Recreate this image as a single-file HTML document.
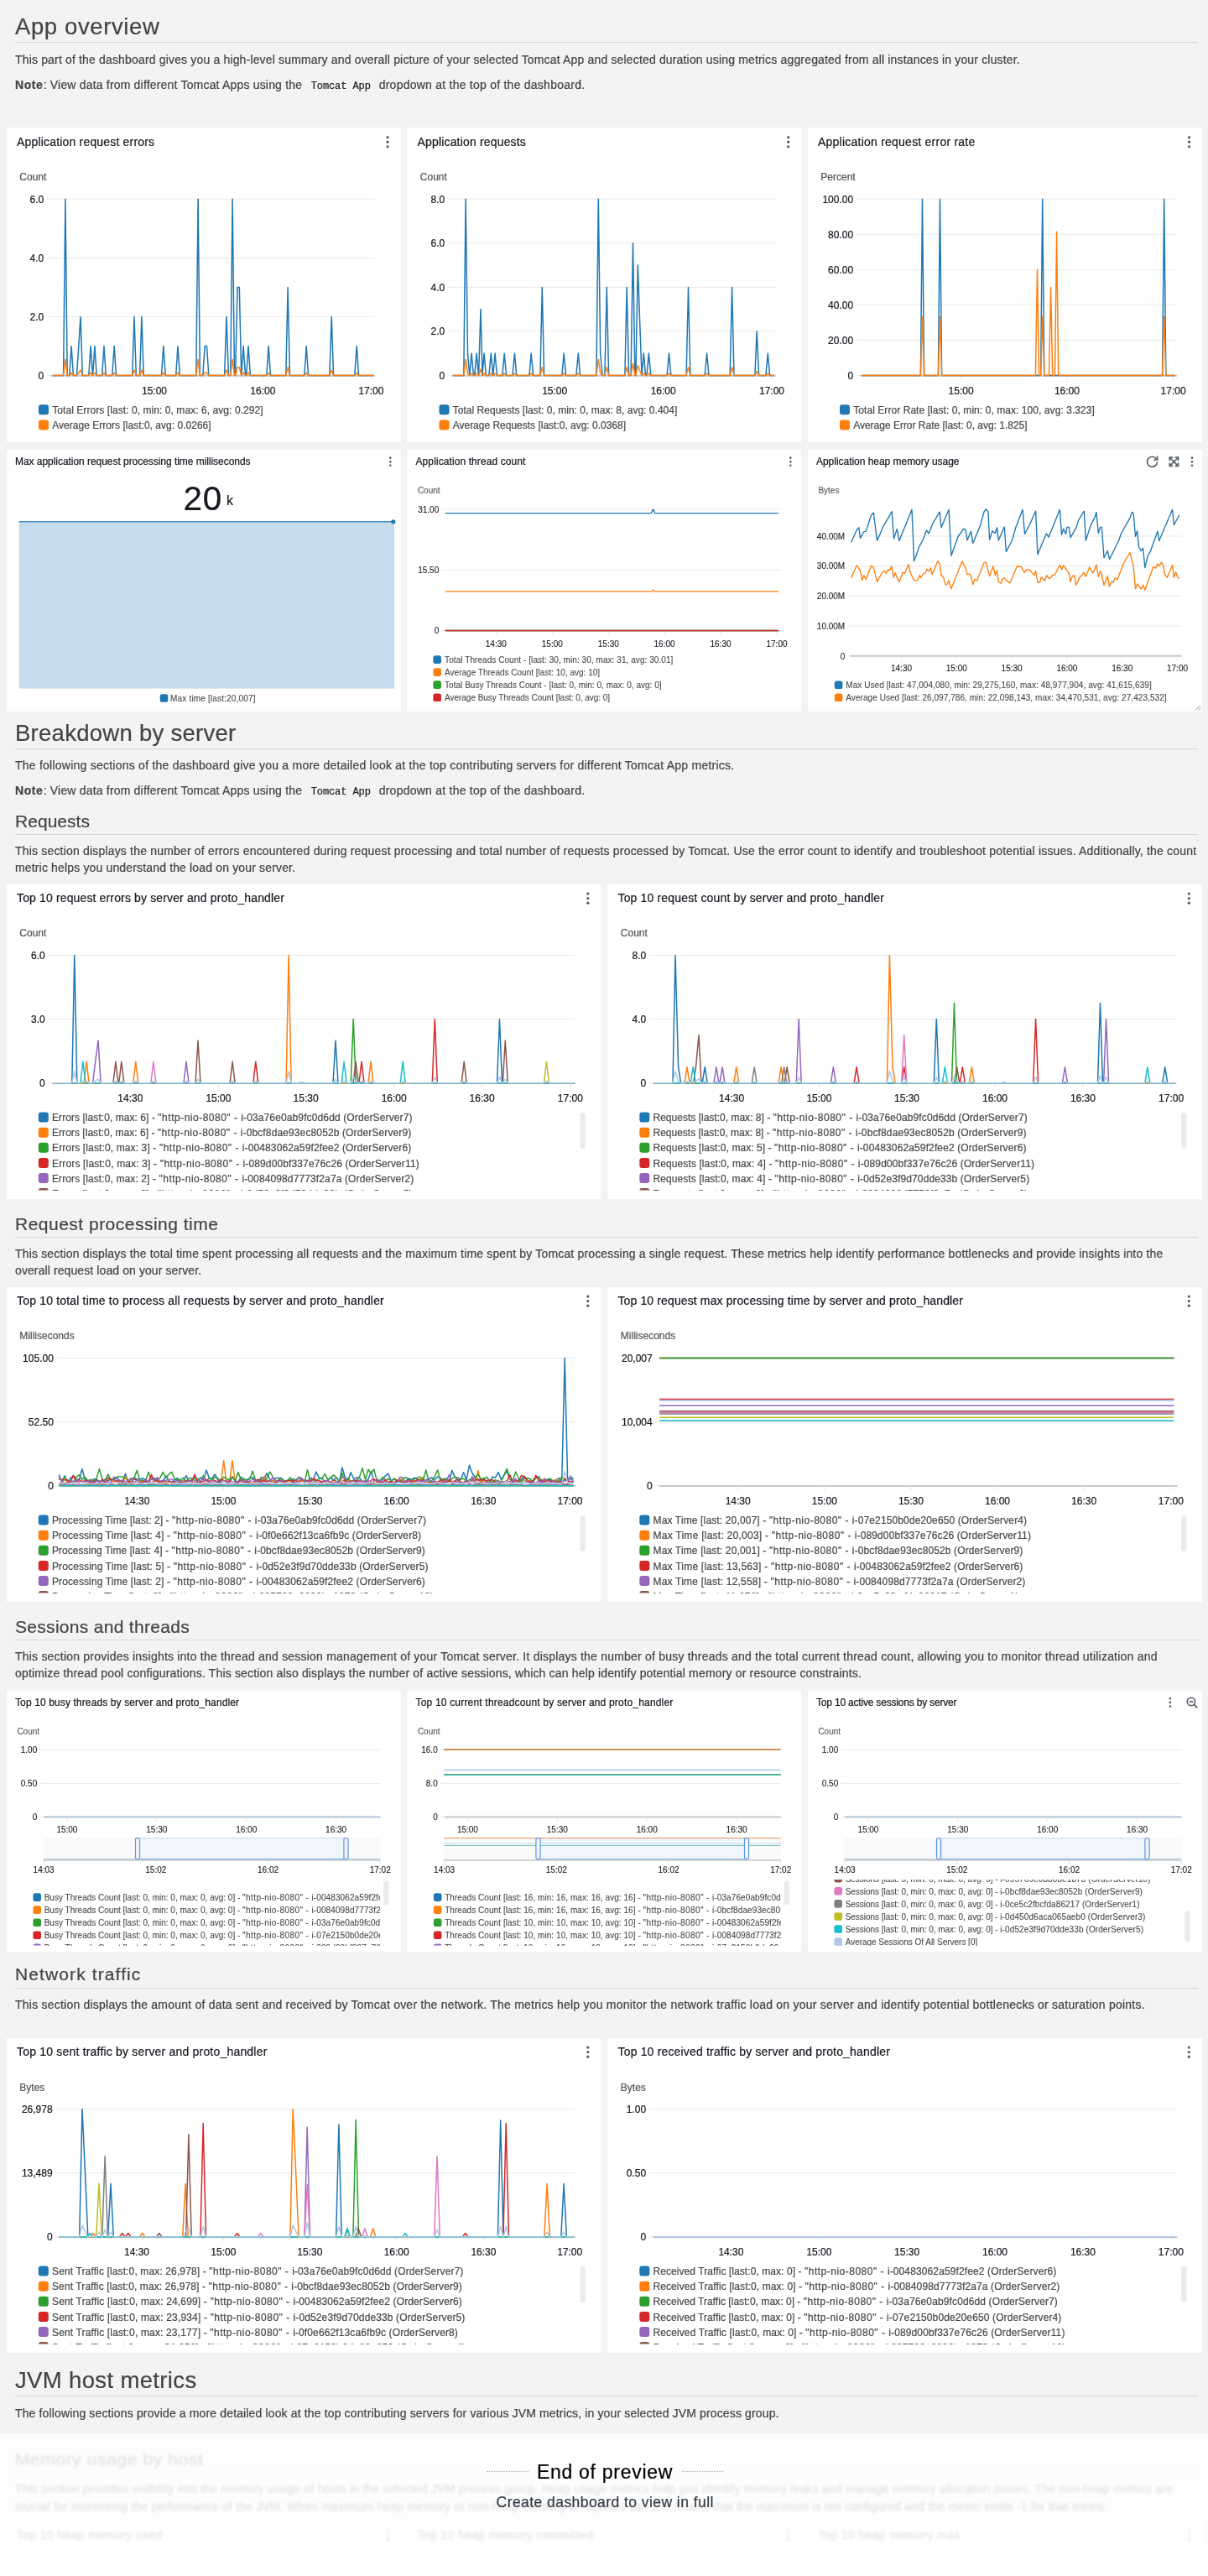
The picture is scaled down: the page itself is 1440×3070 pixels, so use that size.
<!DOCTYPE html>
<html lang="en"><head><meta charset="utf-8"><title>Tomcat dashboard preview</title>
<style>html,body{margin:0;padding:0}body{width:1440px;height:3070px;position:relative;overflow:hidden;background:#f2f3f3;font-family:"Liberation Sans",sans-serif}.t{position:absolute;white-space:pre;line-height:1;-webkit-text-stroke:0.22px currentColor}.c{position:absolute;overflow:hidden}svg.g{position:absolute;left:0;top:0}#w{position:absolute;left:0;top:0;width:1440px;height:3070px;will-change:transform}</style></head><body><div id="w">
<svg class="g" width="1440" height="3070" viewBox="0 0 1440 3070">
<rect x="8.00" y="152.00" width="469.70" height="375.00" fill="#fff" />
<rect x="485.50" y="152.00" width="469.70" height="375.00" fill="#fff" />
<rect x="963.00" y="152.00" width="470.00" height="375.00" fill="#fff" />
<rect x="8.00" y="536.00" width="469.70" height="312.00" fill="#fff" />
<rect x="485.50" y="536.00" width="469.70" height="312.00" fill="#fff" />
<rect x="963.00" y="536.00" width="470.00" height="312.00" fill="#fff" />
<rect x="8.00" y="2014.50" width="469.70" height="312.00" fill="#fff" />
<rect x="485.50" y="2014.50" width="469.70" height="312.00" fill="#fff" />
<rect x="963.00" y="2014.50" width="470.00" height="312.00" fill="#fff" />
<rect x="8.00" y="1054.00" width="708.50" height="375.00" fill="#fff" />
<rect x="724.50" y="1054.00" width="708.50" height="375.00" fill="#fff" />
<rect x="8.00" y="1534.00" width="708.50" height="375.00" fill="#fff" />
<rect x="724.50" y="1534.00" width="708.50" height="375.00" fill="#fff" />
<rect x="8.00" y="2429.00" width="708.50" height="375.00" fill="#fff" />
<rect x="724.50" y="2429.00" width="708.50" height="375.00" fill="#fff" />
<line x1="18.00" y1="50.50" x2="1428.00" y2="50.50" stroke="#d5d7d7" stroke-width="1" />
<line x1="18.00" y1="892.50" x2="1428.00" y2="892.50" stroke="#d5d7d7" stroke-width="1" />
<line x1="18.00" y1="994.50" x2="1428.00" y2="994.50" stroke="#d5d7d7" stroke-width="1" />
<line x1="18.00" y1="1474.50" x2="1428.00" y2="1474.50" stroke="#d5d7d7" stroke-width="1" />
<line x1="18.00" y1="1954.50" x2="1428.00" y2="1954.50" stroke="#d5d7d7" stroke-width="1" />
<line x1="18.00" y1="2369.50" x2="1428.00" y2="2369.50" stroke="#d5d7d7" stroke-width="1" />
<line x1="18.00" y1="2855.50" x2="1428.00" y2="2855.50" stroke="#d5d7d7" stroke-width="1" />
<circle cx="462.00" cy="163.65" r="1.6" fill="#545b64" />
<circle cx="462.00" cy="169.20" r="1.6" fill="#545b64" />
<circle cx="462.00" cy="174.75" r="1.6" fill="#545b64" />
<line x1="55.70" y1="237.30" x2="447.00" y2="237.30" stroke="#eaeaea" stroke-width="1" />
<line x1="55.70" y1="307.33" x2="447.00" y2="307.33" stroke="#eaeaea" stroke-width="1" />
<line x1="55.70" y1="377.37" x2="447.00" y2="377.37" stroke="#eaeaea" stroke-width="1" />
<line x1="55.70" y1="447.40" x2="447.00" y2="447.40" stroke="#eaeaea" stroke-width="1" />
<line x1="60.70" y1="447.70" x2="447.00" y2="447.70" stroke="#c8c8c8" stroke-width="2" />
<line x1="184.00" y1="448.40" x2="184.00" y2="452.40" stroke="#e4e4e4" stroke-width="1" />
<line x1="313.30" y1="448.40" x2="313.30" y2="452.40" stroke="#e4e4e4" stroke-width="1" />
<line x1="442.30" y1="448.40" x2="442.30" y2="452.40" stroke="#e4e4e4" stroke-width="1" />
<polyline points="63.2,447.4 75.6,447.4 77.9,237.3 80.2,447.4 82.8,447.4 85.1,412.4 87.4,447.4 91.5,447.4 93.8,412.4 96.0,377.4 98.3,447.4 105.8,447.4 108.1,412.4 110.4,447.4 110.6,447.4 112.9,412.4 115.2,447.4 121.7,447.4 124.0,412.4 126.3,447.4 133.8,447.4 136.2,412.4 138.5,447.4 157.7,447.4 160.0,377.4 162.3,447.4 166.6,447.4 168.9,377.4 171.2,447.4 192.5,447.4 194.8,412.4 197.2,447.4 209.7,447.4 212.0,412.4 214.3,447.4 233.8,447.4 236.1,237.3 238.4,447.4 241.8,447.4 244.2,412.4 246.5,412.4 248.8,447.4 267.6,447.4 270.0,377.4 272.4,447.4 274.8,447.4 277.1,237.3 279.5,447.4 280.6,447.4 283.0,342.4 285.3,342.4 287.7,447.4 287.8,447.4 290.1,412.4 292.5,447.4 293.6,447.4 296.0,412.4 298.4,447.4 317.8,447.4 320.1,412.4 322.5,447.4 340.8,447.4 343.1,342.4 345.5,447.4 362.8,447.4 365.2,412.4 367.6,447.4 392.8,447.4 395.2,377.4 397.6,447.4 422.8,447.4 425.2,412.4 427.6,447.4 445.2,447.4" fill="none" stroke="#1f77b4" stroke-width="1.5" stroke-linejoin="round" />
<polyline points="63.2,447.4 75.6,447.4 77.9,428.3 80.2,447.4 82.8,447.4 85.1,444.2 87.4,447.4 91.5,447.4 93.8,444.2 96.0,441.0 98.3,447.4 105.8,447.4 108.1,444.2 110.4,447.4 110.6,447.4 112.9,444.2 115.2,447.4 121.7,447.4 124.0,444.2 126.3,447.4 133.8,447.4 136.2,444.2 138.5,447.4 157.7,447.4 160.0,441.0 162.3,447.4 166.6,447.4 168.9,441.0 171.2,447.4 192.5,447.4 194.8,444.2 197.2,447.4 209.7,447.4 212.0,444.2 214.3,447.4 233.8,447.4 236.1,428.3 238.4,447.4 241.8,447.4 244.2,444.2 246.5,444.2 248.8,447.4 267.6,447.4 270.0,441.0 272.4,447.4 274.8,447.4 277.1,428.3 279.5,447.4 280.6,447.4 283.0,437.8 285.3,437.8 287.7,447.4 287.8,447.4 290.1,444.2 292.5,447.4 293.6,447.4 296.0,444.2 298.4,447.4 317.8,447.4 320.1,444.2 322.5,447.4 340.8,447.4 343.1,437.8 345.5,447.4 362.8,447.4 365.2,444.2 367.6,447.4 392.8,447.4 395.2,441.0 397.6,447.4 422.8,447.4 425.2,444.2 427.6,447.4 445.2,447.4" fill="none" stroke="#ff7f0e" stroke-width="1.5" stroke-linejoin="round" />
<rect x="46.00" y="482.30" width="12.00" height="12.00" fill="#1f77b4" rx="3" />
<rect x="46.00" y="500.40" width="12.00" height="12.00" fill="#ff7f0e" rx="3" />
<circle cx="939.70" cy="163.65" r="1.6" fill="#545b64" />
<circle cx="939.70" cy="169.20" r="1.6" fill="#545b64" />
<circle cx="939.70" cy="174.75" r="1.6" fill="#545b64" />
<line x1="533.70" y1="237.30" x2="924.60" y2="237.30" stroke="#eaeaea" stroke-width="1" />
<line x1="533.70" y1="289.82" x2="924.60" y2="289.82" stroke="#eaeaea" stroke-width="1" />
<line x1="533.70" y1="342.35" x2="924.60" y2="342.35" stroke="#eaeaea" stroke-width="1" />
<line x1="533.70" y1="394.88" x2="924.60" y2="394.88" stroke="#eaeaea" stroke-width="1" />
<line x1="533.70" y1="447.40" x2="924.60" y2="447.40" stroke="#eaeaea" stroke-width="1" />
<line x1="538.70" y1="447.70" x2="924.60" y2="447.70" stroke="#c8c8c8" stroke-width="2" />
<line x1="661.20" y1="448.40" x2="661.20" y2="452.40" stroke="#e4e4e4" stroke-width="1" />
<line x1="790.70" y1="448.40" x2="790.70" y2="452.40" stroke="#e4e4e4" stroke-width="1" />
<line x1="920.00" y1="448.40" x2="920.00" y2="452.40" stroke="#e4e4e4" stroke-width="1" />
<polyline points="540.0,447.4 552.8,447.4 555.1,237.3 557.5,421.1 559.8,447.4 562.1,421.1 564.5,447.4 565.8,447.4 568.1,421.1 570.5,447.4 570.6,447.4 573.0,368.6 575.0,447.4 577.0,421.1 579.4,447.4 582.9,447.4 585.3,421.1 587.6,447.4 587.8,447.4 590.1,421.1 592.5,447.4 598.9,447.4 601.2,421.1 603.6,447.4 611.0,447.4 613.4,421.1 615.8,447.4 630.9,447.4 633.2,421.1 635.6,447.4 643.9,447.4 646.3,342.4 648.6,447.4 669.9,447.4 672.2,421.1 674.6,447.4 686.9,447.4 689.3,421.1 691.6,447.4 710.9,447.4 713.3,237.3 715.7,421.1 718.1,447.4 720.9,447.4 723.3,342.4 725.6,447.4 744.9,447.4 747.2,342.4 749.6,447.4 752.1,447.4 754.5,289.8 756.9,447.4 757.9,447.4 760.3,316.1 762.7,384.4 765.0,447.4 767.3,421.1 769.6,447.4 771.0,447.4 773.4,421.1 775.8,447.4 795.1,447.4 797.5,421.1 799.9,447.4 818.1,447.4 820.5,342.4 822.9,447.4 840.2,447.4 842.6,421.1 845.0,447.4 870.2,447.4 872.6,342.4 875.0,447.4 899.9,447.4 902.2,394.9 904.6,447.4 912.9,447.4 915.3,421.1 917.6,447.4 922.6,447.4" fill="none" stroke="#1f77b4" stroke-width="1.5" stroke-linejoin="round" />
<polyline points="540.0,447.4 552.8,447.4 555.1,428.3 557.5,445.0 559.8,447.4 562.1,445.0 564.5,447.4 565.8,447.4 568.1,445.0 570.5,447.4 570.6,447.4 573.0,440.2 575.0,447.4 577.0,445.0 579.4,447.4 582.9,447.4 585.3,445.0 587.6,447.4 587.8,447.4 590.1,445.0 592.5,447.4 598.9,447.4 601.2,445.0 603.6,447.4 611.0,447.4 613.4,445.0 615.8,447.4 630.9,447.4 633.2,445.0 635.6,447.4 643.9,447.4 646.3,437.8 648.6,447.4 669.9,447.4 672.2,445.0 674.6,447.4 686.9,447.4 689.3,445.0 691.6,447.4 710.9,447.4 713.3,428.3 715.7,445.0 718.1,447.4 720.9,447.4 723.3,437.8 725.6,447.4 744.9,447.4 747.2,437.8 749.6,447.4 752.1,447.4 754.5,433.1 756.9,447.4 757.9,447.4 760.3,435.5 762.7,441.7 765.0,447.4 767.3,445.0 769.6,447.4 771.0,447.4 773.4,445.0 775.8,447.4 795.1,447.4 797.5,445.0 799.9,447.4 818.1,447.4 820.5,437.8 822.9,447.4 840.2,447.4 842.6,445.0 845.0,447.4 870.2,447.4 872.6,437.8 875.0,447.4 899.9,447.4 902.2,442.6 904.6,447.4 912.9,447.4 915.3,445.0 917.6,447.4 922.6,447.4" fill="none" stroke="#ff7f0e" stroke-width="1.5" stroke-linejoin="round" />
<rect x="523.50" y="482.30" width="12.00" height="12.00" fill="#1f77b4" rx="3" />
<rect x="523.50" y="500.40" width="12.00" height="12.00" fill="#ff7f0e" rx="3" />
<circle cx="1417.60" cy="163.65" r="1.6" fill="#545b64" />
<circle cx="1417.60" cy="169.20" r="1.6" fill="#545b64" />
<circle cx="1417.60" cy="174.75" r="1.6" fill="#545b64" />
<line x1="1020.60" y1="237.30" x2="1403.00" y2="237.30" stroke="#eaeaea" stroke-width="1" />
<line x1="1020.60" y1="279.32" x2="1403.00" y2="279.32" stroke="#eaeaea" stroke-width="1" />
<line x1="1020.60" y1="321.34" x2="1403.00" y2="321.34" stroke="#eaeaea" stroke-width="1" />
<line x1="1020.60" y1="363.36" x2="1403.00" y2="363.36" stroke="#eaeaea" stroke-width="1" />
<line x1="1020.60" y1="405.38" x2="1403.00" y2="405.38" stroke="#eaeaea" stroke-width="1" />
<line x1="1020.60" y1="447.40" x2="1403.00" y2="447.40" stroke="#eaeaea" stroke-width="1" />
<line x1="1025.60" y1="447.70" x2="1403.00" y2="447.70" stroke="#c8c8c8" stroke-width="2" />
<line x1="1145.60" y1="448.40" x2="1145.60" y2="452.40" stroke="#e4e4e4" stroke-width="1" />
<line x1="1271.90" y1="448.40" x2="1271.90" y2="452.40" stroke="#e4e4e4" stroke-width="1" />
<line x1="1398.60" y1="448.40" x2="1398.60" y2="452.40" stroke="#e4e4e4" stroke-width="1" />
<polyline points="1027.2,447.4 1097.4,447.4 1099.5,237.3 1101.6,447.4 1118.4,447.4 1120.5,237.3 1122.6,447.4 1240.6,447.4 1242.7,237.3 1244.8,447.4 1385.6,447.4 1387.7,237.3 1389.8,447.4 1400.6,447.4" fill="none" stroke="#1f77b4" stroke-width="1.5" stroke-linejoin="round" />
<polyline points="1027.2,447.4 1097.4,447.4 1099.5,377.4 1101.6,447.4 1118.4,447.4 1120.5,377.4 1122.6,447.4 1234.4,447.4 1236.5,321.3 1238.6,447.4 1240.6,447.4 1242.7,377.4 1244.8,447.4 1250.5,447.4 1252.6,342.4 1254.7,447.4 1257.5,447.4 1259.6,276.2 1261.7,447.4 1385.6,447.4 1387.7,377.4 1389.8,447.4 1400.6,447.4" fill="none" stroke="#ff7f0e" stroke-width="1.5" stroke-linejoin="round" />
<rect x="1001.00" y="482.30" width="12.00" height="12.00" fill="#1f77b4" rx="3" />
<rect x="1001.00" y="500.40" width="12.00" height="12.00" fill="#ff7f0e" rx="3" />
<circle cx="465.30" cy="545.65" r="1.3" fill="#545b64" />
<circle cx="465.30" cy="550.20" r="1.3" fill="#545b64" />
<circle cx="465.30" cy="554.75" r="1.3" fill="#545b64" />
<rect x="22.50" y="621.80" width="447.50" height="198.80" fill="#c6dcec" />
<line x1="22.50" y1="621.80" x2="469.00" y2="621.80" stroke="#4a8fc7" stroke-width="1.6" />
<circle cx="468.80" cy="621.80" r="2.6" fill="#1f77b4" />
<rect x="190.70" y="827.20" width="9.60" height="9.60" fill="#1f77b4" rx="2.6" />
<circle cx="942.30" cy="545.65" r="1.3" fill="#545b64" />
<circle cx="942.30" cy="550.20" r="1.3" fill="#545b64" />
<circle cx="942.30" cy="554.75" r="1.3" fill="#545b64" />
<line x1="526.70" y1="606.90" x2="930.20" y2="606.90" stroke="#eaeaea" stroke-width="1" />
<line x1="526.70" y1="679.20" x2="930.20" y2="679.20" stroke="#eaeaea" stroke-width="1" />
<line x1="526.70" y1="751.50" x2="930.20" y2="751.50" stroke="#eaeaea" stroke-width="1" />
<line x1="531.70" y1="751.80" x2="930.20" y2="751.80" stroke="#c8c8c8" stroke-width="2" />
<line x1="591.30" y1="752.50" x2="591.30" y2="756.50" stroke="#e4e4e4" stroke-width="1" />
<line x1="658.30" y1="752.50" x2="658.30" y2="756.50" stroke="#e4e4e4" stroke-width="1" />
<line x1="725.30" y1="752.50" x2="725.30" y2="756.50" stroke="#e4e4e4" stroke-width="1" />
<line x1="792.00" y1="752.50" x2="792.00" y2="756.50" stroke="#e4e4e4" stroke-width="1" />
<line x1="859.00" y1="752.50" x2="859.00" y2="756.50" stroke="#e4e4e4" stroke-width="1" />
<line x1="926.00" y1="752.50" x2="926.00" y2="756.50" stroke="#e4e4e4" stroke-width="1" />
<polyline points="530.7,611.6 776.4,611.6 778.6,606.9 780.8,611.6 927.8,611.6" fill="none" stroke="#1f77b4" stroke-width="1.3" stroke-linejoin="round" />
<polyline points="530.7,704.9 776.4,704.9 778.6,703.2 780.8,704.9 927.8,704.9" fill="none" stroke="#ff7f0e" stroke-width="1.3" stroke-linejoin="round" />
<polyline points="530.7,751.5 927.8,751.5" fill="none" stroke="#2ca02c" stroke-width="1.5" stroke-linejoin="round" />
<polyline points="530.7,751.5 927.8,751.5" fill="none" stroke="#d62728" stroke-width="1.5" stroke-linejoin="round" />
<rect x="516.40" y="781.30" width="9.60" height="9.60" fill="#1f77b4" rx="2.6" />
<rect x="516.40" y="796.33" width="9.60" height="9.60" fill="#ff7f0e" rx="2.6" />
<rect x="516.40" y="811.36" width="9.60" height="9.60" fill="#2ca02c" rx="2.6" />
<rect x="516.40" y="826.39" width="9.60" height="9.60" fill="#d62728" rx="2.6" />
<path d="M1378.6,547.1 A6,6 0 1 0 1379.5,550.4" fill="none" stroke="#545b64" stroke-width="1.6"/>
<path d="M1379.6,543.6 V548 H1375.2" fill="none" stroke="#545b64" stroke-width="1.6" stroke-linejoin="miter"/>
<path d="M1395.3,546.2 L1403.5,554.4 M1403.5,546.2 L1395.3,554.4" stroke="#545b64" stroke-width="1.6" fill="none"/>
<path d="M1398.1,545.2 H1394.3 V549.0" stroke="#545b64" stroke-width="1.7" fill="none"/>
<path d="M1400.7,545.2 H1404.5 V549.0" stroke="#545b64" stroke-width="1.7" fill="none"/>
<path d="M1398.1,555.4 H1394.3 V551.6" stroke="#545b64" stroke-width="1.7" fill="none"/>
<path d="M1400.7,555.4 H1404.5 V551.6" stroke="#545b64" stroke-width="1.7" fill="none"/>
<circle cx="1421.00" cy="545.65" r="1.3" fill="#545b64" />
<circle cx="1421.00" cy="550.20" r="1.3" fill="#545b64" />
<circle cx="1421.00" cy="554.75" r="1.3" fill="#545b64" />
<line x1="1010.70" y1="639.00" x2="1408.50" y2="639.00" stroke="#eaeaea" stroke-width="1" />
<line x1="1010.70" y1="674.70" x2="1408.50" y2="674.70" stroke="#eaeaea" stroke-width="1" />
<line x1="1010.70" y1="710.40" x2="1408.50" y2="710.40" stroke="#eaeaea" stroke-width="1" />
<line x1="1010.70" y1="746.10" x2="1408.50" y2="746.10" stroke="#eaeaea" stroke-width="1" />
<line x1="1010.70" y1="781.80" x2="1408.50" y2="781.80" stroke="#eaeaea" stroke-width="1" />
<line x1="1014.00" y1="781.80" x2="1408.50" y2="781.80" stroke="#c8c8c8" stroke-width="2" />
<line x1="1074.50" y1="782.80" x2="1074.50" y2="786.80" stroke="#e4e4e4" stroke-width="1" />
<line x1="1140.30" y1="782.80" x2="1140.30" y2="786.80" stroke="#e4e4e4" stroke-width="1" />
<line x1="1206.10" y1="782.80" x2="1206.10" y2="786.80" stroke="#e4e4e4" stroke-width="1" />
<line x1="1271.90" y1="782.80" x2="1271.90" y2="786.80" stroke="#e4e4e4" stroke-width="1" />
<line x1="1337.70" y1="782.80" x2="1337.70" y2="786.80" stroke="#e4e4e4" stroke-width="1" />
<line x1="1403.50" y1="782.80" x2="1403.50" y2="786.80" stroke="#e4e4e4" stroke-width="1" />
<polyline points="1014.6,646.5 1021.3,631.5 1023.8,628.6 1025.5,641.4 1029.7,633.7 1032.2,633.4 1038.6,613.7 1041.3,610.9 1045.5,644.1 1049.2,636.4 1052.3,628.3 1063.2,609.7 1065.6,641.9 1069.2,630.4 1071.9,644.6 1087.0,607.3 1089.6,668.9 1095.6,651.9 1100.5,642.8 1104.4,631.9 1107.1,635.9 1112.0,623.7 1120.2,610.0 1122.0,628.8 1131.1,607.3 1133.9,662.3 1142.1,639.5 1148.8,630.1 1151.2,631.9 1153.0,643.7 1157.5,633.2 1159.7,647.4 1168.5,626.4 1173.0,610.0 1175.4,606.8 1177.9,610.0 1179.6,643.2 1183.0,632.8 1186.3,635.5 1188.5,628.8 1190.3,644.1 1197.2,627.9 1199.4,657.4 1206.4,644.3 1210.9,628.3 1219.1,607.3 1221.5,636.4 1227.3,625.5 1234.6,609.1 1236.9,660.7 1247.3,635.9 1250.1,640.1 1263.4,607.3 1265.5,637.4 1267.7,630.1 1270.5,636.4 1271.9,628.3 1274.3,628.3 1276.1,640.6 1282.8,629.2 1285.6,620.1 1292.3,609.1 1294.3,644.3 1300.1,626.4 1305.1,616.4 1306.9,610.4 1309.3,635.5 1311.6,628.3 1313.4,628.3 1316.0,664.7 1320.2,656.5 1322.6,666.5 1333.8,643.7 1336.6,635.5 1347.0,617.3 1349.3,610.4 1351.1,611.5 1353.5,639.2 1355.7,632.8 1357.5,651.9 1360.3,656.5 1362.6,653.4 1364.8,676.5 1368.5,661.9 1371.2,657.4 1379.9,633.2 1381.7,644.6 1397.6,607.3 1399.4,625.5 1405.8,613.7" fill="none" stroke="#1f77b4" stroke-width="1.35" stroke-linejoin="round" />
<polyline points="1014.6,688.7 1021.3,673.8 1025.5,680.2 1027.7,691.5 1029.7,685.6 1032.2,690.5 1038.6,674.3 1041.3,676.2 1045.5,693.3 1052.3,681.1 1054.6,680.7 1056.4,683.3 1058.6,678.7 1060.6,679.8 1062.8,674.7 1065.2,688.4 1067.0,682.5 1071.9,693.8 1076.1,682.0 1078.5,683.4 1082.9,672.5 1085.6,683.8 1089.6,691.6 1093.8,691.6 1096.2,685.6 1098.0,688.4 1100.5,683.8 1102.9,683.4 1104.7,678.3 1107.1,681.1 1109.3,676.9 1111.1,684.7 1117.8,668.7 1120.2,672.0 1122.0,685.6 1124.4,687.4 1127.1,696.9 1129.3,696.0 1131.1,692.0 1133.9,701.7 1147.0,668.7 1151.2,677.4 1153.0,684.7 1155.7,684.2 1157.5,686.2 1159.7,696.6 1162.1,690.2 1164.5,692.0 1173.0,670.7 1175.4,670.1 1179.6,686.5 1184.0,674.7 1186.3,685.6 1188.5,680.2 1190.3,693.5 1193.1,695.3 1195.4,689.3 1197.2,688.7 1199.4,691.6 1204.0,694.7 1212.7,674.3 1214.9,675.6 1217.1,675.2 1221.3,682.5 1223.5,678.7 1223.6,678.7 1227.3,679.3 1232.8,685.6 1234.6,680.5 1236.9,694.4 1239.7,693.5 1241.3,687.8 1245.5,692.0 1247.7,685.6 1250.1,689.3 1252.4,688.9 1254.6,685.3 1257.3,685.3 1263.4,673.2 1265.5,678.9 1267.7,673.8 1274.3,683.3 1276.1,693.3 1278.3,686.5 1280.7,686.0 1282.8,697.5 1287.4,687.4 1289.6,686.2 1291.9,682.0 1294.3,687.1 1298.7,676.0 1302.9,682.9 1306.9,672.9 1309.3,687.4 1311.6,680.5 1313.4,684.7 1316.0,697.5 1320.2,686.5 1322.6,698.9 1325.1,692.9 1326.9,694.2 1329.3,688.9 1332.0,690.7 1338.4,673.8 1342.0,666.5 1347.0,658.7 1351.1,674.7 1353.5,701.7 1355.7,696.0 1360.3,702.0 1362.6,697.1 1364.8,703.3 1374.8,675.6 1377.6,677.1 1379.9,672.0 1381.7,674.7 1384.5,670.1 1386.7,673.8 1388.5,684.7 1391.2,688.4 1397.6,673.4 1399.4,688.4 1401.6,681.6 1404.0,688.4 1405.8,689.3" fill="none" stroke="#ff7f0e" stroke-width="1.35" stroke-linejoin="round" />
<rect x="994.80" y="811.50" width="9.60" height="9.60" fill="#1f77b4" rx="2.6" />
<rect x="994.80" y="826.50" width="9.60" height="9.60" fill="#ff7f0e" rx="2.6" />
<path d="M1425.5,846 L1431,840.5 M1428.5,846.5 L1431.5,843.5" stroke="#879596" stroke-width="1" fill="none"/>
<circle cx="700.80" cy="1065.05" r="1.6" fill="#545b64" />
<circle cx="700.80" cy="1070.60" r="1.6" fill="#545b64" />
<circle cx="700.80" cy="1076.15" r="1.6" fill="#545b64" />
<line x1="57.20" y1="1138.50" x2="685.80" y2="1138.50" stroke="#eaeaea" stroke-width="1" />
<line x1="57.20" y1="1214.60" x2="685.80" y2="1214.60" stroke="#eaeaea" stroke-width="1" />
<line x1="57.20" y1="1290.70" x2="685.80" y2="1290.70" stroke="#eaeaea" stroke-width="1" />
<line x1="62.20" y1="1291.00" x2="685.80" y2="1291.00" stroke="#c8c8c8" stroke-width="2" />
<line x1="155.30" y1="1291.70" x2="155.30" y2="1295.70" stroke="#e4e4e4" stroke-width="1" />
<line x1="260.40" y1="1291.70" x2="260.40" y2="1295.70" stroke="#e4e4e4" stroke-width="1" />
<line x1="364.60" y1="1291.70" x2="364.60" y2="1295.70" stroke="#e4e4e4" stroke-width="1" />
<line x1="469.70" y1="1291.70" x2="469.70" y2="1295.70" stroke="#e4e4e4" stroke-width="1" />
<line x1="574.60" y1="1291.70" x2="574.60" y2="1295.70" stroke="#e4e4e4" stroke-width="1" />
<line x1="679.80" y1="1291.70" x2="679.80" y2="1295.70" stroke="#e4e4e4" stroke-width="1" />
<polyline points="63.1,1290.7 85.8,1290.7 88.8,1138.5 91.8,1290.7 397.0,1290.7 400.0,1240.0 403.0,1290.7 592.5,1290.7 595.5,1214.6 598.5,1290.7 684.3,1290.7" fill="none" stroke="#1f77b4" stroke-width="1.5" stroke-linejoin="round" />
<polyline points="63.1,1290.7 100.1,1290.7 103.1,1265.3 106.1,1290.7 158.8,1290.7 161.8,1265.3 164.8,1290.7 341.1,1290.7 344.1,1138.5 347.1,1290.7 439.0,1290.7 442.0,1265.3 445.0,1290.7 684.3,1290.7" fill="none" stroke="#ff7f0e" stroke-width="1.5" stroke-linejoin="round" />
<polyline points="63.1,1290.7 418.2,1290.7 421.2,1214.6 424.2,1290.7 684.3,1290.7" fill="none" stroke="#2ca02c" stroke-width="1.5" stroke-linejoin="round" />
<polyline points="63.1,1290.7 301.8,1290.7 304.8,1265.3 307.8,1290.7 428.0,1290.7 431.0,1265.3 434.0,1290.7 515.3,1290.7 518.3,1214.6 521.3,1290.7 684.3,1290.7" fill="none" stroke="#d62728" stroke-width="1.5" stroke-linejoin="round" />
<polyline points="63.1,1290.7 110.6,1290.7 113.6,1265.3 117.1,1240.0 120.1,1290.7 219.0,1290.7 222.0,1265.3 225.0,1290.7 684.3,1290.7" fill="none" stroke="#9467bd" stroke-width="1.5" stroke-linejoin="round" />
<polyline points="63.1,1290.7 134.9,1290.7 137.9,1265.3 140.9,1290.7 141.8,1290.7 144.8,1265.3 147.8,1290.7 233.0,1290.7 236.0,1240.0 239.0,1290.7 274.1,1290.7 277.1,1265.3 280.1,1290.7 421.1,1290.7 424.1,1265.3 427.1,1290.7 550.2,1290.7 553.2,1265.3 556.2,1290.7 599.3,1290.7 602.3,1240.0 605.3,1290.7 684.3,1290.7" fill="none" stroke="#8c564b" stroke-width="1.5" stroke-linejoin="round" />
<polyline points="63.1,1290.7 179.9,1290.7 182.9,1265.3 185.9,1290.7 684.3,1290.7" fill="none" stroke="#e377c2" stroke-width="1.5" stroke-linejoin="round" />
<polyline points="63.1,1290.7 684.3,1290.7" fill="none" stroke="#7f7f7f" stroke-width="1.5" stroke-linejoin="round" />
<polyline points="63.1,1290.7 648.5,1290.7 651.5,1265.3 654.5,1290.7 684.3,1290.7" fill="none" stroke="#bcbd22" stroke-width="1.5" stroke-linejoin="round" />
<polyline points="63.1,1290.7 95.9,1290.7 98.9,1265.3 101.9,1290.7 407.1,1290.7 410.1,1265.3 413.1,1290.7 477.2,1290.7 480.2,1265.3 483.2,1290.7 684.3,1290.7" fill="none" stroke="#17becf" stroke-width="1.5" stroke-linejoin="round" />
<polyline points="63.1,1290.7 85.8,1290.7 88.8,1276.9 91.8,1290.7 95.9,1290.7 98.9,1288.4 103.1,1288.4 106.1,1290.7 110.6,1290.7 113.6,1288.4 117.1,1286.1 120.1,1290.7 134.9,1290.7 137.9,1288.4 140.9,1290.7 141.8,1290.7 144.8,1288.4 147.8,1290.7 158.8,1290.7 161.8,1288.4 164.8,1290.7 179.9,1290.7 182.9,1288.4 185.9,1290.7 219.0,1290.7 222.0,1288.4 225.0,1290.7 233.0,1290.7 236.0,1286.1 239.0,1290.7 274.1,1290.7 277.1,1288.4 280.1,1290.7 301.8,1290.7 304.8,1288.4 307.8,1290.7 341.1,1290.7 344.1,1276.9 347.1,1290.7 397.0,1290.7 400.0,1286.1 403.0,1290.7 407.1,1290.7 410.1,1288.4 413.1,1290.7 418.2,1290.7 421.2,1283.8 424.1,1288.4 427.1,1290.7 428.0,1290.7 431.0,1288.4 434.0,1290.7 439.0,1290.7 442.0,1288.4 445.0,1290.7 477.2,1290.7 480.2,1288.4 483.2,1290.7 515.3,1290.7 518.3,1283.8 521.3,1290.7 550.2,1290.7 553.2,1288.4 556.2,1290.7 592.5,1290.7 595.5,1283.8 598.5,1290.7 599.3,1290.7 602.3,1286.1 605.3,1290.7 648.5,1290.7 651.5,1288.4 654.5,1290.7 684.3,1290.7" fill="none" stroke="#aec7e8" stroke-width="1.5" stroke-linejoin="round" />
<path d="M356.5,1290.7 Q359.6,1288.2 362.7,1290.7" stroke="#aec7e8" stroke-width="1.5" fill="none"/>
<rect x="45.80" y="1325.60" width="12.00" height="12.00" fill="#1f77b4" rx="3" />
<rect x="45.80" y="1343.70" width="12.00" height="12.00" fill="#ff7f0e" rx="3" />
<rect x="45.80" y="1361.80" width="12.00" height="12.00" fill="#2ca02c" rx="3" />
<rect x="45.80" y="1379.90" width="12.00" height="12.00" fill="#d62728" rx="3" />
<rect x="45.80" y="1398.00" width="12.00" height="12.00" fill="#9467bd" rx="3" />
<path d="M45.80,1418.60 V1419.10 Q45.80,1416.10 48.80,1416.10 H54.80 Q57.80,1416.10 57.80,1419.10 V1418.60 Z" fill="#8c564b"/>
<rect x="691.50" y="1326.00" width="6.50" height="43.00" fill="#e9ebed" rx="3.25" />
<circle cx="1417.30" cy="1065.05" r="1.6" fill="#545b64" />
<circle cx="1417.30" cy="1070.60" r="1.6" fill="#545b64" />
<circle cx="1417.30" cy="1076.15" r="1.6" fill="#545b64" />
<line x1="773.70" y1="1138.50" x2="1402.30" y2="1138.50" stroke="#eaeaea" stroke-width="1" />
<line x1="773.70" y1="1214.60" x2="1402.30" y2="1214.60" stroke="#eaeaea" stroke-width="1" />
<line x1="773.70" y1="1290.70" x2="1402.30" y2="1290.70" stroke="#eaeaea" stroke-width="1" />
<line x1="778.70" y1="1291.00" x2="1402.30" y2="1291.00" stroke="#c8c8c8" stroke-width="2" />
<line x1="872.10" y1="1291.70" x2="872.10" y2="1295.70" stroke="#e4e4e4" stroke-width="1" />
<line x1="976.40" y1="1291.70" x2="976.40" y2="1295.70" stroke="#e4e4e4" stroke-width="1" />
<line x1="1081.00" y1="1291.70" x2="1081.00" y2="1295.70" stroke="#e4e4e4" stroke-width="1" />
<line x1="1186.00" y1="1291.70" x2="1186.00" y2="1295.70" stroke="#e4e4e4" stroke-width="1" />
<line x1="1290.90" y1="1291.70" x2="1290.90" y2="1295.70" stroke="#e4e4e4" stroke-width="1" />
<line x1="1396.10" y1="1291.70" x2="1396.10" y2="1295.70" stroke="#e4e4e4" stroke-width="1" />
<polyline points="779.6,1290.7 802.0,1290.7 805.0,1138.5 808.6,1271.7 811.6,1290.7 837.2,1290.7 840.2,1271.7 843.2,1290.7 1113.3,1290.7 1116.3,1214.6 1119.3,1290.7 1308.5,1290.7 1311.5,1195.6 1314.5,1290.7 1385.7,1290.7 1388.7,1271.7 1391.7,1290.7 1400.8,1290.7" fill="none" stroke="#1f77b4" stroke-width="1.5" stroke-linejoin="round" />
<polyline points="779.6,1290.7 816.0,1290.7 819.0,1271.7 822.0,1290.7 874.8,1290.7 877.8,1271.7 880.8,1290.7 928.1,1290.7 931.1,1271.7 934.1,1290.7 1057.4,1290.7 1060.4,1138.5 1064.0,1271.7 1067.0,1290.7 1155.3,1290.7 1158.3,1271.7 1161.3,1290.7 1400.8,1290.7" fill="none" stroke="#ff7f0e" stroke-width="1.5" stroke-linejoin="round" />
<polyline points="779.6,1290.7 1134.5,1290.7 1137.5,1195.6 1140.5,1290.7 1400.8,1290.7" fill="none" stroke="#2ca02c" stroke-width="1.5" stroke-linejoin="round" />
<polyline points="779.6,1290.7 1018.1,1290.7 1021.1,1271.7 1024.1,1290.7 1074.7,1290.7 1077.7,1271.7 1080.7,1290.7 1144.3,1290.7 1147.3,1271.7 1150.3,1290.7 1231.6,1290.7 1234.6,1214.6 1237.6,1290.7 1400.8,1290.7" fill="none" stroke="#d62728" stroke-width="1.5" stroke-linejoin="round" />
<polyline points="779.6,1290.7 850.9,1290.7 853.9,1271.7 856.9,1290.7 858.0,1290.7 861.0,1271.7 864.0,1290.7 949.2,1290.7 952.2,1214.6 955.2,1290.7 990.4,1290.7 993.4,1271.7 996.4,1290.7 1266.5,1290.7 1269.5,1271.7 1272.5,1290.7 1315.6,1290.7 1318.6,1214.6 1321.6,1290.7 1400.8,1290.7" fill="none" stroke="#9467bd" stroke-width="1.5" stroke-linejoin="round" />
<polyline points="779.6,1290.7 826.5,1290.7 829.5,1271.7 833.0,1233.6 836.0,1290.7 935.2,1290.7 938.2,1271.7 941.2,1290.7 1137.7,1290.7 1140.7,1271.7 1143.7,1290.7 1400.8,1290.7" fill="none" stroke="#8c564b" stroke-width="1.5" stroke-linejoin="round" />
<polyline points="779.6,1290.7 1074.7,1290.7 1077.7,1233.6 1080.7,1290.7 1400.8,1290.7" fill="none" stroke="#e377c2" stroke-width="1.5" stroke-linejoin="round" />
<polyline points="779.6,1290.7 896.2,1290.7 899.2,1271.7 902.2,1290.7 931.7,1290.7 934.7,1271.7 937.7,1290.7 1400.8,1290.7" fill="none" stroke="#7f7f7f" stroke-width="1.5" stroke-linejoin="round" />
<polyline points="779.6,1290.7 1400.8,1290.7" fill="none" stroke="#bcbd22" stroke-width="1.5" stroke-linejoin="round" />
<polyline points="779.6,1290.7 823.2,1290.7 826.2,1271.7 829.2,1290.7 1123.4,1290.7 1126.4,1271.7 1129.4,1290.7 1364.8,1290.7 1367.8,1271.7 1370.8,1290.7 1400.8,1290.7" fill="none" stroke="#17becf" stroke-width="1.5" stroke-linejoin="round" />
<polyline points="779.6,1290.7 802.0,1290.7 805.0,1276.9 808.6,1289.0 811.6,1290.7 816.0,1290.7 819.0,1289.0 822.0,1290.7 823.2,1290.7 826.2,1289.0 829.5,1289.0 833.0,1285.5 836.0,1290.7 837.2,1290.7 840.2,1289.0 843.2,1290.7 850.9,1290.7 853.9,1289.0 856.9,1290.7 858.0,1290.7 861.0,1289.0 864.0,1290.7 874.8,1290.7 877.8,1289.0 880.8,1290.7 896.2,1290.7 899.2,1289.0 902.2,1290.7 928.1,1290.7 931.1,1289.0 934.7,1289.0 938.2,1289.0 941.2,1290.7 949.2,1290.7 952.2,1283.8 955.2,1290.7 990.4,1290.7 993.4,1289.0 996.4,1290.7 1018.1,1290.7 1021.1,1289.0 1024.1,1290.7 1057.4,1290.7 1060.4,1276.9 1064.0,1289.0 1067.0,1290.7 1074.7,1290.7 1077.7,1283.8 1080.7,1290.7 1113.3,1290.7 1116.3,1283.8 1119.3,1290.7 1123.4,1290.7 1126.4,1289.0 1129.4,1290.7 1134.5,1290.7 1137.5,1282.1 1140.7,1289.0 1143.7,1290.7 1144.3,1290.7 1147.3,1289.0 1150.3,1290.7 1155.3,1290.7 1158.3,1289.0 1161.3,1290.7 1231.6,1290.7 1234.6,1283.8 1237.6,1290.7 1266.5,1290.7 1269.5,1289.0 1272.5,1290.7 1308.5,1290.7 1311.5,1282.1 1314.5,1290.7 1315.6,1290.7 1318.6,1283.8 1321.6,1290.7 1364.8,1290.7 1367.8,1289.0 1370.8,1290.7 1385.7,1290.7 1388.7,1289.0 1391.7,1290.7 1400.8,1290.7" fill="none" stroke="#aec7e8" stroke-width="1.5" stroke-linejoin="round" />
<path d="M1193.5,1290.7 Q1196.5,1288.2 1199.5,1290.7" stroke="#aec7e8" stroke-width="1.5" fill="none"/>
<rect x="762.30" y="1325.60" width="12.00" height="12.00" fill="#1f77b4" rx="3" />
<rect x="762.30" y="1343.70" width="12.00" height="12.00" fill="#ff7f0e" rx="3" />
<rect x="762.30" y="1361.80" width="12.00" height="12.00" fill="#2ca02c" rx="3" />
<rect x="762.30" y="1379.90" width="12.00" height="12.00" fill="#d62728" rx="3" />
<rect x="762.30" y="1398.00" width="12.00" height="12.00" fill="#9467bd" rx="3" />
<path d="M762.30,1418.60 V1419.10 Q762.30,1416.10 765.30,1416.10 H771.30 Q774.30,1416.10 774.30,1419.10 V1418.60 Z" fill="#8c564b"/>
<rect x="1408.00" y="1326.00" width="6.50" height="43.00" fill="#e9ebed" rx="3.25" />
<circle cx="700.80" cy="1545.05" r="1.6" fill="#545b64" />
<circle cx="700.80" cy="1550.60" r="1.6" fill="#545b64" />
<circle cx="700.80" cy="1556.15" r="1.6" fill="#545b64" />
<line x1="67.30" y1="1618.50" x2="686.50" y2="1618.50" stroke="#eaeaea" stroke-width="1" />
<line x1="67.30" y1="1694.60" x2="686.50" y2="1694.60" stroke="#eaeaea" stroke-width="1" />
<line x1="67.30" y1="1770.70" x2="686.50" y2="1770.70" stroke="#eaeaea" stroke-width="1" />
<line x1="72.30" y1="1771.00" x2="686.50" y2="1771.00" stroke="#c8c8c8" stroke-width="2" />
<line x1="163.30" y1="1771.70" x2="163.30" y2="1775.70" stroke="#e4e4e4" stroke-width="1" />
<line x1="266.40" y1="1771.70" x2="266.40" y2="1775.70" stroke="#e4e4e4" stroke-width="1" />
<line x1="369.50" y1="1771.70" x2="369.50" y2="1775.70" stroke="#e4e4e4" stroke-width="1" />
<line x1="472.60" y1="1771.70" x2="472.60" y2="1775.70" stroke="#e4e4e4" stroke-width="1" />
<line x1="576.30" y1="1771.70" x2="576.30" y2="1775.70" stroke="#e4e4e4" stroke-width="1" />
<line x1="679.50" y1="1771.70" x2="679.50" y2="1775.70" stroke="#e4e4e4" stroke-width="1" />
<polyline points="70.3,1757.3 73.7,1766.5 77.2,1758.7 80.6,1766.7 84.1,1761.6 87.5,1758.9 91.0,1762.8 94.4,1763.2 97.9,1750.6 101.3,1763.7 104.7,1764.9 108.2,1765.8 111.6,1762.8 115.1,1762.7 118.5,1765.6 122.0,1764.1 125.4,1763.1 128.9,1765.0 132.3,1762.4 135.8,1763.2 139.2,1761.2 142.6,1765.1 146.1,1766.2 149.5,1756.3 153.0,1766.7 156.4,1761.9 159.9,1761.2 163.3,1762.4 166.8,1763.1 170.2,1761.5 173.6,1763.8 177.1,1766.5 180.5,1762.7 184.0,1761.6 187.4,1764.4 190.9,1766.8 194.3,1765.2 197.8,1759.0 201.2,1764.4 204.7,1766.4 208.1,1763.3 211.5,1761.6 215.0,1765.1 218.4,1764.6 221.9,1758.6 225.3,1765.4 228.8,1763.8 232.2,1760.4 235.7,1764.5 239.1,1760.7 242.5,1763.6 246.0,1752.1 249.4,1761.8 252.9,1761.7 256.3,1757.0 259.8,1764.1 263.2,1765.9 266.7,1764.8 270.1,1766.3 273.6,1766.8 277.0,1760.0 280.4,1764.7 283.9,1766.1 287.3,1760.5 290.8,1762.6 294.2,1764.7 297.7,1761.3 301.1,1760.7 304.6,1766.0 308.0,1766.8 311.4,1760.5 314.9,1762.4 318.3,1755.6 321.8,1763.5 325.2,1764.8 328.7,1761.6 332.1,1761.4 335.6,1761.6 339.0,1765.5 342.5,1764.3 345.9,1765.1 349.3,1762.4 352.8,1764.0 356.2,1760.5 359.7,1764.6 363.1,1765.5 366.6,1765.6 370.0,1761.1 373.5,1763.8 376.9,1754.1 380.3,1761.0 383.8,1762.0 387.2,1765.8 390.7,1764.8 394.1,1760.6 397.6,1764.3 401.0,1760.7 404.5,1765.9 407.9,1749.0 411.3,1760.5 414.8,1764.6 418.2,1754.8 421.7,1762.7 425.1,1760.8 428.6,1761.2 432.0,1765.6 435.5,1765.0 438.9,1763.1 442.4,1753.6 445.8,1764.6 449.2,1763.1 452.7,1764.2 456.1,1763.7 459.6,1758.4 463.0,1756.5 466.5,1765.8 469.9,1762.2 473.4,1764.8 476.8,1763.3 480.2,1766.2 483.7,1765.3 487.1,1761.9 490.6,1763.3 494.0,1761.0 497.5,1762.9 500.9,1763.6 504.4,1764.0 507.8,1763.8 511.3,1762.4 514.7,1760.8 518.1,1763.3 521.6,1760.0 525.0,1761.3 528.5,1766.5 531.9,1761.8 535.4,1765.9 538.8,1752.4 542.3,1760.6 545.7,1760.7 549.1,1763.8 552.6,1754.8 556.0,1763.6 559.5,1746.1 562.9,1755.8 566.4,1760.2 569.8,1762.9 573.3,1766.5 576.7,1761.8 580.2,1766.2 583.6,1766.7 587.0,1760.3 590.5,1761.0 593.9,1754.6 597.4,1763.2 600.8,1758.4 604.3,1753.3 607.7,1762.8 611.2,1766.4 614.6,1766.5 618.0,1764.0 621.5,1763.3 624.9,1759.1 628.4,1763.5 631.8,1766.6 635.3,1764.9 638.7,1762.0 642.2,1759.6 645.6,1766.8 649.1,1766.8 652.5,1763.3 655.9,1763.8 659.4,1766.2 662.8,1764.1 666.3,1761.5 669.7,1766.4 673.2,1618.5 676.6,1762.0 680.1,1762.8 683.5,1763.2" fill="none" stroke="#1f77b4" stroke-width="1.5" stroke-linejoin="round" />
<polyline points="70.3,1768.1 73.7,1767.3 77.2,1768.0 80.6,1764.6 84.1,1767.2 87.5,1767.1 91.0,1767.7 94.4,1767.2 97.9,1764.2 101.3,1767.3 104.7,1767.0 108.2,1768.4 111.6,1766.3 115.1,1767.5 118.5,1768.4 122.0,1768.0 125.4,1766.0 128.9,1767.4 132.3,1766.1 135.8,1765.5 139.2,1764.6 142.6,1767.0 146.1,1767.7 149.5,1759.5 153.0,1764.5 156.4,1765.2 159.9,1767.8 163.3,1766.2 166.8,1764.9 170.2,1765.8 173.6,1765.4 177.1,1766.4 180.5,1766.8 184.0,1764.7 187.4,1765.7 190.9,1765.4 194.3,1768.4 197.8,1765.1 201.2,1766.1 204.7,1768.1 208.1,1767.3 211.5,1767.2 215.0,1767.5 218.4,1764.1 221.9,1766.7 225.3,1765.4 228.8,1765.7 232.2,1768.0 235.7,1767.3 239.1,1767.1 242.5,1768.3 246.0,1767.2 249.4,1765.4 252.9,1767.1 256.3,1766.4 259.8,1767.9 263.2,1767.5 266.7,1740.8 270.1,1767.8 273.6,1766.4 277.0,1740.8 280.4,1767.5 283.9,1767.8 287.3,1764.2 290.8,1764.8 294.2,1764.5 297.7,1767.4 301.1,1766.2 304.6,1766.2 308.0,1767.1 311.4,1766.9 314.9,1759.3 318.3,1764.7 321.8,1764.4 325.2,1764.5 328.7,1766.8 332.1,1764.0 335.6,1766.8 339.0,1766.4 342.5,1764.8 345.9,1764.3 349.3,1767.2 352.8,1767.6 356.2,1764.2 359.7,1764.8 363.1,1764.4 366.6,1766.0 370.0,1768.2 373.5,1766.4 376.9,1765.6 380.3,1768.2 383.8,1767.8 387.2,1766.9 390.7,1765.2 394.1,1767.2 397.6,1767.1 401.0,1766.7 404.5,1767.7 407.9,1764.4 411.3,1767.4 414.8,1764.0 418.2,1767.8 421.7,1768.0 425.1,1768.0 428.6,1767.3 432.0,1764.5 435.5,1766.6 438.9,1766.1 442.4,1766.9 445.8,1767.2 449.2,1767.8 452.7,1765.6 456.1,1767.4 459.6,1767.3 463.0,1766.4 466.5,1764.7 469.9,1763.1 473.4,1764.5 476.8,1763.0 480.2,1764.4 483.7,1764.7 487.1,1767.3 490.6,1767.7 494.0,1765.4 497.5,1765.2 500.9,1765.1 504.4,1760.3 507.8,1767.4 511.3,1765.6 514.7,1767.8 518.1,1765.6 521.6,1767.9 525.0,1766.1 528.5,1766.7 531.9,1763.6 535.4,1766.4 538.8,1765.6 542.3,1766.3 545.7,1767.3 549.1,1765.3 552.6,1768.3 556.0,1765.4 559.5,1767.3 562.9,1764.4 566.4,1768.2 569.8,1752.6 573.3,1767.5 576.7,1765.2 580.2,1767.5 583.6,1767.0 587.0,1767.4 590.5,1765.1 593.9,1764.2 597.4,1767.6 600.8,1766.6 604.3,1764.3 607.7,1766.7 611.2,1764.1 614.6,1768.2 618.0,1766.7 621.5,1764.5 624.9,1764.0 628.4,1766.9 631.8,1764.3 635.3,1768.2 638.7,1766.7 642.2,1766.9 645.6,1768.4 649.1,1766.9 652.5,1767.8 655.9,1767.5 659.4,1764.8 662.8,1763.1 666.3,1766.8 669.7,1767.5 673.2,1761.5 676.6,1764.9 680.1,1767.8 683.5,1764.4" fill="none" stroke="#ff7f0e" stroke-width="1.5" stroke-linejoin="round" />
<polyline points="70.3,1761.5 73.7,1764.1 77.2,1760.1 80.6,1764.6 84.1,1764.3 87.5,1766.3 91.0,1760.4 94.4,1757.5 97.9,1763.3 101.3,1760.1 104.7,1764.7 108.2,1763.1 111.6,1765.2 115.1,1761.5 118.5,1750.4 122.0,1764.2 125.4,1764.0 128.9,1757.1 132.3,1764.3 135.8,1762.7 139.2,1760.0 142.6,1759.9 146.1,1760.0 149.5,1761.7 153.0,1764.8 156.4,1762.3 159.9,1761.5 163.3,1752.3 166.8,1764.4 170.2,1763.9 173.6,1765.1 177.1,1754.5 180.5,1762.6 184.0,1763.8 187.4,1763.0 190.9,1761.1 194.3,1754.4 197.8,1761.0 201.2,1757.0 204.7,1754.3 208.1,1762.5 211.5,1763.9 215.0,1763.4 218.4,1761.3 221.9,1765.7 225.3,1762.3 228.8,1761.6 232.2,1764.7 235.7,1762.1 239.1,1766.3 242.5,1758.3 246.0,1765.0 249.4,1761.6 252.9,1763.8 256.3,1760.3 259.8,1761.8 263.2,1764.5 266.7,1760.1 270.1,1762.7 273.6,1763.6 277.0,1759.9 280.4,1765.1 283.9,1754.6 287.3,1763.6 290.8,1763.7 294.2,1763.2 297.7,1762.8 301.1,1753.2 304.6,1763.9 308.0,1765.4 311.4,1763.0 314.9,1765.6 318.3,1761.1 321.8,1754.1 325.2,1760.0 328.7,1766.0 332.1,1763.8 335.6,1762.3 339.0,1765.3 342.5,1764.9 345.9,1760.8 349.3,1765.2 352.8,1763.7 356.2,1761.0 359.7,1761.6 363.1,1766.1 366.6,1751.7 370.0,1765.6 373.5,1762.8 376.9,1764.4 380.3,1762.6 383.8,1762.1 387.2,1756.3 390.7,1763.2 394.1,1761.4 397.6,1757.9 401.0,1760.7 404.5,1765.8 407.9,1755.6 411.3,1765.8 414.8,1761.3 418.2,1766.0 421.7,1763.9 425.1,1765.5 428.6,1759.9 432.0,1749.7 435.5,1763.1 438.9,1751.2 442.4,1756.2 445.8,1751.0 449.2,1764.6 452.7,1765.4 456.1,1760.4 459.6,1764.6 463.0,1762.2 466.5,1765.3 469.9,1761.9 473.4,1765.3 476.8,1765.6 480.2,1762.2 483.7,1760.7 487.1,1762.6 490.6,1765.7 494.0,1762.2 497.5,1761.1 500.9,1759.9 504.4,1764.0 507.8,1751.9 511.3,1766.0 514.7,1764.7 518.1,1759.9 521.6,1751.9 525.0,1764.6 528.5,1762.3 531.9,1763.0 535.4,1765.5 538.8,1762.1 542.3,1759.9 545.7,1764.9 549.1,1762.5 552.6,1762.3 556.0,1765.5 559.5,1763.7 562.9,1762.2 566.4,1761.2 569.8,1757.1 573.3,1762.7 576.7,1762.1 580.2,1760.2 583.6,1764.7 587.0,1766.1 590.5,1763.7 593.9,1766.0 597.4,1766.3 600.8,1757.9 604.3,1750.4 607.7,1762.2 611.2,1765.2 614.6,1754.1 618.0,1761.2 621.5,1766.3 624.9,1761.5 628.4,1761.5 631.8,1762.2 635.3,1766.1 638.7,1761.5 642.2,1760.8 645.6,1764.6 649.1,1763.5 652.5,1762.9 655.9,1762.2 659.4,1764.9 662.8,1766.3 666.3,1764.8 669.7,1760.2 673.2,1764.2 676.6,1764.2 680.1,1760.4 683.5,1761.8" fill="none" stroke="#2ca02c" stroke-width="1.5" stroke-linejoin="round" />
<polyline points="70.3,1763.0 73.7,1763.7 77.2,1763.6 80.6,1764.2 84.1,1766.3 87.5,1758.1 91.0,1766.3 94.4,1763.2 97.9,1766.8 101.3,1764.4 104.7,1764.4 108.2,1767.5 111.6,1766.0 115.1,1763.8 118.5,1767.5 122.0,1763.3 125.4,1767.3 128.9,1761.1 132.3,1763.8 135.8,1763.7 139.2,1765.7 142.6,1764.1 146.1,1766.2 149.5,1767.7 153.0,1766.4 156.4,1766.0 159.9,1763.0 163.3,1763.6 166.8,1767.6 170.2,1765.6 173.6,1766.1 177.1,1765.2 180.5,1757.6 184.0,1765.5 187.4,1764.0 190.9,1767.8 194.3,1765.4 197.8,1766.9 201.2,1766.1 204.7,1766.5 208.1,1766.4 211.5,1764.4 215.0,1767.3 218.4,1767.4 221.9,1764.4 225.3,1764.7 228.8,1765.8 232.2,1757.0 235.7,1767.7 239.1,1766.5 242.5,1765.3 246.0,1763.4 249.4,1765.5 252.9,1764.1 256.3,1764.6 259.8,1766.2 263.2,1763.6 266.7,1764.1 270.1,1765.6 273.6,1764.9 277.0,1765.5 280.4,1766.6 283.9,1766.3 287.3,1763.6 290.8,1767.0 294.2,1766.2 297.7,1767.0 301.1,1766.9 304.6,1764.2 308.0,1763.1 311.4,1765.9 314.9,1763.9 318.3,1765.7 321.8,1764.7 325.2,1766.8 328.7,1767.6 332.1,1763.9 335.6,1765.3 339.0,1765.5 342.5,1764.8 345.9,1764.1 349.3,1765.7 352.8,1764.1 356.2,1766.7 359.7,1763.5 363.1,1764.4 366.6,1764.5 370.0,1765.6 373.5,1761.7 376.9,1763.9 380.3,1764.7 383.8,1765.7 387.2,1764.7 390.7,1764.5 394.1,1766.9 397.6,1764.0 401.0,1765.4 404.5,1767.6 407.9,1767.0 411.3,1763.2 414.8,1767.3 418.2,1765.1 421.7,1765.3 425.1,1763.7 428.6,1765.8 432.0,1766.8 435.5,1765.9 438.9,1767.2 442.4,1764.1 445.8,1762.8 449.2,1765.7 452.7,1766.1 456.1,1766.7 459.6,1763.2 463.0,1766.7 466.5,1765.9 469.9,1767.2 473.4,1763.8 476.8,1765.5 480.2,1766.7 483.7,1766.1 487.1,1763.8 490.6,1765.5 494.0,1765.1 497.5,1763.7 500.9,1763.6 504.4,1765.9 507.8,1765.7 511.3,1767.8 514.7,1766.4 518.1,1766.3 521.6,1765.7 525.0,1764.6 528.5,1763.2 531.9,1767.5 535.4,1763.3 538.8,1767.1 542.3,1764.6 545.7,1763.1 549.1,1766.6 552.6,1767.1 556.0,1764.0 559.5,1767.0 562.9,1763.9 566.4,1763.4 569.8,1764.0 573.3,1763.4 576.7,1763.7 580.2,1764.4 583.6,1764.1 587.0,1763.5 590.5,1766.5 593.9,1767.1 597.4,1767.5 600.8,1767.1 604.3,1765.3 607.7,1757.5 611.2,1765.5 614.6,1764.5 618.0,1766.0 621.5,1758.4 624.9,1760.2 628.4,1764.4 631.8,1766.2 635.3,1765.3 638.7,1758.2 642.2,1764.7 645.6,1763.6 649.1,1765.5 652.5,1764.0 655.9,1765.7 659.4,1765.1 662.8,1766.4 666.3,1765.8 669.7,1766.5 673.2,1763.0 676.6,1763.9 680.1,1766.2 683.5,1764.9" fill="none" stroke="#d62728" stroke-width="1.5" stroke-linejoin="round" />
<polyline points="70.3,1759.7 73.7,1764.5 77.2,1768.2 80.6,1768.4 84.1,1764.4 87.5,1765.5 91.0,1764.4 94.4,1765.7 97.9,1765.4 101.3,1765.4 104.7,1765.5 108.2,1763.8 111.6,1768.2 115.1,1764.4 118.5,1766.8 122.0,1765.0 125.4,1767.3 128.9,1766.5 132.3,1766.5 135.8,1760.2 139.2,1762.3 142.6,1765.9 146.1,1763.6 149.5,1765.8 153.0,1764.1 156.4,1761.9 159.9,1767.5 163.3,1763.4 166.8,1767.9 170.2,1768.0 173.6,1762.6 177.1,1767.3 180.5,1762.0 184.0,1765.3 187.4,1760.7 190.9,1765.3 194.3,1764.3 197.8,1764.2 201.2,1763.6 204.7,1762.6 208.1,1765.2 211.5,1764.6 215.0,1768.1 218.4,1765.9 221.9,1765.4 225.3,1764.9 228.8,1765.6 232.2,1766.6 235.7,1765.0 239.1,1765.0 242.5,1760.1 246.0,1765.3 249.4,1766.9 252.9,1764.1 256.3,1765.8 259.8,1766.5 263.2,1766.7 266.7,1765.8 270.1,1764.9 273.6,1768.4 277.0,1766.5 280.4,1764.8 283.9,1768.2 287.3,1764.9 290.8,1765.9 294.2,1764.7 297.7,1765.4 301.1,1762.9 304.6,1764.9 308.0,1765.1 311.4,1767.4 314.9,1765.4 318.3,1767.5 321.8,1765.1 325.2,1760.5 328.7,1765.0 332.1,1765.9 335.6,1764.5 339.0,1766.3 342.5,1767.6 345.9,1767.6 349.3,1766.8 352.8,1766.6 356.2,1760.5 359.7,1762.2 363.1,1765.0 366.6,1765.8 370.0,1765.9 373.5,1764.1 376.9,1766.3 380.3,1767.2 383.8,1766.5 387.2,1765.0 390.7,1764.2 394.1,1768.2 397.6,1767.2 401.0,1766.0 404.5,1766.4 407.9,1760.1 411.3,1759.7 414.8,1767.3 418.2,1765.6 421.7,1765.5 425.1,1766.4 428.6,1764.2 432.0,1765.6 435.5,1766.9 438.9,1764.4 442.4,1768.2 445.8,1765.3 449.2,1763.0 452.7,1765.1 456.1,1765.4 459.6,1765.8 463.0,1767.9 466.5,1767.3 469.9,1766.3 473.4,1767.3 476.8,1760.2 480.2,1760.8 483.7,1767.4 487.1,1764.6 490.6,1767.8 494.0,1768.0 497.5,1764.7 500.9,1766.4 504.4,1764.8 507.8,1765.6 511.3,1762.2 514.7,1766.0 518.1,1764.6 521.6,1766.6 525.0,1767.2 528.5,1766.9 531.9,1766.2 535.4,1757.4 538.8,1768.1 542.3,1765.5 545.7,1766.3 549.1,1767.3 552.6,1766.8 556.0,1764.0 559.5,1768.0 562.9,1759.2 566.4,1767.1 569.8,1768.3 573.3,1766.9 576.7,1768.4 580.2,1766.1 583.6,1766.5 587.0,1767.4 590.5,1767.8 593.9,1765.0 597.4,1766.9 600.8,1765.7 604.3,1767.2 607.7,1765.7 611.2,1764.9 614.6,1762.2 618.0,1766.6 621.5,1768.1 624.9,1766.9 628.4,1764.6 631.8,1768.3 635.3,1766.3 638.7,1767.2 642.2,1764.8 645.6,1767.7 649.1,1762.0 652.5,1766.4 655.9,1767.9 659.4,1764.8 662.8,1767.0 666.3,1766.7 669.7,1768.1 673.2,1764.2 676.6,1766.1 680.1,1759.0 683.5,1767.4" fill="none" stroke="#9467bd" stroke-width="1.5" stroke-linejoin="round" />
<polyline points="70.3,1770.2 73.7,1769.0 77.2,1770.2 80.6,1770.1 84.1,1769.4 87.5,1769.5 91.0,1770.2 94.4,1769.2 97.9,1770.2 101.3,1769.5 104.7,1770.2 108.2,1770.2 111.6,1768.9 115.1,1769.4 118.5,1770.1 122.0,1768.8 125.4,1769.7 128.9,1769.5 132.3,1768.8 135.8,1769.8 139.2,1769.8 142.6,1768.7 146.1,1768.8 149.5,1768.9 153.0,1769.5 156.4,1768.8 159.9,1769.7 163.3,1769.8 166.8,1770.3 170.2,1769.5 173.6,1770.2 177.1,1769.1 180.5,1769.3 184.0,1768.9 187.4,1770.4 190.9,1769.9 194.3,1769.9 197.8,1768.8 201.2,1770.0 204.7,1769.7 208.1,1769.9 211.5,1769.3 215.0,1769.4 218.4,1769.5 221.9,1769.6 225.3,1770.2 228.8,1770.2 232.2,1769.7 235.7,1770.0 239.1,1769.5 242.5,1769.3 246.0,1769.3 249.4,1769.2 252.9,1769.5 256.3,1769.6 259.8,1770.0 263.2,1769.5 266.7,1769.4 270.1,1769.8 273.6,1770.0 277.0,1769.6 280.4,1768.7 283.9,1769.1 287.3,1770.3 290.8,1769.6 294.2,1769.7 297.7,1769.1 301.1,1770.0 304.6,1769.1 308.0,1769.8 311.4,1769.2 314.9,1768.9 318.3,1769.5 321.8,1769.1 325.2,1769.6 328.7,1769.2 332.1,1770.2 335.6,1770.4 339.0,1769.4 342.5,1768.7 345.9,1769.7 349.3,1768.9 352.8,1769.7 356.2,1769.6 359.7,1769.9 363.1,1769.4 366.6,1769.9 370.0,1768.9 373.5,1769.6 376.9,1769.9 380.3,1769.4 383.8,1770.3 387.2,1769.8 390.7,1769.0 394.1,1770.1 397.6,1768.8 401.0,1770.3 404.5,1769.5 407.9,1769.1 411.3,1768.7 414.8,1769.5 418.2,1769.7 421.7,1769.4 425.1,1768.8 428.6,1769.5 432.0,1769.8 435.5,1769.4 438.9,1768.9 442.4,1769.6 445.8,1769.3 449.2,1769.8 452.7,1769.0 456.1,1769.9 459.6,1769.0 463.0,1770.2 466.5,1769.2 469.9,1768.7 473.4,1769.7 476.8,1769.9 480.2,1769.5 483.7,1770.1 487.1,1769.4 490.6,1768.7 494.0,1770.3 497.5,1769.0 500.9,1769.2 504.4,1769.9 507.8,1769.4 511.3,1770.1 514.7,1769.4 518.1,1769.3 521.6,1768.7 525.0,1769.7 528.5,1770.1 531.9,1770.2 535.4,1770.1 538.8,1769.0 542.3,1769.0 545.7,1770.4 549.1,1769.8 552.6,1769.8 556.0,1769.9 559.5,1768.8 562.9,1769.8 566.4,1769.7 569.8,1768.9 573.3,1768.7 576.7,1769.3 580.2,1770.3 583.6,1768.9 587.0,1768.8 590.5,1769.9 593.9,1768.7 597.4,1768.8 600.8,1769.7 604.3,1770.0 607.7,1768.9 611.2,1769.0 614.6,1770.1 618.0,1770.1 621.5,1769.9 624.9,1770.2 628.4,1769.7 631.8,1770.3 635.3,1769.0 638.7,1770.0 642.2,1769.9 645.6,1770.3 649.1,1769.8 652.5,1769.2 655.9,1769.9 659.4,1770.2 662.8,1769.0 666.3,1770.1 669.7,1769.2 673.2,1768.7 676.6,1768.8 680.1,1770.0 683.5,1770.2" fill="none" stroke="#8c564b" stroke-width="1.5" stroke-linejoin="round" />
<polyline points="70.3,1770.0 73.7,1769.6 77.2,1770.1 80.6,1770.1 84.1,1770.2 87.5,1769.6 91.0,1769.3 94.4,1769.5 97.9,1770.0 101.3,1770.3 104.7,1769.2 108.2,1769.4 111.6,1769.6 115.1,1769.7 118.5,1770.3 122.0,1770.1 125.4,1769.4 128.9,1769.8 132.3,1769.3 135.8,1769.2 139.2,1770.0 142.6,1769.4 146.1,1769.9 149.5,1769.5 153.0,1770.1 156.4,1769.9 159.9,1770.1 163.3,1769.1 166.8,1769.4 170.2,1770.4 173.6,1770.1 177.1,1769.9 180.5,1770.0 184.0,1770.1 187.4,1769.6 190.9,1770.0 194.3,1769.4 197.8,1770.4 201.2,1769.3 204.7,1770.3 208.1,1769.5 211.5,1770.1 215.0,1769.3 218.4,1769.1 221.9,1770.3 225.3,1769.8 228.8,1769.2 232.2,1770.3 235.7,1769.8 239.1,1769.4 242.5,1769.2 246.0,1769.8 249.4,1769.4 252.9,1769.7 256.3,1770.2 259.8,1770.3 263.2,1769.2 266.7,1769.6 270.1,1769.5 273.6,1770.0 277.0,1769.9 280.4,1770.1 283.9,1770.2 287.3,1769.4 290.8,1770.1 294.2,1769.8 297.7,1769.9 301.1,1769.1 304.6,1769.6 308.0,1769.2 311.4,1769.3 314.9,1769.4 318.3,1769.7 321.8,1769.2 325.2,1770.0 328.7,1770.1 332.1,1770.0 335.6,1769.4 339.0,1770.2 342.5,1769.7 345.9,1770.2 349.3,1770.4 352.8,1769.3 356.2,1769.4 359.7,1769.6 363.1,1769.7 366.6,1770.1 370.0,1770.4 373.5,1769.5 376.9,1769.1 380.3,1770.0 383.8,1770.2 387.2,1769.3 390.7,1770.0 394.1,1769.5 397.6,1769.1 401.0,1769.3 404.5,1769.3 407.9,1770.1 411.3,1769.9 414.8,1769.6 418.2,1769.2 421.7,1770.4 425.1,1769.5 428.6,1769.4 432.0,1769.0 435.5,1769.7 438.9,1770.0 442.4,1770.3 445.8,1770.2 449.2,1769.0 452.7,1770.4 456.1,1770.1 459.6,1770.4 463.0,1769.2 466.5,1769.8 469.9,1769.5 473.4,1769.8 476.8,1769.8 480.2,1769.2 483.7,1770.2 487.1,1769.8 490.6,1769.9 494.0,1770.3 497.5,1769.7 500.9,1769.1 504.4,1769.0 507.8,1769.5 511.3,1770.3 514.7,1769.5 518.1,1769.6 521.6,1769.7 525.0,1770.0 528.5,1769.1 531.9,1770.1 535.4,1769.8 538.8,1769.5 542.3,1769.6 545.7,1769.6 549.1,1769.8 552.6,1770.1 556.0,1769.6 559.5,1769.2 562.9,1770.3 566.4,1770.0 569.8,1769.6 573.3,1769.6 576.7,1769.7 580.2,1770.3 583.6,1770.3 587.0,1769.2 590.5,1769.4 593.9,1770.2 597.4,1769.4 600.8,1769.2 604.3,1770.2 607.7,1769.6 611.2,1770.2 614.6,1770.3 618.0,1769.9 621.5,1769.5 624.9,1770.0 628.4,1769.8 631.8,1769.5 635.3,1769.6 638.7,1769.1 642.2,1769.3 645.6,1769.3 649.1,1769.2 652.5,1769.9 655.9,1769.0 659.4,1770.3 662.8,1770.3 666.3,1769.2 669.7,1769.1 673.2,1770.0 676.6,1769.8 680.1,1769.6 683.5,1770.4" fill="none" stroke="#e377c2" stroke-width="1.5" stroke-linejoin="round" />
<polyline points="70.3,1769.6 73.7,1769.9 77.2,1769.8 80.6,1770.4 84.1,1769.9 87.5,1769.6 91.0,1770.5 94.4,1770.4 97.9,1769.5 101.3,1770.5 104.7,1769.6 108.2,1770.1 111.6,1770.4 115.1,1770.1 118.5,1769.8 122.0,1770.2 125.4,1769.5 128.9,1770.5 132.3,1770.1 135.8,1769.9 139.2,1770.1 142.6,1769.9 146.1,1770.5 149.5,1769.4 153.0,1770.4 156.4,1770.2 159.9,1770.0 163.3,1769.9 166.8,1769.4 170.2,1770.5 173.6,1769.7 177.1,1769.7 180.5,1769.8 184.0,1770.2 187.4,1769.5 190.9,1769.8 194.3,1769.7 197.8,1770.0 201.2,1770.1 204.7,1770.1 208.1,1770.2 211.5,1769.4 215.0,1770.1 218.4,1770.3 221.9,1770.4 225.3,1769.5 228.8,1770.0 232.2,1770.2 235.7,1770.5 239.1,1770.2 242.5,1769.9 246.0,1770.2 249.4,1769.9 252.9,1770.3 256.3,1769.4 259.8,1769.7 263.2,1769.5 266.7,1770.0 270.1,1770.2 273.6,1770.5 277.0,1770.2 280.4,1770.3 283.9,1770.3 287.3,1769.6 290.8,1770.3 294.2,1769.4 297.7,1770.5 301.1,1769.5 304.6,1770.4 308.0,1769.9 311.4,1769.8 314.9,1770.3 318.3,1769.7 321.8,1770.1 325.2,1770.2 328.7,1770.1 332.1,1769.8 335.6,1770.0 339.0,1770.3 342.5,1770.5 345.9,1769.9 349.3,1770.5 352.8,1769.7 356.2,1770.4 359.7,1770.4 363.1,1770.5 366.6,1770.1 370.0,1769.9 373.5,1769.8 376.9,1770.2 380.3,1770.3 383.8,1769.7 387.2,1770.2 390.7,1769.4 394.1,1770.2 397.6,1769.5 401.0,1770.5 404.5,1769.8 407.9,1770.1 411.3,1770.3 414.8,1770.5 418.2,1770.4 421.7,1770.0 425.1,1770.3 428.6,1770.1 432.0,1770.3 435.5,1769.5 438.9,1770.5 442.4,1770.3 445.8,1770.0 449.2,1770.2 452.7,1770.0 456.1,1769.5 459.6,1769.7 463.0,1769.8 466.5,1769.6 469.9,1769.9 473.4,1769.5 476.8,1769.8 480.2,1770.3 483.7,1770.1 487.1,1770.3 490.6,1769.8 494.0,1769.4 497.5,1769.9 500.9,1769.6 504.4,1770.2 507.8,1769.6 511.3,1770.2 514.7,1769.5 518.1,1769.8 521.6,1770.0 525.0,1769.5 528.5,1769.5 531.9,1769.7 535.4,1770.3 538.8,1769.4 542.3,1770.5 545.7,1769.4 549.1,1769.5 552.6,1769.7 556.0,1770.4 559.5,1770.5 562.9,1769.5 566.4,1769.5 569.8,1770.5 573.3,1769.6 576.7,1770.5 580.2,1770.3 583.6,1770.4 587.0,1769.4 590.5,1769.5 593.9,1770.0 597.4,1770.1 600.8,1769.8 604.3,1769.7 607.7,1770.4 611.2,1770.0 614.6,1770.1 618.0,1769.4 621.5,1769.7 624.9,1770.3 628.4,1770.5 631.8,1770.0 635.3,1769.9 638.7,1770.5 642.2,1769.8 645.6,1769.9 649.1,1769.4 652.5,1769.7 655.9,1770.2 659.4,1769.4 662.8,1770.1 666.3,1770.4 669.7,1770.5 673.2,1769.5 676.6,1769.8 680.1,1770.3 683.5,1770.4" fill="none" stroke="#7f7f7f" stroke-width="1.5" stroke-linejoin="round" />
<polyline points="70.3,1770.7 73.7,1770.7 77.2,1770.7 80.6,1770.7 84.1,1770.7 87.5,1770.7 91.0,1770.7 94.4,1770.7 97.9,1770.7 101.3,1770.7 104.7,1770.7 108.2,1770.7 111.6,1770.7 115.1,1770.7 118.5,1770.7 122.0,1770.7 125.4,1770.7 128.9,1770.7 132.3,1770.7 135.8,1770.7 139.2,1770.7 142.6,1770.7 146.1,1770.7 149.5,1770.7 153.0,1770.7 156.4,1770.7 159.9,1770.7 163.3,1770.7 166.8,1770.7 170.2,1770.7 173.6,1770.7 177.1,1770.7 180.5,1770.7 184.0,1770.7 187.4,1770.7 190.9,1770.7 194.3,1770.7 197.8,1770.7 201.2,1770.7 204.7,1770.7 208.1,1770.7 211.5,1770.7 215.0,1770.7 218.4,1770.7 221.9,1770.7 225.3,1770.7 228.8,1770.7 232.2,1770.7 235.7,1770.7 239.1,1770.7 242.5,1770.7 246.0,1770.7 249.4,1770.7 252.9,1770.7 256.3,1770.7 259.8,1770.7 263.2,1770.7 266.7,1770.7 270.1,1770.7 273.6,1770.7 277.0,1770.7 280.4,1770.7 283.9,1770.7 287.3,1770.7 290.8,1770.7 294.2,1770.7 297.7,1770.7 301.1,1770.7 304.6,1770.7 308.0,1770.7 311.4,1770.7 314.9,1770.7 318.3,1770.7 321.8,1770.7 325.2,1770.7 328.7,1770.7 332.1,1770.7 335.6,1770.7 339.0,1770.7 342.5,1770.7 345.9,1770.7 349.3,1770.7 352.8,1770.7 356.2,1770.7 359.7,1770.7 363.1,1770.7 366.6,1770.7 370.0,1770.7 373.5,1770.7 376.9,1770.7 380.3,1770.7 383.8,1770.7 387.2,1770.7 390.7,1770.7 394.1,1770.7 397.6,1770.7 401.0,1770.7 404.5,1770.7 407.9,1770.7 411.3,1770.7 414.8,1770.7 418.2,1770.7 421.7,1770.7 425.1,1770.7 428.6,1770.7 432.0,1770.7 435.5,1770.7 438.9,1770.7 442.4,1770.7 445.8,1770.7 449.2,1770.7 452.7,1770.7 456.1,1770.7 459.6,1770.7 463.0,1770.7 466.5,1770.7 469.9,1770.7 473.4,1770.7 476.8,1770.7 480.2,1770.7 483.7,1770.7 487.1,1770.7 490.6,1770.7 494.0,1770.7 497.5,1770.7 500.9,1770.7 504.4,1770.7 507.8,1770.7 511.3,1770.7 514.7,1770.7 518.1,1770.7 521.6,1770.7 525.0,1770.7 528.5,1770.7 531.9,1770.7 535.4,1770.7 538.8,1770.7 542.3,1770.7 545.7,1770.7 549.1,1770.7 552.6,1770.7 556.0,1770.7 559.5,1770.7 562.9,1770.7 566.4,1770.7 569.8,1770.7 573.3,1770.7 576.7,1770.7 580.2,1770.7 583.6,1770.7 587.0,1770.7 590.5,1770.7 593.9,1770.7 597.4,1770.7 600.8,1770.7 604.3,1770.7 607.7,1770.7 611.2,1770.7 614.6,1770.7 618.0,1770.7 621.5,1770.7 624.9,1770.7 628.4,1770.7 631.8,1770.7 635.3,1770.7 638.7,1770.7 642.2,1770.7 645.6,1770.7 649.1,1770.7 652.5,1770.7 655.9,1770.7 659.4,1770.7 662.8,1770.7 666.3,1770.7 669.7,1770.7 673.2,1770.7 676.6,1770.7 680.1,1770.7 683.5,1770.7" fill="none" stroke="#bcbd22" stroke-width="1.5" stroke-linejoin="round" />
<polyline points="70.3,1770.7 73.7,1770.7 77.2,1770.7 80.6,1770.7 84.1,1770.7 87.5,1770.7 91.0,1770.7 94.4,1770.7 97.9,1770.7 101.3,1770.7 104.7,1770.7 108.2,1770.7 111.6,1770.7 115.1,1770.7 118.5,1770.7 122.0,1770.7 125.4,1770.7 128.9,1770.7 132.3,1770.7 135.8,1770.7 139.2,1770.7 142.6,1770.7 146.1,1770.7 149.5,1770.7 153.0,1770.7 156.4,1770.7 159.9,1770.7 163.3,1770.7 166.8,1770.7 170.2,1770.7 173.6,1770.7 177.1,1770.7 180.5,1770.7 184.0,1770.7 187.4,1770.7 190.9,1770.7 194.3,1770.7 197.8,1770.7 201.2,1770.7 204.7,1770.7 208.1,1770.7 211.5,1770.7 215.0,1770.7 218.4,1770.7 221.9,1770.7 225.3,1770.7 228.8,1770.7 232.2,1770.7 235.7,1770.7 239.1,1770.7 242.5,1770.7 246.0,1770.7 249.4,1770.7 252.9,1770.7 256.3,1770.7 259.8,1770.7 263.2,1770.7 266.7,1770.7 270.1,1770.7 273.6,1770.7 277.0,1770.7 280.4,1770.7 283.9,1770.7 287.3,1770.7 290.8,1770.7 294.2,1770.7 297.7,1770.7 301.1,1770.7 304.6,1770.7 308.0,1770.7 311.4,1770.7 314.9,1770.7 318.3,1770.7 321.8,1770.7 325.2,1770.7 328.7,1770.7 332.1,1770.7 335.6,1770.7 339.0,1770.7 342.5,1770.7 345.9,1770.7 349.3,1770.7 352.8,1770.7 356.2,1770.7 359.7,1770.7 363.1,1770.7 366.6,1770.7 370.0,1770.7 373.5,1770.7 376.9,1770.7 380.3,1770.7 383.8,1770.7 387.2,1770.7 390.7,1770.7 394.1,1770.7 397.6,1770.7 401.0,1770.7 404.5,1770.7 407.9,1770.7 411.3,1770.7 414.8,1770.7 418.2,1770.7 421.7,1770.7 425.1,1770.7 428.6,1770.7 432.0,1770.7 435.5,1770.7 438.9,1770.7 442.4,1770.7 445.8,1770.7 449.2,1770.7 452.7,1770.7 456.1,1770.7 459.6,1770.7 463.0,1770.7 466.5,1770.7 469.9,1770.7 473.4,1770.7 476.8,1770.7 480.2,1770.7 483.7,1770.7 487.1,1770.7 490.6,1770.7 494.0,1770.7 497.5,1770.7 500.9,1770.7 504.4,1770.7 507.8,1770.7 511.3,1770.7 514.7,1770.7 518.1,1770.7 521.6,1770.7 525.0,1770.7 528.5,1770.7 531.9,1770.7 535.4,1770.7 538.8,1770.7 542.3,1770.7 545.7,1770.7 549.1,1770.7 552.6,1770.7 556.0,1770.7 559.5,1770.7 562.9,1770.7 566.4,1770.7 569.8,1770.7 573.3,1770.7 576.7,1770.7 580.2,1770.7 583.6,1770.7 587.0,1770.7 590.5,1770.7 593.9,1770.7 597.4,1770.7 600.8,1770.7 604.3,1770.7 607.7,1770.7 611.2,1770.7 614.6,1770.7 618.0,1770.7 621.5,1770.7 624.9,1770.7 628.4,1770.7 631.8,1770.7 635.3,1770.7 638.7,1770.7 642.2,1770.7 645.6,1770.7 649.1,1770.7 652.5,1770.7 655.9,1770.7 659.4,1770.7 662.8,1770.7 666.3,1770.7 669.7,1770.7 673.2,1770.7 676.6,1770.7 680.1,1770.7 683.5,1770.7" fill="none" stroke="#17becf" stroke-width="1.5" stroke-linejoin="round" />
<polyline points="70.3,1766.5 73.7,1767.9 77.2,1767.3 80.6,1768.3 84.1,1767.8 87.5,1767.0 91.0,1767.6 94.4,1767.1 97.9,1766.5 101.3,1767.6 104.7,1768.0 108.2,1768.2 111.6,1768.1 115.1,1767.4 118.5,1767.4 122.0,1767.8 125.4,1768.0 128.9,1767.2 132.3,1767.6 135.8,1766.9 139.2,1766.9 142.6,1767.5 146.1,1767.7 149.5,1766.5 153.0,1768.1 156.4,1767.1 159.9,1767.5 163.3,1766.2 166.8,1768.1 170.2,1767.9 173.6,1767.7 177.1,1767.3 180.5,1766.6 184.0,1767.5 187.4,1767.2 190.9,1768.0 194.3,1767.2 197.8,1767.0 201.2,1767.1 204.7,1767.3 208.1,1767.9 211.5,1767.5 215.0,1768.4 218.4,1767.7 221.9,1767.6 225.3,1767.7 228.8,1767.6 232.2,1767.2 235.7,1768.1 239.1,1767.9 242.5,1766.9 246.0,1766.8 249.4,1767.4 252.9,1767.5 256.3,1766.8 259.8,1768.1 263.2,1768.1 266.7,1765.2 270.1,1768.1 273.6,1768.4 277.0,1765.0 280.4,1768.2 283.9,1767.7 287.3,1767.1 290.8,1767.8 294.2,1767.7 297.7,1767.8 301.1,1766.4 304.6,1767.9 308.0,1768.0 311.4,1767.6 314.9,1767.0 318.3,1766.9 321.8,1766.6 325.2,1767.1 328.7,1768.0 332.1,1767.4 335.6,1767.5 339.0,1768.3 342.5,1767.9 345.9,1767.6 349.3,1768.1 352.8,1767.9 356.2,1766.8 359.7,1767.1 363.1,1767.9 366.6,1766.9 370.0,1768.0 373.5,1767.2 376.9,1766.9 380.3,1767.8 383.8,1767.9 387.2,1767.3 390.7,1767.5 394.1,1767.8 397.6,1767.3 401.0,1767.4 404.5,1768.6 407.9,1765.2 411.3,1767.1 414.8,1767.8 418.2,1767.3 421.7,1767.9 425.1,1767.7 428.6,1767.2 432.0,1766.7 435.5,1768.0 438.9,1766.7 442.4,1766.5 445.8,1766.6 449.2,1767.8 452.7,1768.0 456.1,1767.7 459.6,1767.3 463.0,1767.4 466.5,1768.1 469.9,1767.4 473.4,1767.9 476.8,1767.2 480.2,1767.4 483.7,1767.9 487.1,1767.4 490.6,1768.2 494.0,1767.6 497.5,1767.1 500.9,1767.1 504.4,1767.3 507.8,1766.8 511.3,1767.9 514.7,1767.8 518.1,1767.3 521.6,1766.6 525.0,1767.7 528.5,1767.9 531.9,1767.7 535.4,1767.3 538.8,1766.8 542.3,1767.1 545.7,1767.6 549.1,1767.9 552.6,1767.4 556.0,1767.7 559.5,1766.6 562.9,1766.1 566.4,1767.4 569.8,1766.0 573.3,1767.9 576.7,1767.5 580.2,1768.0 583.6,1768.3 587.0,1767.6 590.5,1767.7 593.9,1767.1 597.4,1768.3 600.8,1767.0 604.3,1765.7 607.7,1766.9 611.2,1767.9 614.6,1767.1 618.0,1767.8 621.5,1767.5 624.9,1766.8 628.4,1767.6 631.8,1768.1 635.3,1768.3 638.7,1767.0 642.2,1767.1 645.6,1768.4 649.1,1767.7 652.5,1767.8 655.9,1768.0 659.4,1768.0 662.8,1768.0 666.3,1768.0 669.7,1768.1 673.2,1753.8 676.6,1767.4 680.1,1767.1 683.5,1767.7" fill="none" stroke="#aec7e8" stroke-width="1.5" stroke-linejoin="round" />
<rect x="45.80" y="1805.60" width="12.00" height="12.00" fill="#1f77b4" rx="3" />
<rect x="45.80" y="1823.70" width="12.00" height="12.00" fill="#ff7f0e" rx="3" />
<rect x="45.80" y="1841.80" width="12.00" height="12.00" fill="#2ca02c" rx="3" />
<rect x="45.80" y="1859.90" width="12.00" height="12.00" fill="#d62728" rx="3" />
<rect x="45.80" y="1878.00" width="12.00" height="12.00" fill="#9467bd" rx="3" />
<path d="M45.80,1898.60 V1899.10 Q45.80,1896.10 48.80,1896.10 H54.80 Q57.80,1896.10 57.80,1899.10 V1898.60 Z" fill="#8c564b"/>
<rect x="691.50" y="1806.00" width="6.50" height="43.00" fill="#e9ebed" rx="3.25" />
<circle cx="1417.30" cy="1545.05" r="1.6" fill="#545b64" />
<circle cx="1417.30" cy="1550.60" r="1.6" fill="#545b64" />
<circle cx="1417.30" cy="1556.15" r="1.6" fill="#545b64" />
<line x1="781.20" y1="1618.50" x2="1403.60" y2="1618.50" stroke="#eaeaea" stroke-width="1" />
<line x1="781.20" y1="1694.60" x2="1403.60" y2="1694.60" stroke="#eaeaea" stroke-width="1" />
<line x1="781.20" y1="1770.70" x2="1403.60" y2="1770.70" stroke="#eaeaea" stroke-width="1" />
<line x1="785.90" y1="1770.90" x2="1403.60" y2="1770.90" stroke="#c8c8c8" stroke-width="2" />
<line x1="879.70" y1="1771.70" x2="879.70" y2="1775.70" stroke="#e4e4e4" stroke-width="1" />
<line x1="982.80" y1="1771.70" x2="982.80" y2="1775.70" stroke="#e4e4e4" stroke-width="1" />
<line x1="1085.90" y1="1771.70" x2="1085.90" y2="1775.70" stroke="#e4e4e4" stroke-width="1" />
<line x1="1189.00" y1="1771.70" x2="1189.00" y2="1775.70" stroke="#e4e4e4" stroke-width="1" />
<line x1="1292.10" y1="1771.70" x2="1292.10" y2="1775.70" stroke="#e4e4e4" stroke-width="1" />
<line x1="1395.80" y1="1771.70" x2="1395.80" y2="1775.70" stroke="#e4e4e4" stroke-width="1" />
<polyline points="786.2,1618.5 1399.4,1618.5" fill="none" stroke="#1f77b4" stroke-width="1.6" stroke-linejoin="round" />
<polyline points="786.2,1618.5 1399.4,1618.5" fill="none" stroke="#ff7f0e" stroke-width="1.6" stroke-linejoin="round" />
<polyline points="786.2,1618.5 1399.4,1618.5" fill="none" stroke="#2ca02c" stroke-width="1.6" stroke-linejoin="round" />
<polyline points="786.2,1667.5 1399.4,1667.5" fill="none" stroke="#d62728" stroke-width="1.6" stroke-linejoin="round" />
<polyline points="786.2,1669.1 1399.4,1669.1" fill="none" stroke="#aec7e8" stroke-width="1.6" stroke-linejoin="round" />
<polyline points="786.2,1675.2 1399.4,1675.2" fill="none" stroke="#9467bd" stroke-width="1.6" stroke-linejoin="round" />
<polyline points="786.2,1681.9 1399.4,1681.9" fill="none" stroke="#8c564b" stroke-width="1.6" stroke-linejoin="round" />
<polyline points="786.2,1683.4 1399.4,1683.4" fill="none" stroke="#e377c2" stroke-width="1.6" stroke-linejoin="round" />
<polyline points="786.2,1685.0 1399.4,1685.0" fill="none" stroke="#7f7f7f" stroke-width="1.6" stroke-linejoin="round" />
<polyline points="786.2,1689.2 1399.4,1689.2" fill="none" stroke="#bcbd22" stroke-width="1.6" stroke-linejoin="round" />
<polyline points="786.2,1693.0 1399.4,1693.0" fill="none" stroke="#17becf" stroke-width="1.6" stroke-linejoin="round" />
<rect x="762.30" y="1805.60" width="12.00" height="12.00" fill="#1f77b4" rx="3" />
<rect x="762.30" y="1823.70" width="12.00" height="12.00" fill="#ff7f0e" rx="3" />
<rect x="762.30" y="1841.80" width="12.00" height="12.00" fill="#2ca02c" rx="3" />
<rect x="762.30" y="1859.90" width="12.00" height="12.00" fill="#d62728" rx="3" />
<rect x="762.30" y="1878.00" width="12.00" height="12.00" fill="#9467bd" rx="3" />
<path d="M762.30,1898.60 V1899.10 Q762.30,1896.10 765.30,1896.10 H771.30 Q774.30,1896.10 774.30,1899.10 V1898.60 Z" fill="#8c564b"/>
<rect x="1408.00" y="1806.00" width="6.50" height="43.00" fill="#e9ebed" rx="3.25" />
<line x1="47.70" y1="2085.20" x2="453.40" y2="2085.20" stroke="#eaeaea" stroke-width="1" />
<line x1="47.70" y1="2125.40" x2="453.40" y2="2125.40" stroke="#eaeaea" stroke-width="1" />
<line x1="47.70" y1="2165.30" x2="453.40" y2="2165.30" stroke="#eaeaea" stroke-width="1" />
<line x1="52.70" y1="2165.60" x2="453.40" y2="2165.60" stroke="#c8c8c8" stroke-width="2" />
<line x1="79.90" y1="2166.30" x2="79.90" y2="2170.30" stroke="#e4e4e4" stroke-width="1" />
<line x1="186.80" y1="2166.30" x2="186.80" y2="2170.30" stroke="#e4e4e4" stroke-width="1" />
<line x1="293.70" y1="2166.30" x2="293.70" y2="2170.30" stroke="#e4e4e4" stroke-width="1" />
<line x1="400.60" y1="2166.30" x2="400.60" y2="2170.30" stroke="#e4e4e4" stroke-width="1" />
<polyline points="51.7,2165.3 453.0,2165.3" fill="none" stroke="#aec7e8" stroke-width="1.3" stroke-linejoin="round" />
<rect x="51.70" y="2190.30" width="401.50" height="25.50" fill="#fafafa" />
<rect x="164.00" y="2190.30" width="248.50" height="25.50" fill="#f1f6fd" />
<line x1="164.00" y1="2190.60" x2="412.50" y2="2190.60" stroke="#c9dcf5" stroke-width="1" />
<line x1="51.70" y1="2217.00" x2="453.70" y2="2217.00" stroke="#d5d5d5" stroke-width="2" />
<line x1="51.70" y1="2216.00" x2="453.20" y2="2216.00" stroke="#c8c8c8" stroke-width="1" />
<line x1="51.70" y1="2215.40" x2="453.20" y2="2215.40" stroke="#b7d0ea" stroke-width="1" />
<line x1="164.00" y1="2215.60" x2="412.50" y2="2215.60" stroke="#7aaeea" stroke-width="1" />
<rect x="161.40" y="2190.50" width="5.20" height="25.30" fill="#dfeafb" rx="1.5" stroke="#4d8fdc" stroke-width="1"/>
<line x1="164.00" y1="2193.30" x2="164.00" y2="2212.80" stroke="#ffffff" stroke-width="1.6" />
<rect x="409.90" y="2190.50" width="5.20" height="25.30" fill="#dfeafb" rx="1.5" stroke="#4d8fdc" stroke-width="1"/>
<line x1="412.50" y1="2193.30" x2="412.50" y2="2212.80" stroke="#ffffff" stroke-width="1.6" />
<line x1="52.10" y1="2218.00" x2="52.10" y2="2222.00" stroke="#e4e4e4" stroke-width="1" />
<line x1="185.80" y1="2218.00" x2="185.80" y2="2222.00" stroke="#e4e4e4" stroke-width="1" />
<line x1="319.50" y1="2218.00" x2="319.50" y2="2222.00" stroke="#e4e4e4" stroke-width="1" />
<line x1="453.20" y1="2218.00" x2="453.20" y2="2222.00" stroke="#e4e4e4" stroke-width="1" />
<rect x="39.40" y="2256.30" width="9.60" height="9.60" fill="#1f77b4" rx="2.6" />
<rect x="39.40" y="2271.37" width="9.60" height="9.60" fill="#ff7f0e" rx="2.6" />
<rect x="39.40" y="2286.44" width="9.60" height="9.60" fill="#2ca02c" rx="2.6" />
<rect x="39.40" y="2301.51" width="9.60" height="9.60" fill="#d62728" rx="2.6" />
<path d="M39.40,2318.60 V2319.58 Q39.40,2316.58 42.40,2316.58 H46.00 Q49.00,2316.58 49.00,2319.58 V2318.60 Z" fill="#9467bd"/>
<rect x="457.20" y="2241.40" width="6.30" height="28.80" fill="#e9ebed" rx="3.15" />
<line x1="525.20" y1="2085.20" x2="930.90" y2="2085.20" stroke="#eaeaea" stroke-width="1" />
<line x1="525.20" y1="2125.40" x2="930.90" y2="2125.40" stroke="#eaeaea" stroke-width="1" />
<line x1="525.20" y1="2165.30" x2="930.90" y2="2165.30" stroke="#eaeaea" stroke-width="1" />
<line x1="530.20" y1="2165.60" x2="930.90" y2="2165.60" stroke="#c8c8c8" stroke-width="2" />
<line x1="557.40" y1="2166.30" x2="557.40" y2="2170.30" stroke="#e4e4e4" stroke-width="1" />
<line x1="664.30" y1="2166.30" x2="664.30" y2="2170.30" stroke="#e4e4e4" stroke-width="1" />
<line x1="771.20" y1="2166.30" x2="771.20" y2="2170.30" stroke="#e4e4e4" stroke-width="1" />
<line x1="878.10" y1="2166.30" x2="878.10" y2="2170.30" stroke="#e4e4e4" stroke-width="1" />
<polyline points="529.2,2085.2 930.5,2085.2" fill="none" stroke="#1f77b4" stroke-width="1.3" stroke-linejoin="round" />
<polyline points="529.2,2085.2 930.5,2085.2" fill="none" stroke="#ff7f0e" stroke-width="1.3" stroke-linejoin="round" />
<polyline points="529.2,2115.2 930.5,2115.2" fill="none" stroke="#2ca02c" stroke-width="1.3" stroke-linejoin="round" />
<polyline points="529.2,2115.2 930.5,2115.2" fill="none" stroke="#d62728" stroke-width="1.3" stroke-linejoin="round" />
<polyline points="529.2,2115.2 930.5,2115.2" fill="none" stroke="#9467bd" stroke-width="1.3" stroke-linejoin="round" />
<polyline points="529.2,2115.2 930.5,2115.2" fill="none" stroke="#8c564b" stroke-width="1.3" stroke-linejoin="round" />
<polyline points="529.2,2115.2 930.5,2115.2" fill="none" stroke="#e377c2" stroke-width="1.3" stroke-linejoin="round" />
<polyline points="529.2,2115.2 930.5,2115.2" fill="none" stroke="#7f7f7f" stroke-width="1.3" stroke-linejoin="round" />
<polyline points="529.2,2115.2 930.5,2115.2" fill="none" stroke="#bcbd22" stroke-width="1.3" stroke-linejoin="round" />
<polyline points="529.2,2115.2 930.5,2115.2" fill="none" stroke="#17becf" stroke-width="1.3" stroke-linejoin="round" />
<polyline points="529.2,2109.5 930.5,2109.5" fill="none" stroke="#aec7e8" stroke-width="1.5" stroke-linejoin="round" />
<rect x="529.20" y="2190.30" width="401.50" height="25.50" fill="#fafafa" />
<rect x="641.50" y="2190.30" width="248.50" height="25.50" fill="#f1f6fd" />
<line x1="641.50" y1="2190.60" x2="890.00" y2="2190.60" stroke="#c9dcf5" stroke-width="1" />
<line x1="529.20" y1="2217.00" x2="931.20" y2="2217.00" stroke="#d5d5d5" stroke-width="2" />
<line x1="529.20" y1="2190.60" x2="930.70" y2="2190.60" stroke="#e9925a" stroke-width="1" />
<line x1="529.20" y1="2197.00" x2="930.70" y2="2197.00" stroke="#c5d8ee" stroke-width="1" />
<line x1="529.20" y1="2199.40" x2="930.70" y2="2199.40" stroke="#6fc0b8" stroke-width="1" />
<line x1="641.50" y1="2215.60" x2="890.00" y2="2215.60" stroke="#7aaeea" stroke-width="1" />
<rect x="638.90" y="2190.50" width="5.20" height="25.30" fill="#dfeafb" rx="1.5" stroke="#4d8fdc" stroke-width="1"/>
<line x1="641.50" y1="2193.30" x2="641.50" y2="2212.80" stroke="#ffffff" stroke-width="1.6" />
<rect x="887.40" y="2190.50" width="5.20" height="25.30" fill="#dfeafb" rx="1.5" stroke="#4d8fdc" stroke-width="1"/>
<line x1="890.00" y1="2193.30" x2="890.00" y2="2212.80" stroke="#ffffff" stroke-width="1.6" />
<line x1="529.60" y1="2218.00" x2="529.60" y2="2222.00" stroke="#e4e4e4" stroke-width="1" />
<line x1="663.30" y1="2218.00" x2="663.30" y2="2222.00" stroke="#e4e4e4" stroke-width="1" />
<line x1="797.00" y1="2218.00" x2="797.00" y2="2222.00" stroke="#e4e4e4" stroke-width="1" />
<line x1="930.70" y1="2218.00" x2="930.70" y2="2222.00" stroke="#e4e4e4" stroke-width="1" />
<rect x="516.90" y="2256.30" width="9.60" height="9.60" fill="#1f77b4" rx="2.6" />
<rect x="516.90" y="2271.37" width="9.60" height="9.60" fill="#ff7f0e" rx="2.6" />
<rect x="516.90" y="2286.44" width="9.60" height="9.60" fill="#2ca02c" rx="2.6" />
<rect x="516.90" y="2301.51" width="9.60" height="9.60" fill="#d62728" rx="2.6" />
<path d="M516.90,2318.60 V2319.58 Q516.90,2316.58 519.90,2316.58 H523.50 Q526.50,2316.58 526.50,2319.58 V2318.60 Z" fill="#9467bd"/>
<rect x="934.70" y="2241.40" width="6.30" height="28.80" fill="#e9ebed" rx="3.15" />
<circle cx="1394.90" cy="2024.30" r="1.3" fill="#545b64" />
<circle cx="1394.90" cy="2028.90" r="1.3" fill="#545b64" />
<circle cx="1394.90" cy="2033.50" r="1.3" fill="#545b64" />
<circle cx="1419.9" cy="2027.9" r="4.7" fill="none" stroke="#545b64" stroke-width="1.6"/>
<path d="M1423.4,2031.4 L1426.7,2034.8" stroke="#545b64" stroke-width="1.9" stroke-linecap="round" fill="none"/>
<path d="M1417.5,2027.9 H1422.3" stroke="#545b64" stroke-width="1.6" fill="none"/>
<line x1="1002.70" y1="2085.20" x2="1408.40" y2="2085.20" stroke="#eaeaea" stroke-width="1" />
<line x1="1002.70" y1="2125.40" x2="1408.40" y2="2125.40" stroke="#eaeaea" stroke-width="1" />
<line x1="1002.70" y1="2165.30" x2="1408.40" y2="2165.30" stroke="#eaeaea" stroke-width="1" />
<line x1="1007.70" y1="2165.60" x2="1408.40" y2="2165.60" stroke="#c8c8c8" stroke-width="2" />
<line x1="1034.90" y1="2166.30" x2="1034.90" y2="2170.30" stroke="#e4e4e4" stroke-width="1" />
<line x1="1141.80" y1="2166.30" x2="1141.80" y2="2170.30" stroke="#e4e4e4" stroke-width="1" />
<line x1="1248.70" y1="2166.30" x2="1248.70" y2="2170.30" stroke="#e4e4e4" stroke-width="1" />
<line x1="1355.60" y1="2166.30" x2="1355.60" y2="2170.30" stroke="#e4e4e4" stroke-width="1" />
<polyline points="1006.7,2165.3 1408.0,2165.3" fill="none" stroke="#aec7e8" stroke-width="1.3" stroke-linejoin="round" />
<rect x="1006.70" y="2190.30" width="401.50" height="25.50" fill="#fafafa" />
<rect x="1119.00" y="2190.30" width="248.50" height="25.50" fill="#f1f6fd" />
<line x1="1119.00" y1="2190.60" x2="1367.50" y2="2190.60" stroke="#c9dcf5" stroke-width="1" />
<line x1="1006.70" y1="2217.00" x2="1408.70" y2="2217.00" stroke="#d5d5d5" stroke-width="2" />
<line x1="1006.70" y1="2216.00" x2="1408.20" y2="2216.00" stroke="#c8c8c8" stroke-width="1" />
<line x1="1006.70" y1="2215.40" x2="1408.20" y2="2215.40" stroke="#b7d0ea" stroke-width="1" />
<line x1="1119.00" y1="2215.60" x2="1367.50" y2="2215.60" stroke="#7aaeea" stroke-width="1" />
<rect x="1116.40" y="2190.50" width="5.20" height="25.30" fill="#dfeafb" rx="1.5" stroke="#4d8fdc" stroke-width="1"/>
<line x1="1119.00" y1="2193.30" x2="1119.00" y2="2212.80" stroke="#ffffff" stroke-width="1.6" />
<rect x="1364.90" y="2190.50" width="5.20" height="25.30" fill="#dfeafb" rx="1.5" stroke="#4d8fdc" stroke-width="1"/>
<line x1="1367.50" y1="2193.30" x2="1367.50" y2="2212.80" stroke="#ffffff" stroke-width="1.6" />
<line x1="1007.10" y1="2218.00" x2="1007.10" y2="2222.00" stroke="#e4e4e4" stroke-width="1" />
<line x1="1140.80" y1="2218.00" x2="1140.80" y2="2222.00" stroke="#e4e4e4" stroke-width="1" />
<line x1="1274.50" y1="2218.00" x2="1274.50" y2="2222.00" stroke="#e4e4e4" stroke-width="1" />
<line x1="1408.20" y1="2218.00" x2="1408.20" y2="2222.00" stroke="#e4e4e4" stroke-width="1" />
<path d="M994.40,2240.00 V2240.53 Q994.40,2243.53 997.40,2243.53 H1001.00 Q1004.00,2243.53 1004.00,2240.53 V2240.00 Z" fill="#8c564b"/>
<rect x="994.40" y="2249.00" width="9.60" height="9.60" fill="#e377c2" rx="2.6" />
<rect x="994.40" y="2264.07" width="9.60" height="9.60" fill="#7f7f7f" rx="2.6" />
<rect x="994.40" y="2279.14" width="9.60" height="9.60" fill="#bcbd22" rx="2.6" />
<rect x="994.40" y="2294.21" width="9.60" height="9.60" fill="#17becf" rx="2.6" />
<path d="M994.40,2318.70 V2312.28 Q994.40,2309.28 997.40,2309.28 H1001.00 Q1004.00,2309.28 1004.00,2312.28 V2318.70 Z" fill="#aec7e8"/>
<rect x="1412.20" y="2277.00" width="6.30" height="37.00" fill="#e9ebed" rx="3.15" />
<circle cx="700.80" cy="2440.05" r="1.6" fill="#545b64" />
<circle cx="700.80" cy="2445.60" r="1.6" fill="#545b64" />
<circle cx="700.80" cy="2451.15" r="1.6" fill="#545b64" />
<line x1="66.10" y1="2513.40" x2="685.80" y2="2513.40" stroke="#eaeaea" stroke-width="1" />
<line x1="66.10" y1="2589.70" x2="685.80" y2="2589.70" stroke="#eaeaea" stroke-width="1" />
<line x1="66.10" y1="2666.00" x2="685.80" y2="2666.00" stroke="#eaeaea" stroke-width="1" />
<line x1="71.10" y1="2666.30" x2="685.80" y2="2666.30" stroke="#c8c8c8" stroke-width="2" />
<line x1="163.00" y1="2667.00" x2="163.00" y2="2671.00" stroke="#e4e4e4" stroke-width="1" />
<line x1="266.30" y1="2667.00" x2="266.30" y2="2671.00" stroke="#e4e4e4" stroke-width="1" />
<line x1="369.30" y1="2667.00" x2="369.30" y2="2671.00" stroke="#e4e4e4" stroke-width="1" />
<line x1="472.70" y1="2667.00" x2="472.70" y2="2671.00" stroke="#e4e4e4" stroke-width="1" />
<line x1="576.40" y1="2667.00" x2="576.40" y2="2671.00" stroke="#e4e4e4" stroke-width="1" />
<line x1="679.20" y1="2667.00" x2="679.20" y2="2671.00" stroke="#e4e4e4" stroke-width="1" />
<polyline points="70.6,2666.0 94.7,2666.0 98.0,2513.4 101.5,2589.6 104.8,2666.0 128.7,2666.0 132.0,2602.6 135.3,2666.0 400.6,2666.0 403.9,2531.9 407.2,2666.0 593.4,2666.0 596.7,2526.9 600.0,2666.0 668.8,2666.0 672.1,2602.6 675.4,2666.0 684.0,2666.0" fill="none" stroke="#1f77b4" stroke-width="1.5" stroke-linejoin="round" />
<polyline points="70.6,2666.0 107.5,2666.0 110.8,2661.5 114.1,2666.0 166.5,2666.0 169.8,2661.5 173.1,2666.0 217.7,2666.0 221.0,2602.6 224.3,2666.0 345.9,2666.0 349.2,2513.4 352.7,2589.6 356.0,2666.0 441.4,2666.0 444.7,2655.8 448.0,2666.0 648.8,2666.0 652.1,2602.6 655.4,2666.0 684.0,2666.0" fill="none" stroke="#ff7f0e" stroke-width="1.5" stroke-linejoin="round" />
<polyline points="70.6,2666.0 410.7,2666.0 414.0,2657.5 417.3,2666.0 420.9,2666.0 424.2,2526.3 427.5,2666.0 684.0,2666.0" fill="none" stroke="#2ca02c" stroke-width="1.5" stroke-linejoin="round" />
<polyline points="70.6,2666.0 142.4,2666.0 145.7,2661.5 149.0,2666.0 149.5,2666.0 152.8,2661.5 156.1,2666.0 238.9,2666.0 242.2,2530.6 245.5,2666.0 279.4,2666.0 282.7,2661.5 286.0,2666.0 551.4,2666.0 554.7,2661.5 558.0,2666.0 599.9,2666.0 603.2,2530.6 606.5,2666.0 684.0,2666.0" fill="none" stroke="#d62728" stroke-width="1.5" stroke-linejoin="round" />
<polyline points="70.6,2666.0 362.9,2666.0 366.2,2534.9 369.5,2666.0 684.0,2666.0" fill="none" stroke="#9467bd" stroke-width="1.5" stroke-linejoin="round" />
<polyline points="70.6,2666.0 186.5,2666.0 189.8,2661.5 193.1,2666.0 221.6,2666.0 224.9,2543.8 228.2,2666.0 423.9,2666.0 427.2,2655.8 430.5,2666.0 684.0,2666.0" fill="none" stroke="#8c564b" stroke-width="1.5" stroke-linejoin="round" />
<polyline points="70.6,2666.0 307.4,2666.0 310.7,2661.5 314.0,2666.0 362.9,2666.0 366.2,2603.2 369.5,2666.0 431.6,2666.0 434.9,2655.8 438.2,2666.0 517.7,2666.0 521.0,2569.8 524.3,2666.0 684.0,2666.0" fill="none" stroke="#e377c2" stroke-width="1.5" stroke-linejoin="round" />
<polyline points="70.6,2666.0 121.8,2666.0 125.1,2569.8 128.4,2666.0 684.0,2666.0" fill="none" stroke="#7f7f7f" stroke-width="1.5" stroke-linejoin="round" />
<polyline points="70.6,2666.0 114.7,2666.0 118.0,2602.6 121.3,2666.0 684.0,2666.0" fill="none" stroke="#bcbd22" stroke-width="1.5" stroke-linejoin="round" />
<polyline points="70.6,2666.0 103.9,2666.0 107.2,2661.5 110.5,2666.0 410.7,2666.0 414.0,2655.5 417.3,2666.0 479.8,2666.0 483.1,2661.5 486.4,2666.0 684.0,2666.0" fill="none" stroke="#17becf" stroke-width="1.5" stroke-linejoin="round" />
<polyline points="70.6,2666.0 94.7,2666.0 98.0,2652.1 101.5,2659.1 104.3,2666.0 107.2,2665.6 110.8,2665.6 114.1,2666.0 114.7,2666.0 118.0,2660.2 121.3,2666.0 121.8,2666.0 125.1,2657.3 128.4,2666.0 128.7,2666.0 132.0,2660.2 135.3,2666.0 142.4,2666.0 145.7,2665.6 149.0,2666.0 149.5,2666.0 152.8,2665.6 156.1,2666.0 166.5,2666.0 169.8,2665.6 173.1,2666.0 186.5,2666.0 189.8,2665.6 193.1,2666.0 217.7,2666.0 221.0,2660.2 224.9,2654.9 228.2,2666.0 238.9,2666.0 242.2,2653.7 245.5,2666.0 279.4,2666.0 282.7,2665.6 286.0,2666.0 307.4,2666.0 310.7,2665.6 314.0,2666.0 345.9,2666.0 349.2,2652.1 352.7,2659.1 356.0,2666.0 362.9,2666.0 366.2,2648.4 369.5,2666.0 400.6,2666.0 403.9,2653.8 407.2,2666.0 410.7,2666.0 414.0,2664.3 417.3,2666.0 420.9,2666.0 424.2,2653.3 427.2,2665.1 430.5,2666.0 431.6,2666.0 434.9,2665.1 438.2,2666.0 441.4,2666.0 444.7,2665.1 448.0,2666.0 479.8,2666.0 483.1,2665.6 486.4,2666.0 517.7,2666.0 521.0,2657.3 524.3,2666.0 551.4,2666.0 554.7,2665.6 558.0,2666.0 593.4,2666.0 596.7,2653.4 600.0,2666.0 603.2,2653.7 606.5,2666.0 648.8,2666.0 652.1,2660.2 655.4,2666.0 668.8,2666.0 672.1,2660.2 675.4,2666.0 684.0,2666.0" fill="none" stroke="#aec7e8" stroke-width="1.5" stroke-linejoin="round" />
<rect x="45.80" y="2700.60" width="12.00" height="12.00" fill="#1f77b4" rx="3" />
<rect x="45.80" y="2718.70" width="12.00" height="12.00" fill="#ff7f0e" rx="3" />
<rect x="45.80" y="2736.80" width="12.00" height="12.00" fill="#2ca02c" rx="3" />
<rect x="45.80" y="2754.90" width="12.00" height="12.00" fill="#d62728" rx="3" />
<rect x="45.80" y="2773.00" width="12.00" height="12.00" fill="#9467bd" rx="3" />
<path d="M45.80,2793.60 V2794.10 Q45.80,2791.10 48.80,2791.10 H54.80 Q57.80,2791.10 57.80,2794.10 V2793.60 Z" fill="#8c564b"/>
<rect x="691.50" y="2701.00" width="6.50" height="43.00" fill="#e9ebed" rx="3.25" />
<circle cx="1417.30" cy="2440.05" r="1.6" fill="#545b64" />
<circle cx="1417.30" cy="2445.60" r="1.6" fill="#545b64" />
<circle cx="1417.30" cy="2451.15" r="1.6" fill="#545b64" />
<line x1="773.60" y1="2513.40" x2="1403.60" y2="2513.40" stroke="#eaeaea" stroke-width="1" />
<line x1="773.60" y1="2589.70" x2="1403.60" y2="2589.70" stroke="#eaeaea" stroke-width="1" />
<line x1="773.60" y1="2666.00" x2="1403.60" y2="2666.00" stroke="#eaeaea" stroke-width="1" />
<line x1="778.60" y1="2666.30" x2="1403.60" y2="2666.30" stroke="#c8c8c8" stroke-width="2" />
<line x1="871.40" y1="2667.00" x2="871.40" y2="2671.00" stroke="#e4e4e4" stroke-width="1" />
<line x1="976.30" y1="2667.00" x2="976.30" y2="2671.00" stroke="#e4e4e4" stroke-width="1" />
<line x1="1081.10" y1="2667.00" x2="1081.10" y2="2671.00" stroke="#e4e4e4" stroke-width="1" />
<line x1="1186.00" y1="2667.00" x2="1186.00" y2="2671.00" stroke="#e4e4e4" stroke-width="1" />
<line x1="1290.90" y1="2667.00" x2="1290.90" y2="2671.00" stroke="#e4e4e4" stroke-width="1" />
<line x1="1395.80" y1="2667.00" x2="1395.80" y2="2671.00" stroke="#e4e4e4" stroke-width="1" />
<polyline points="778.4,2666.0 1401.2,2666.0" fill="none" stroke="#aec7e8" stroke-width="1.6" stroke-linejoin="round" />
<rect x="762.30" y="2700.60" width="12.00" height="12.00" fill="#1f77b4" rx="3" />
<rect x="762.30" y="2718.70" width="12.00" height="12.00" fill="#ff7f0e" rx="3" />
<rect x="762.30" y="2736.80" width="12.00" height="12.00" fill="#2ca02c" rx="3" />
<rect x="762.30" y="2754.90" width="12.00" height="12.00" fill="#d62728" rx="3" />
<rect x="762.30" y="2773.00" width="12.00" height="12.00" fill="#9467bd" rx="3" />
<path d="M762.30,2793.60 V2794.10 Q762.30,2791.10 765.30,2791.10 H771.30 Q774.30,2791.10 774.30,2794.10 V2793.60 Z" fill="#8c564b"/>
<rect x="1408.00" y="2701.00" width="6.50" height="43.00" fill="#e9ebed" rx="3.25" />
</svg>
<div class="t" id="t0" style="top:18.00px;font-size:27.5px;color:#444444;letter-spacing:0.609px;left:18.00px">App overview</div>
<div class="t" id="t1" style="top:64.00px;font-size:14px;color:#444444;letter-spacing:0.164px;left:18.00px">This part of the dashboard gives you a high-level summary and overall picture of your selected Tomcat App and selected duration using metrics aggregated from all instances in your cluster.</div>
<div class="t" id="t2" style="top:94.00px;font-size:14px;color:#444444;font-weight:bold;letter-spacing:0.594px;left:18.00px">Note</div>
<div class="t" id="t3" style="top:94.00px;font-size:14px;color:#444444;letter-spacing:0.185px;left:51.70px">: View data from different Tomcat Apps using the</div>
<div class="t" id="t4" style="top:97.00px;font-size:12px;color:#222;font-family:'Liberation Mono', monospace;letter-spacing:-0.092px;left:370.70px">Tomcat App</div>
<div class="t" id="t5" style="top:94.00px;font-size:14px;color:#444444;letter-spacing:0.243px;left:451.70px">dropdown at the top of the dashboard.</div>
<div class="t" id="t6" style="top:860.00px;font-size:27.5px;color:#444444;letter-spacing:0.268px;left:18.00px">Breakdown by server</div>
<div class="t" id="t7" style="top:905.00px;font-size:14px;color:#444444;letter-spacing:0.239px;left:18.00px">The following sections of the dashboard give you a more detailed look at the top contributing servers for different Tomcat App metrics.</div>
<div class="t" id="t8" style="top:935.00px;font-size:14px;color:#444444;font-weight:bold;letter-spacing:0.594px;left:18.00px">Note</div>
<div class="t" id="t9" style="top:935.00px;font-size:14px;color:#444444;letter-spacing:0.185px;left:51.70px">: View data from different Tomcat Apps using the</div>
<div class="t" id="t10" style="top:938.00px;font-size:12px;color:#222;font-family:'Liberation Mono', monospace;letter-spacing:-0.092px;left:370.70px">Tomcat App</div>
<div class="t" id="t11" style="top:935.00px;font-size:14px;color:#444444;letter-spacing:0.243px;left:451.70px">dropdown at the top of the dashboard.</div>
<div class="t" id="t12" style="top:968.00px;font-size:21px;color:#444444;letter-spacing:0.035px;left:18.00px">Requests</div>
<div class="t" id="t13" style="top:1007.00px;font-size:14px;color:#444444;letter-spacing:0.184px;left:18.00px">This section displays the number of errors encountered during request processing and total number of requests processed by Tomcat. Use the error count to identify and troubleshoot potential issues. Additionally, the count</div>
<div class="t" id="t14" style="top:1027.00px;font-size:14px;color:#444444;letter-spacing:0.156px;left:18.00px">metric helps you understand the load on your server.</div>
<div class="t" id="t15" style="top:1448.00px;font-size:21px;color:#444444;letter-spacing:0.490px;left:18.00px">Request processing time</div>
<div class="t" id="t16" style="top:1487.00px;font-size:14px;color:#444444;letter-spacing:0.164px;left:18.00px">This section displays the total time spent processing all requests and the maximum time spent by Tomcat processing a single request. These metrics help identify performance bottlenecks and provide insights into the</div>
<div class="t" id="t17" style="top:1507.00px;font-size:14px;color:#444444;letter-spacing:0.098px;left:18.00px">overall request load on your server.</div>
<div class="t" id="t18" style="top:1928.00px;font-size:21px;color:#444444;letter-spacing:0.302px;left:18.00px">Sessions and threads</div>
<div class="t" id="t19" style="top:1967.00px;font-size:14px;color:#444444;letter-spacing:0.211px;left:18.00px">This section provides insights into the thread and session management of your Tomcat server. It displays the number of busy threads and the total current thread count, allowing you to monitor thread utilization and</div>
<div class="t" id="t20" style="top:1987.00px;font-size:14px;color:#444444;letter-spacing:0.165px;left:18.00px">optimize thread pool configurations. This section also displays the number of active sessions, which can help identify potential memory or resource constraints.</div>
<div class="t" id="t21" style="top:2342.00px;font-size:21px;color:#444444;letter-spacing:1.111px;left:18.00px">Network traffic</div>
<div class="t" id="t22" style="top:2382.00px;font-size:14px;color:#444444;letter-spacing:0.226px;left:18.00px">This section displays the amount of data sent and received by Tomcat over the network. The metrics help you monitor the network traffic load on your server and identify potential bottlenecks or saturation points.</div>
<div class="t" id="t23" style="top:2823.00px;font-size:27.5px;color:#444444;letter-spacing:0.352px;left:18.00px">JVM host metrics</div>
<div class="t" id="t24" style="top:2869.00px;font-size:14px;color:#444444;letter-spacing:0.142px;left:18.00px">The following sections provide a more detailed look at the top contributing servers for various JVM metrics, in your selected JVM process group.</div>
<div class="t" id="t25" style="top:162.00px;font-size:14px;color:#16191f;letter-spacing:0.183px;left:20.00px">Application request errors</div>
<div class="t" id="t26" style="top:205.00px;font-size:12px;color:#555555;left:23.30px">Count</div>
<div class="t" id="t27" style="top:232.00px;font-size:12px;color:#16191f;right:1387.80px">6.0</div>
<div class="t" id="t28" style="top:302.00px;font-size:12px;color:#16191f;right:1387.80px">4.0</div>
<div class="t" id="t29" style="top:372.00px;font-size:12px;color:#16191f;right:1387.80px">2.0</div>
<div class="t" id="t30" style="top:442.00px;font-size:12px;color:#16191f;right:1387.80px">0</div>
<div class="t" id="t31" style="top:460.00px;font-size:12px;color:#16191f;left:184.00px;transform:translateX(-50%)">15:00</div>
<div class="t" id="t32" style="top:460.00px;font-size:12px;color:#16191f;left:313.30px;transform:translateX(-50%)">16:00</div>
<div class="t" id="t33" style="top:460.00px;font-size:12px;color:#16191f;left:442.30px;transform:translateX(-50%)">17:00</div>
<div class="t" id="t34" style="top:483.00px;font-size:12px;color:#4a4a4a;letter-spacing:0.068px;left:62.20px">Total Errors [last: 0, min: 0, max: 6, avg: 0.292]</div>
<div class="t" id="t35" style="top:501.00px;font-size:12px;color:#4a4a4a;letter-spacing:0.026px;left:62.20px">Average Errors [last:0, avg: 0.0266]</div>
<div class="t" id="t36" style="top:162.00px;font-size:14px;color:#16191f;letter-spacing:0.171px;left:497.50px">Application requests</div>
<div class="t" id="t37" style="top:205.00px;font-size:12px;color:#555555;left:500.80px">Count</div>
<div class="t" id="t38" style="top:232.00px;font-size:12px;color:#16191f;right:909.80px">8.0</div>
<div class="t" id="t39" style="top:284.00px;font-size:12px;color:#16191f;right:909.80px">6.0</div>
<div class="t" id="t40" style="top:337.00px;font-size:12px;color:#16191f;right:909.80px">4.0</div>
<div class="t" id="t41" style="top:389.00px;font-size:12px;color:#16191f;right:909.80px">2.0</div>
<div class="t" id="t42" style="top:442.00px;font-size:12px;color:#16191f;right:909.80px">0</div>
<div class="t" id="t43" style="top:460.00px;font-size:12px;color:#16191f;left:661.20px;transform:translateX(-50%)">15:00</div>
<div class="t" id="t44" style="top:460.00px;font-size:12px;color:#16191f;left:790.70px;transform:translateX(-50%)">16:00</div>
<div class="t" id="t45" style="top:460.00px;font-size:12px;color:#16191f;left:920.00px;transform:translateX(-50%)">17:00</div>
<div class="t" id="t46" style="top:483.00px;font-size:12px;color:#4a4a4a;letter-spacing:0.030px;left:539.70px">Total Requests [last: 0, min: 0, max: 8, avg: 0.404]</div>
<div class="t" id="t47" style="top:501.00px;font-size:12px;color:#4a4a4a;letter-spacing:-0.007px;left:539.70px">Average Requests [last:0, avg: 0.0368]</div>
<div class="t" id="t48" style="top:162.00px;font-size:14px;color:#16191f;letter-spacing:0.232px;left:975.00px">Application request error rate</div>
<div class="t" id="t49" style="top:205.00px;font-size:12px;color:#555555;left:978.30px">Percent</div>
<div class="t" id="t50" style="top:232.00px;font-size:12px;color:#16191f;right:422.90px">100.00</div>
<div class="t" id="t51" style="top:274.00px;font-size:12px;color:#16191f;right:422.90px">80.00</div>
<div class="t" id="t52" style="top:316.00px;font-size:12px;color:#16191f;right:422.90px">60.00</div>
<div class="t" id="t53" style="top:358.00px;font-size:12px;color:#16191f;right:422.90px">40.00</div>
<div class="t" id="t54" style="top:400.00px;font-size:12px;color:#16191f;right:422.90px">20.00</div>
<div class="t" id="t55" style="top:442.00px;font-size:12px;color:#16191f;right:422.90px">0</div>
<div class="t" id="t56" style="top:460.00px;font-size:12px;color:#16191f;left:1145.60px;transform:translateX(-50%)">15:00</div>
<div class="t" id="t57" style="top:460.00px;font-size:12px;color:#16191f;left:1271.90px;transform:translateX(-50%)">16:00</div>
<div class="t" id="t58" style="top:460.00px;font-size:12px;color:#16191f;left:1398.60px;transform:translateX(-50%)">17:00</div>
<div class="t" id="t59" style="top:483.00px;font-size:12px;color:#4a4a4a;letter-spacing:0.065px;left:1017.20px">Total Error Rate [last: 0, min: 0, max: 100, avg: 3.323]</div>
<div class="t" id="t60" style="top:501.00px;font-size:12px;color:#4a4a4a;letter-spacing:-0.012px;left:1017.20px">Average Error Rate [last: 0, avg: 1.825]</div>
<div class="t" id="t61" style="top:544.00px;font-size:12px;color:#16191f;letter-spacing:-0.044px;left:18.00px">Max application request processing time milliseconds</div>
<div class="t" id="t62" style="top:580.00px;font-size:10px;color:#555555;left:20.40px;-webkit-text-stroke-width:0.1px"></div>
<div class="t" id="t63" style="top:574.00px;font-size:40.5px;color:#16191f;letter-spacing:0.719px;left:218.50px">20</div>
<div class="t" id="t64" style="top:589.00px;font-size:16px;color:#16191f;left:269.90px">k</div>
<div class="t" id="t65" style="top:828.00px;font-size:10px;color:#4a4a4a;letter-spacing:0.167px;left:203.10px;-webkit-text-stroke-width:0.1px">Max time [last:20,007]</div>
<div class="t" id="t66" style="top:544.00px;font-size:12px;color:#16191f;letter-spacing:0.093px;left:495.50px">Application thread count</div>
<div class="t" id="t67" style="top:580.00px;font-size:10px;color:#555555;left:497.90px;-webkit-text-stroke-width:0.1px">Count</div>
<div class="t" id="t68" style="top:603.00px;font-size:10px;color:#16191f;right:916.80px;-webkit-text-stroke-width:0.1px">31.00</div>
<div class="t" id="t69" style="top:675.00px;font-size:10px;color:#16191f;right:916.80px;-webkit-text-stroke-width:0.1px">15.50</div>
<div class="t" id="t70" style="top:747.00px;font-size:10px;color:#16191f;right:916.80px;-webkit-text-stroke-width:0.1px">0</div>
<div class="t" id="t71" style="top:763.00px;font-size:10px;color:#16191f;left:591.30px;transform:translateX(-50%);-webkit-text-stroke-width:0.1px">14:30</div>
<div class="t" id="t72" style="top:763.00px;font-size:10px;color:#16191f;left:658.30px;transform:translateX(-50%);-webkit-text-stroke-width:0.1px">15:00</div>
<div class="t" id="t73" style="top:763.00px;font-size:10px;color:#16191f;left:725.30px;transform:translateX(-50%);-webkit-text-stroke-width:0.1px">15:30</div>
<div class="t" id="t74" style="top:763.00px;font-size:10px;color:#16191f;left:792.00px;transform:translateX(-50%);-webkit-text-stroke-width:0.1px">16:00</div>
<div class="t" id="t75" style="top:763.00px;font-size:10px;color:#16191f;left:859.00px;transform:translateX(-50%);-webkit-text-stroke-width:0.1px">16:30</div>
<div class="t" id="t76" style="top:763.00px;font-size:10px;color:#16191f;left:926.00px;transform:translateX(-50%);-webkit-text-stroke-width:0.1px">17:00</div>
<div class="t" id="t77" style="top:782.00px;font-size:10px;color:#4a4a4a;letter-spacing:0.065px;left:530.10px;-webkit-text-stroke-width:0.1px">Total Threads Count - [last: 30, min: 30, max: 31, avg: 30.01]</div>
<div class="t" id="t78" style="top:797.00px;font-size:10px;color:#4a4a4a;letter-spacing:0.006px;left:530.10px;-webkit-text-stroke-width:0.1px">Average Threads Count [last: 10, avg: 10]</div>
<div class="t" id="t79" style="top:812.00px;font-size:10px;color:#4a4a4a;letter-spacing:0.022px;left:530.10px;-webkit-text-stroke-width:0.1px">Total Busy Threads Count - [last: 0, min: 0, max: 0, avg: 0]</div>
<div class="t" id="t80" style="top:827.00px;font-size:10px;color:#4a4a4a;letter-spacing:-0.037px;left:530.10px;-webkit-text-stroke-width:0.1px">Average Busy Threads Count [last: 0, avg: 0]</div>
<div class="t" id="t81" style="top:544.00px;font-size:12px;color:#16191f;letter-spacing:-0.032px;left:973.00px">Application heap memory usage</div>
<div class="t" id="t82" style="top:580.00px;font-size:10px;color:#555555;left:975.40px;-webkit-text-stroke-width:0.1px">Bytes</div>
<div class="t" id="t83" style="top:635.00px;font-size:10px;color:#16191f;right:432.80px;-webkit-text-stroke-width:0.1px">40.00M</div>
<div class="t" id="t84" style="top:670.00px;font-size:10px;color:#16191f;right:432.80px;-webkit-text-stroke-width:0.1px">30.00M</div>
<div class="t" id="t85" style="top:706.00px;font-size:10px;color:#16191f;right:432.80px;-webkit-text-stroke-width:0.1px">20.00M</div>
<div class="t" id="t86" style="top:742.00px;font-size:10px;color:#16191f;right:432.80px;-webkit-text-stroke-width:0.1px">10.00M</div>
<div class="t" id="t87" style="top:778.00px;font-size:10px;color:#16191f;right:432.80px;-webkit-text-stroke-width:0.1px">0</div>
<div class="t" id="t88" style="top:792.00px;font-size:10px;color:#16191f;left:1074.50px;transform:translateX(-50%);-webkit-text-stroke-width:0.1px">14:30</div>
<div class="t" id="t89" style="top:792.00px;font-size:10px;color:#16191f;left:1140.30px;transform:translateX(-50%);-webkit-text-stroke-width:0.1px">15:00</div>
<div class="t" id="t90" style="top:792.00px;font-size:10px;color:#16191f;left:1206.10px;transform:translateX(-50%);-webkit-text-stroke-width:0.1px">15:30</div>
<div class="t" id="t91" style="top:792.00px;font-size:10px;color:#16191f;left:1271.90px;transform:translateX(-50%);-webkit-text-stroke-width:0.1px">16:00</div>
<div class="t" id="t92" style="top:792.00px;font-size:10px;color:#16191f;left:1337.70px;transform:translateX(-50%);-webkit-text-stroke-width:0.1px">16:30</div>
<div class="t" id="t93" style="top:792.00px;font-size:10px;color:#16191f;left:1403.50px;transform:translateX(-50%);-webkit-text-stroke-width:0.1px">17:00</div>
<div class="t" id="t94" style="top:812.00px;font-size:10px;color:#4a4a4a;letter-spacing:0.069px;left:1008.30px;-webkit-text-stroke-width:0.1px">Max Used [last: 47,004,080, min: 29,275,160, max: 48,977,904, avg: 41,615,639]</div>
<div class="t" id="t95" style="top:827.00px;font-size:10px;color:#4a4a4a;letter-spacing:0.061px;left:1008.30px;-webkit-text-stroke-width:0.1px">Average Used [last: 26,097,786, min: 22,098,143, max: 34,470,531, avg: 27,423,532]</div>
<div class="t" id="t96" style="top:1063.00px;font-size:14px;color:#16191f;letter-spacing:0.141px;left:20.00px">Top 10 request errors by server and proto_handler</div>
<div class="t" id="t97" style="top:1106.00px;font-size:12px;color:#555555;left:23.30px">Count</div>
<div class="t" id="t98" style="top:1133.00px;font-size:12px;color:#16191f;right:1386.30px">6.0</div>
<div class="t" id="t99" style="top:1209.00px;font-size:12px;color:#16191f;right:1386.30px">3.0</div>
<div class="t" id="t100" style="top:1285.00px;font-size:12px;color:#16191f;right:1386.30px">0</div>
<div class="t" id="t101" style="top:1303.00px;font-size:12px;color:#16191f;left:155.30px;transform:translateX(-50%)">14:30</div>
<div class="t" id="t102" style="top:1303.00px;font-size:12px;color:#16191f;left:260.40px;transform:translateX(-50%)">15:00</div>
<div class="t" id="t103" style="top:1303.00px;font-size:12px;color:#16191f;left:364.60px;transform:translateX(-50%)">15:30</div>
<div class="t" id="t104" style="top:1303.00px;font-size:12px;color:#16191f;left:469.70px;transform:translateX(-50%)">16:00</div>
<div class="t" id="t105" style="top:1303.00px;font-size:12px;color:#16191f;left:574.60px;transform:translateX(-50%)">16:30</div>
<div class="t" id="t106" style="top:1303.00px;font-size:12px;color:#16191f;left:679.80px;transform:translateX(-50%)">17:00</div>
<div class="c" style="left:48.00px;top:1322.00px;width:635.00px;height:96.60px"><div class="t" id="t107" style="top:4.00px;font-size:12px;color:#4a4a4a;letter-spacing:0.064px;left:14.00px">Errors [last:0, max: 6] - </div></div>
<div class="c" style="left:48.00px;top:1322.00px;width:635.00px;height:96.60px"><div class="t" id="t108" style="top:4.00px;font-size:12px;color:#4a4a4a;letter-spacing:0.500px;left:140.37px">"http-nio-8080" - </div></div>
<div class="c" style="left:48.00px;top:1322.00px;width:635.00px;height:96.60px"><div class="t" id="t109" style="top:4.00px;font-size:12px;color:#4a4a4a;letter-spacing:0.124px;left:239.27px">i-03a76e0ab9fc0d6dd (OrderServer7)</div></div>
<div class="c" style="left:48.00px;top:1322.00px;width:635.00px;height:96.60px"><div class="t" id="t110" style="top:22.00px;font-size:12px;color:#4a4a4a;letter-spacing:0.044px;left:14.00px">Errors [last:0, max: 6] - </div></div>
<div class="c" style="left:48.00px;top:1322.00px;width:635.00px;height:96.60px"><div class="t" id="t111" style="top:22.00px;font-size:12px;color:#4a4a4a;letter-spacing:0.500px;left:139.86px">"http-nio-8080" - </div></div>
<div class="c" style="left:48.00px;top:1322.00px;width:635.00px;height:96.60px"><div class="t" id="t112" style="top:22.00px;font-size:12px;color:#4a4a4a;letter-spacing:0.123px;left:238.76px">i-0bcf8dae93ec8052b (OrderServer9)</div></div>
<div class="c" style="left:48.00px;top:1322.00px;width:635.00px;height:96.60px"><div class="t" id="t113" style="top:40.00px;font-size:12px;color:#4a4a4a;letter-spacing:0.122px;left:14.00px">Errors [last:0, max: 3] - </div></div>
<div class="c" style="left:48.00px;top:1322.00px;width:635.00px;height:96.60px"><div class="t" id="t114" style="top:40.00px;font-size:12px;color:#4a4a4a;letter-spacing:0.500px;left:141.88px">"http-nio-8080" - </div></div>
<div class="c" style="left:48.00px;top:1322.00px;width:635.00px;height:96.60px"><div class="t" id="t115" style="top:40.00px;font-size:12px;color:#4a4a4a;letter-spacing:0.122px;left:240.78px">i-00483062a59f2fee2 (OrderServer6)</div></div>
<div class="c" style="left:48.00px;top:1322.00px;width:635.00px;height:96.60px"><div class="t" id="t116" style="top:59.00px;font-size:12px;color:#4a4a4a;letter-spacing:0.153px;left:14.00px">Errors [last:0, max: 3] - </div></div>
<div class="c" style="left:48.00px;top:1322.00px;width:635.00px;height:96.60px"><div class="t" id="t117" style="top:59.00px;font-size:12px;color:#4a4a4a;letter-spacing:0.500px;left:142.67px">"http-nio-8080" - </div></div>
<div class="c" style="left:48.00px;top:1322.00px;width:635.00px;height:96.60px"><div class="t" id="t118" style="top:59.00px;font-size:12px;color:#4a4a4a;letter-spacing:0.124px;left:241.57px">i-089d00bf337e76c26 (OrderServer11)</div></div>
<div class="c" style="left:48.00px;top:1322.00px;width:635.00px;height:96.60px"><div class="t" id="t119" style="top:77.00px;font-size:12px;color:#4a4a4a;letter-spacing:0.107px;left:14.00px">Errors [last:0, max: 2] - </div></div>
<div class="c" style="left:48.00px;top:1322.00px;width:635.00px;height:96.60px"><div class="t" id="t120" style="top:77.00px;font-size:12px;color:#4a4a4a;letter-spacing:0.500px;left:141.49px">"http-nio-8080" - </div></div>
<div class="c" style="left:48.00px;top:1322.00px;width:635.00px;height:96.60px"><div class="t" id="t121" style="top:77.00px;font-size:12px;color:#4a4a4a;letter-spacing:0.124px;left:240.39px">i-0084098d7773f2a7a (OrderServer2)</div></div>
<div class="c" style="left:48.00px;top:1322.00px;width:635.00px;height:96.60px"><div class="t" id="t122" style="top:95.00px;font-size:12px;color:#4a4a4a;letter-spacing:0.053px;left:14.00px">Errors [last:0, max: 2] - </div></div>
<div class="c" style="left:48.00px;top:1322.00px;width:635.00px;height:96.60px"><div class="t" id="t123" style="top:95.00px;font-size:12px;color:#4a4a4a;letter-spacing:0.500px;left:140.09px">"http-nio-8080" - </div></div>
<div class="c" style="left:48.00px;top:1322.00px;width:635.00px;height:96.60px"><div class="t" id="t124" style="top:95.00px;font-size:12px;color:#4a4a4a;letter-spacing:0.124px;left:238.99px">i-0d52e3f9d70dde33b (OrderServer5)</div></div>
<div class="t" id="t125" style="top:1063.00px;font-size:14px;color:#16191f;letter-spacing:0.161px;left:736.50px">Top 10 request count by server and proto_handler</div>
<div class="t" id="t126" style="top:1106.00px;font-size:12px;color:#555555;left:739.80px">Count</div>
<div class="t" id="t127" style="top:1133.00px;font-size:12px;color:#16191f;right:669.80px">8.0</div>
<div class="t" id="t128" style="top:1209.00px;font-size:12px;color:#16191f;right:669.80px">4.0</div>
<div class="t" id="t129" style="top:1285.00px;font-size:12px;color:#16191f;right:669.80px">0</div>
<div class="t" id="t130" style="top:1303.00px;font-size:12px;color:#16191f;left:872.10px;transform:translateX(-50%)">14:30</div>
<div class="t" id="t131" style="top:1303.00px;font-size:12px;color:#16191f;left:976.40px;transform:translateX(-50%)">15:00</div>
<div class="t" id="t132" style="top:1303.00px;font-size:12px;color:#16191f;left:1081.00px;transform:translateX(-50%)">15:30</div>
<div class="t" id="t133" style="top:1303.00px;font-size:12px;color:#16191f;left:1186.00px;transform:translateX(-50%)">16:00</div>
<div class="t" id="t134" style="top:1303.00px;font-size:12px;color:#16191f;left:1290.90px;transform:translateX(-50%)">16:30</div>
<div class="t" id="t135" style="top:1303.00px;font-size:12px;color:#16191f;left:1396.10px;transform:translateX(-50%)">17:00</div>
<div class="c" style="left:764.50px;top:1322.00px;width:635.00px;height:96.60px"><div class="t" id="t136" style="top:4.00px;font-size:12px;color:#4a4a4a;letter-spacing:0.012px;left:14.00px">Requests [last:0, max: 8] - </div></div>
<div class="c" style="left:764.50px;top:1322.00px;width:635.00px;height:96.60px"><div class="t" id="t137" style="top:4.00px;font-size:12px;color:#4a4a4a;letter-spacing:0.500px;left:157.07px">"http-nio-8080" - </div></div>
<div class="c" style="left:764.50px;top:1322.00px;width:635.00px;height:96.60px"><div class="t" id="t138" style="top:4.00px;font-size:12px;color:#4a4a4a;letter-spacing:0.124px;left:255.97px">i-03a76e0ab9fc0d6dd (OrderServer7)</div></div>
<div class="c" style="left:764.50px;top:1322.00px;width:635.00px;height:96.60px"><div class="t" id="t139" style="top:22.00px;font-size:12px;color:#4a4a4a;letter-spacing:-0.006px;left:14.00px">Requests [last:0, max: 8] - </div></div>
<div class="c" style="left:764.50px;top:1322.00px;width:635.00px;height:96.60px"><div class="t" id="t140" style="top:22.00px;font-size:12px;color:#4a4a4a;letter-spacing:0.500px;left:156.56px">"http-nio-8080" - </div></div>
<div class="c" style="left:764.50px;top:1322.00px;width:635.00px;height:96.60px"><div class="t" id="t141" style="top:22.00px;font-size:12px;color:#4a4a4a;letter-spacing:0.123px;left:255.46px">i-0bcf8dae93ec8052b (OrderServer9)</div></div>
<div class="c" style="left:764.50px;top:1322.00px;width:635.00px;height:96.60px"><div class="t" id="t142" style="top:40.00px;font-size:12px;color:#4a4a4a;letter-spacing:0.066px;left:14.00px">Requests [last:0, max: 5] - </div></div>
<div class="c" style="left:764.50px;top:1322.00px;width:635.00px;height:96.60px"><div class="t" id="t143" style="top:40.00px;font-size:12px;color:#4a4a4a;letter-spacing:0.500px;left:158.58px">"http-nio-8080" - </div></div>
<div class="c" style="left:764.50px;top:1322.00px;width:635.00px;height:96.60px"><div class="t" id="t144" style="top:40.00px;font-size:12px;color:#4a4a4a;letter-spacing:0.122px;left:257.48px">i-00483062a59f2fee2 (OrderServer6)</div></div>
<div class="c" style="left:764.50px;top:1322.00px;width:635.00px;height:96.60px"><div class="t" id="t145" style="top:59.00px;font-size:12px;color:#4a4a4a;letter-spacing:0.098px;left:14.00px">Requests [last:0, max: 4] - </div></div>
<div class="c" style="left:764.50px;top:1322.00px;width:635.00px;height:96.60px"><div class="t" id="t146" style="top:59.00px;font-size:12px;color:#4a4a4a;letter-spacing:0.500px;left:159.47px">"http-nio-8080" - </div></div>
<div class="c" style="left:764.50px;top:1322.00px;width:635.00px;height:96.60px"><div class="t" id="t147" style="top:59.00px;font-size:12px;color:#4a4a4a;letter-spacing:0.124px;left:258.37px">i-089d00bf337e76c26 (OrderServer11)</div></div>
<div class="c" style="left:764.50px;top:1322.00px;width:635.00px;height:96.60px"><div class="t" id="t148" style="top:77.00px;font-size:12px;color:#4a4a4a;letter-spacing:0.077px;left:14.00px">Requests [last:0, max: 4] - </div></div>
<div class="c" style="left:764.50px;top:1322.00px;width:635.00px;height:96.60px"><div class="t" id="t149" style="top:77.00px;font-size:12px;color:#4a4a4a;letter-spacing:0.500px;left:158.89px">"http-nio-8080" - </div></div>
<div class="c" style="left:764.50px;top:1322.00px;width:635.00px;height:96.60px"><div class="t" id="t150" style="top:77.00px;font-size:12px;color:#4a4a4a;letter-spacing:0.124px;left:257.79px">i-0d52e3f9d70dde33b (OrderServer5)</div></div>
<div class="c" style="left:764.50px;top:1322.00px;width:635.00px;height:96.60px"><div class="t" id="t151" style="top:95.00px;font-size:12px;color:#4a4a4a;letter-spacing:0.013px;left:14.00px">Requests [last:0, max: 3] - </div></div>
<div class="c" style="left:764.50px;top:1322.00px;width:635.00px;height:96.60px"><div class="t" id="t152" style="top:95.00px;font-size:12px;color:#4a4a4a;letter-spacing:0.500px;left:157.09px">"http-nio-8080" - </div></div>
<div class="c" style="left:764.50px;top:1322.00px;width:635.00px;height:96.60px"><div class="t" id="t153" style="top:95.00px;font-size:12px;color:#4a4a4a;letter-spacing:0.124px;left:255.99px">i-0084098d7773f2a7a (OrderServer2)</div></div>
<div class="t" id="t154" style="top:1543.00px;font-size:14px;color:#16191f;letter-spacing:0.178px;left:20.00px">Top 10 total time to process all requests by server and proto_handler</div>
<div class="t" id="t155" style="top:1586.00px;font-size:12px;color:#555555;left:23.30px">Milliseconds</div>
<div class="t" id="t156" style="top:1613.00px;font-size:12px;color:#16191f;right:1376.20px">105.00</div>
<div class="t" id="t157" style="top:1689.00px;font-size:12px;color:#16191f;right:1376.20px">52.50</div>
<div class="t" id="t158" style="top:1765.00px;font-size:12px;color:#16191f;right:1376.20px">0</div>
<div class="t" id="t159" style="top:1783.00px;font-size:12px;color:#16191f;left:163.30px;transform:translateX(-50%)">14:30</div>
<div class="t" id="t160" style="top:1783.00px;font-size:12px;color:#16191f;left:266.40px;transform:translateX(-50%)">15:00</div>
<div class="t" id="t161" style="top:1783.00px;font-size:12px;color:#16191f;left:369.50px;transform:translateX(-50%)">15:30</div>
<div class="t" id="t162" style="top:1783.00px;font-size:12px;color:#16191f;left:472.60px;transform:translateX(-50%)">16:00</div>
<div class="t" id="t163" style="top:1783.00px;font-size:12px;color:#16191f;left:576.30px;transform:translateX(-50%)">16:30</div>
<div class="t" id="t164" style="top:1783.00px;font-size:12px;color:#16191f;left:679.50px;transform:translateX(-50%)">17:00</div>
<div class="c" style="left:48.00px;top:1802.00px;width:635.00px;height:96.60px"><div class="t" id="t165" style="top:4.00px;font-size:12px;color:#4a4a4a;letter-spacing:0.056px;left:14.00px">Processing Time [last: 2] - </div></div>
<div class="c" style="left:48.00px;top:1802.00px;width:635.00px;height:96.60px"><div class="t" id="t166" style="top:4.00px;font-size:12px;color:#4a4a4a;letter-spacing:0.500px;left:156.97px">"http-nio-8080" - </div></div>
<div class="c" style="left:48.00px;top:1802.00px;width:635.00px;height:96.60px"><div class="t" id="t167" style="top:4.00px;font-size:12px;color:#4a4a4a;letter-spacing:0.124px;left:255.87px">i-03a76e0ab9fc0d6dd (OrderServer7)</div></div>
<div class="c" style="left:48.00px;top:1802.00px;width:635.00px;height:96.60px"><div class="t" id="t168" style="top:22.00px;font-size:12px;color:#4a4a4a;letter-spacing:0.110px;left:14.00px">Processing Time [last: 4] - </div></div>
<div class="c" style="left:48.00px;top:1802.00px;width:635.00px;height:96.60px"><div class="t" id="t169" style="top:22.00px;font-size:12px;color:#4a4a4a;letter-spacing:0.500px;left:158.47px">"http-nio-8080" - </div></div>
<div class="c" style="left:48.00px;top:1802.00px;width:635.00px;height:96.60px"><div class="t" id="t170" style="top:22.00px;font-size:12px;color:#4a4a4a;letter-spacing:0.119px;left:257.37px">i-0f0e662f13ca6fb9c (OrderServer8)</div></div>
<div class="c" style="left:48.00px;top:1802.00px;width:635.00px;height:96.60px"><div class="t" id="t171" style="top:40.00px;font-size:12px;color:#4a4a4a;letter-spacing:0.038px;left:14.00px">Processing Time [last: 4] - </div></div>
<div class="c" style="left:48.00px;top:1802.00px;width:635.00px;height:96.60px"><div class="t" id="t172" style="top:40.00px;font-size:12px;color:#4a4a4a;letter-spacing:0.500px;left:156.46px">"http-nio-8080" - </div></div>
<div class="c" style="left:48.00px;top:1802.00px;width:635.00px;height:96.60px"><div class="t" id="t173" style="top:40.00px;font-size:12px;color:#4a4a4a;letter-spacing:0.123px;left:255.36px">i-0bcf8dae93ec8052b (OrderServer9)</div></div>
<div class="c" style="left:48.00px;top:1802.00px;width:635.00px;height:96.60px"><div class="t" id="t174" style="top:59.00px;font-size:12px;color:#4a4a4a;letter-spacing:0.118px;left:14.00px">Processing Time [last: 5] - </div></div>
<div class="c" style="left:48.00px;top:1802.00px;width:635.00px;height:96.60px"><div class="t" id="t175" style="top:59.00px;font-size:12px;color:#4a4a4a;letter-spacing:0.500px;left:158.69px">"http-nio-8080" - </div></div>
<div class="c" style="left:48.00px;top:1802.00px;width:635.00px;height:96.60px"><div class="t" id="t176" style="top:59.00px;font-size:12px;color:#4a4a4a;letter-spacing:0.124px;left:257.59px">i-0d52e3f9d70dde33b (OrderServer5)</div></div>
<div class="c" style="left:48.00px;top:1802.00px;width:635.00px;height:96.60px"><div class="t" id="t177" style="top:77.00px;font-size:12px;color:#4a4a4a;letter-spacing:0.110px;left:14.00px">Processing Time [last: 2] - </div></div>
<div class="c" style="left:48.00px;top:1802.00px;width:635.00px;height:96.60px"><div class="t" id="t178" style="top:77.00px;font-size:12px;color:#4a4a4a;letter-spacing:0.500px;left:158.48px">"http-nio-8080" - </div></div>
<div class="c" style="left:48.00px;top:1802.00px;width:635.00px;height:96.60px"><div class="t" id="t179" style="top:77.00px;font-size:12px;color:#4a4a4a;letter-spacing:0.122px;left:257.38px">i-00483062a59f2fee2 (OrderServer6)</div></div>
<div class="c" style="left:48.00px;top:1802.00px;width:635.00px;height:96.60px"><div class="t" id="t180" style="top:95.00px;font-size:12px;color:#4a4a4a;letter-spacing:-0.019px;left:14.00px">Processing Time [last: 2] - </div></div>
<div class="c" style="left:48.00px;top:1802.00px;width:635.00px;height:96.60px"><div class="t" id="t181" style="top:95.00px;font-size:12px;color:#4a4a4a;letter-spacing:0.500px;left:154.86px">"http-nio-8080" - </div></div>
<div class="c" style="left:48.00px;top:1802.00px;width:635.00px;height:96.60px"><div class="t" id="t182" style="top:95.00px;font-size:12px;color:#4a4a4a;letter-spacing:0.126px;left:253.76px">i-095769e0880be1873 (OrderServer10)</div></div>
<div class="t" id="t183" style="top:1543.00px;font-size:14px;color:#16191f;letter-spacing:0.123px;left:736.50px">Top 10 request max processing time by server and proto_handler</div>
<div class="t" id="t184" style="top:1586.00px;font-size:12px;color:#555555;left:739.80px">Milliseconds</div>
<div class="t" id="t185" style="top:1613.00px;font-size:12px;color:#16191f;right:662.30px">20,007</div>
<div class="t" id="t186" style="top:1689.00px;font-size:12px;color:#16191f;right:662.30px">10,004</div>
<div class="t" id="t187" style="top:1765.00px;font-size:12px;color:#16191f;right:662.30px">0</div>
<div class="t" id="t188" style="top:1783.00px;font-size:12px;color:#16191f;left:879.70px;transform:translateX(-50%)">14:30</div>
<div class="t" id="t189" style="top:1783.00px;font-size:12px;color:#16191f;left:982.80px;transform:translateX(-50%)">15:00</div>
<div class="t" id="t190" style="top:1783.00px;font-size:12px;color:#16191f;left:1085.90px;transform:translateX(-50%)">15:30</div>
<div class="t" id="t191" style="top:1783.00px;font-size:12px;color:#16191f;left:1189.00px;transform:translateX(-50%)">16:00</div>
<div class="t" id="t192" style="top:1783.00px;font-size:12px;color:#16191f;left:1292.10px;transform:translateX(-50%)">16:30</div>
<div class="t" id="t193" style="top:1783.00px;font-size:12px;color:#16191f;left:1395.80px;transform:translateX(-50%)">17:00</div>
<div class="c" style="left:764.50px;top:1802.00px;width:635.00px;height:96.60px"><div class="t" id="t194" style="top:4.00px;font-size:12px;color:#4a4a4a;letter-spacing:0.141px;left:14.00px">Max Time [last: 20,007] - </div></div>
<div class="c" style="left:764.50px;top:1802.00px;width:635.00px;height:96.60px"><div class="t" id="t195" style="top:4.00px;font-size:12px;color:#4a4a4a;letter-spacing:0.500px;left:152.37px">"http-nio-8080" - </div></div>
<div class="c" style="left:764.50px;top:1802.00px;width:635.00px;height:96.60px"><div class="t" id="t196" style="top:4.00px;font-size:12px;color:#4a4a4a;letter-spacing:0.126px;left:251.27px">i-07e2150b0de20e650 (OrderServer4)</div></div>
<div class="c" style="left:764.50px;top:1802.00px;width:635.00px;height:96.60px"><div class="t" id="t197" style="top:22.00px;font-size:12px;color:#4a4a4a;letter-spacing:0.256px;left:14.00px">Max Time [last: 20,003] - </div></div>
<div class="c" style="left:764.50px;top:1802.00px;width:635.00px;height:96.60px"><div class="t" id="t198" style="top:22.00px;font-size:12px;color:#4a4a4a;letter-spacing:0.500px;left:155.37px">"http-nio-8080" - </div></div>
<div class="c" style="left:764.50px;top:1802.00px;width:635.00px;height:96.60px"><div class="t" id="t199" style="top:22.00px;font-size:12px;color:#4a4a4a;letter-spacing:0.124px;left:254.27px">i-089d00bf337e76c26 (OrderServer11)</div></div>
<div class="c" style="left:764.50px;top:1802.00px;width:635.00px;height:96.60px"><div class="t" id="t200" style="top:40.00px;font-size:12px;color:#4a4a4a;letter-spacing:0.144px;left:14.00px">Max Time [last: 20,001] - </div></div>
<div class="c" style="left:764.50px;top:1802.00px;width:635.00px;height:96.60px"><div class="t" id="t201" style="top:40.00px;font-size:12px;color:#4a4a4a;letter-spacing:0.500px;left:152.46px">"http-nio-8080" - </div></div>
<div class="c" style="left:764.50px;top:1802.00px;width:635.00px;height:96.60px"><div class="t" id="t202" style="top:40.00px;font-size:12px;color:#4a4a4a;letter-spacing:0.123px;left:251.36px">i-0bcf8dae93ec8052b (OrderServer9)</div></div>
<div class="c" style="left:764.50px;top:1802.00px;width:635.00px;height:96.60px"><div class="t" id="t203" style="top:59.00px;font-size:12px;color:#4a4a4a;letter-spacing:0.222px;left:14.00px">Max Time [last: 13,563] - </div></div>
<div class="c" style="left:764.50px;top:1802.00px;width:635.00px;height:96.60px"><div class="t" id="t204" style="top:59.00px;font-size:12px;color:#4a4a4a;letter-spacing:0.500px;left:154.48px">"http-nio-8080" - </div></div>
<div class="c" style="left:764.50px;top:1802.00px;width:635.00px;height:96.60px"><div class="t" id="t205" style="top:59.00px;font-size:12px;color:#4a4a4a;letter-spacing:0.122px;left:253.38px">i-00483062a59f2fee2 (OrderServer6)</div></div>
<div class="c" style="left:764.50px;top:1802.00px;width:635.00px;height:96.60px"><div class="t" id="t206" style="top:77.00px;font-size:12px;color:#4a4a4a;letter-spacing:0.206px;left:14.00px">Max Time [last: 12,558] - </div></div>
<div class="c" style="left:764.50px;top:1802.00px;width:635.00px;height:96.60px"><div class="t" id="t207" style="top:77.00px;font-size:12px;color:#4a4a4a;letter-spacing:0.500px;left:154.09px">"http-nio-8080" - </div></div>
<div class="c" style="left:764.50px;top:1802.00px;width:635.00px;height:96.60px"><div class="t" id="t208" style="top:77.00px;font-size:12px;color:#4a4a4a;letter-spacing:0.124px;left:252.99px">i-0084098d7773f2a7a (OrderServer2)</div></div>
<div class="c" style="left:764.50px;top:1802.00px;width:635.00px;height:96.60px"><div class="t" id="t209" style="top:95.00px;font-size:12px;color:#4a4a4a;letter-spacing:0.143px;left:14.00px">Max Time [last: 11,676] - </div></div>
<div class="c" style="left:764.50px;top:1802.00px;width:635.00px;height:96.60px"><div class="t" id="t210" style="top:95.00px;font-size:12px;color:#4a4a4a;letter-spacing:0.500px;left:151.56px">"http-nio-8080" - </div></div>
<div class="c" style="left:764.50px;top:1802.00px;width:635.00px;height:96.60px"><div class="t" id="t211" style="top:95.00px;font-size:12px;color:#4a4a4a;letter-spacing:0.121px;left:250.46px">i-0ce5c2fbcfda86217 (OrderServer1)</div></div>
<div class="t" id="t212" style="top:2023.00px;font-size:12px;color:#16191f;letter-spacing:0.121px;left:18.00px">Top 10 busy threads by server and proto_handler</div>
<div class="t" id="t213" style="top:2059.00px;font-size:10px;color:#555555;left:20.40px;-webkit-text-stroke-width:0.1px">Count</div>
<div class="t" id="t214" style="top:2081.00px;font-size:10px;color:#16191f;right:1395.80px;-webkit-text-stroke-width:0.1px">1.00</div>
<div class="t" id="t215" style="top:2121.00px;font-size:10px;color:#16191f;right:1395.80px;-webkit-text-stroke-width:0.1px">0.50</div>
<div class="t" id="t216" style="top:2161.00px;font-size:10px;color:#16191f;right:1395.80px;-webkit-text-stroke-width:0.1px">0</div>
<div class="t" id="t217" style="top:2176.00px;font-size:10px;color:#16191f;left:79.90px;transform:translateX(-50%);-webkit-text-stroke-width:0.1px">15:00</div>
<div class="t" id="t218" style="top:2176.00px;font-size:10px;color:#16191f;left:186.80px;transform:translateX(-50%);-webkit-text-stroke-width:0.1px">15:30</div>
<div class="t" id="t219" style="top:2176.00px;font-size:10px;color:#16191f;left:293.70px;transform:translateX(-50%);-webkit-text-stroke-width:0.1px">16:00</div>
<div class="t" id="t220" style="top:2176.00px;font-size:10px;color:#16191f;left:400.60px;transform:translateX(-50%);-webkit-text-stroke-width:0.1px">16:30</div>
<div class="t" id="t221" style="top:2224.00px;font-size:10px;color:#16191f;left:52.10px;transform:translateX(-50%);-webkit-text-stroke-width:0.1px">14:03</div>
<div class="t" id="t222" style="top:2224.00px;font-size:10px;color:#16191f;left:185.80px;transform:translateX(-50%);-webkit-text-stroke-width:0.1px">15:02</div>
<div class="t" id="t223" style="top:2224.00px;font-size:10px;color:#16191f;left:319.50px;transform:translateX(-50%);-webkit-text-stroke-width:0.1px">16:02</div>
<div class="t" id="t224" style="top:2224.00px;font-size:10px;color:#16191f;left:453.20px;transform:translateX(-50%);-webkit-text-stroke-width:0.1px">17:02</div>
<div class="c" style="left:40.00px;top:2252.00px;width:413.00px;height:66.60px"><div class="t" id="t225" style="top:5.00px;font-size:10px;color:#4a4a4a;letter-spacing:0.007px;left:12.70px;-webkit-text-stroke-width:0.1px">Busy Threads Count [last: 0, min: 0, max: 0, avg: 0] - </div></div>
<div class="c" style="left:40.00px;top:2252.00px;width:413.00px;height:66.60px"><div class="t" id="t226" style="top:5.00px;font-size:10px;color:#4a4a4a;letter-spacing:0.416px;left:249.10px;-webkit-text-stroke-width:0.1px">"http-nio-8080" - </div></div>
<div class="c" style="left:40.00px;top:2252.00px;width:413.00px;height:66.60px"><div class="t" id="t227" style="top:5.00px;font-size:10px;color:#4a4a4a;letter-spacing:0.102px;left:331.52px;-webkit-text-stroke-width:0.1px">i-00483062a59f2fee2 (OrderServer6)</div></div>
<div class="c" style="left:40.00px;top:2252.00px;width:413.00px;height:66.60px"><div class="t" id="t228" style="top:20.00px;font-size:10px;color:#4a4a4a;letter-spacing:0.007px;left:12.70px;-webkit-text-stroke-width:0.1px">Busy Threads Count [last: 0, min: 0, max: 0, avg: 0] - </div></div>
<div class="c" style="left:40.00px;top:2252.00px;width:413.00px;height:66.60px"><div class="t" id="t229" style="top:20.00px;font-size:10px;color:#4a4a4a;letter-spacing:0.416px;left:249.10px;-webkit-text-stroke-width:0.1px">"http-nio-8080" - </div></div>
<div class="c" style="left:40.00px;top:2252.00px;width:413.00px;height:66.60px"><div class="t" id="t230" style="top:20.00px;font-size:10px;color:#4a4a4a;letter-spacing:0.103px;left:331.52px;-webkit-text-stroke-width:0.1px">i-0084098d7773f2a7a (OrderServer2)</div></div>
<div class="c" style="left:40.00px;top:2252.00px;width:413.00px;height:66.60px"><div class="t" id="t231" style="top:35.00px;font-size:10px;color:#4a4a4a;letter-spacing:0.007px;left:12.70px;-webkit-text-stroke-width:0.1px">Busy Threads Count [last: 0, min: 0, max: 0, avg: 0] - </div></div>
<div class="c" style="left:40.00px;top:2252.00px;width:413.00px;height:66.60px"><div class="t" id="t232" style="top:35.00px;font-size:10px;color:#4a4a4a;letter-spacing:0.416px;left:249.10px;-webkit-text-stroke-width:0.1px">"http-nio-8080" - </div></div>
<div class="c" style="left:40.00px;top:2252.00px;width:413.00px;height:66.60px"><div class="t" id="t233" style="top:35.00px;font-size:10px;color:#4a4a4a;letter-spacing:0.103px;left:331.52px;-webkit-text-stroke-width:0.1px">i-03a76e0ab9fc0d6dd (OrderServer7)</div></div>
<div class="c" style="left:40.00px;top:2252.00px;width:413.00px;height:66.60px"><div class="t" id="t234" style="top:50.00px;font-size:10px;color:#4a4a4a;letter-spacing:0.007px;left:12.70px;-webkit-text-stroke-width:0.1px">Busy Threads Count [last: 0, min: 0, max: 0, avg: 0] - </div></div>
<div class="c" style="left:40.00px;top:2252.00px;width:413.00px;height:66.60px"><div class="t" id="t235" style="top:50.00px;font-size:10px;color:#4a4a4a;letter-spacing:0.416px;left:249.10px;-webkit-text-stroke-width:0.1px">"http-nio-8080" - </div></div>
<div class="c" style="left:40.00px;top:2252.00px;width:413.00px;height:66.60px"><div class="t" id="t236" style="top:50.00px;font-size:10px;color:#4a4a4a;letter-spacing:0.105px;left:331.52px;-webkit-text-stroke-width:0.1px">i-07e2150b0de20e650 (OrderServer4)</div></div>
<div class="c" style="left:40.00px;top:2252.00px;width:413.00px;height:66.60px"><div class="t" id="t237" style="top:65.00px;font-size:10px;color:#4a4a4a;letter-spacing:0.007px;left:12.70px;-webkit-text-stroke-width:0.1px">Busy Threads Count [last: 0, min: 0, max: 0, avg: 0] - </div></div>
<div class="c" style="left:40.00px;top:2252.00px;width:413.00px;height:66.60px"><div class="t" id="t238" style="top:65.00px;font-size:10px;color:#4a4a4a;letter-spacing:0.416px;left:249.10px;-webkit-text-stroke-width:0.1px">"http-nio-8080" - </div></div>
<div class="c" style="left:40.00px;top:2252.00px;width:413.00px;height:66.60px"><div class="t" id="t239" style="top:65.00px;font-size:10px;color:#4a4a4a;letter-spacing:0.103px;left:331.52px;-webkit-text-stroke-width:0.1px">i-089d00bf337e76c26 (OrderServer11)</div></div>
<div class="t" id="t240" style="top:2023.00px;font-size:12px;color:#16191f;letter-spacing:0.188px;left:495.50px">Top 10 current threadcount by server and proto_handler</div>
<div class="t" id="t241" style="top:2059.00px;font-size:10px;color:#555555;left:497.90px;-webkit-text-stroke-width:0.1px">Count</div>
<div class="t" id="t242" style="top:2081.00px;font-size:10px;color:#16191f;right:918.30px;-webkit-text-stroke-width:0.1px">16.0</div>
<div class="t" id="t243" style="top:2121.00px;font-size:10px;color:#16191f;right:918.30px;-webkit-text-stroke-width:0.1px">8.0</div>
<div class="t" id="t244" style="top:2161.00px;font-size:10px;color:#16191f;right:918.30px;-webkit-text-stroke-width:0.1px">0</div>
<div class="t" id="t245" style="top:2176.00px;font-size:10px;color:#16191f;left:557.40px;transform:translateX(-50%);-webkit-text-stroke-width:0.1px">15:00</div>
<div class="t" id="t246" style="top:2176.00px;font-size:10px;color:#16191f;left:664.30px;transform:translateX(-50%);-webkit-text-stroke-width:0.1px">15:30</div>
<div class="t" id="t247" style="top:2176.00px;font-size:10px;color:#16191f;left:771.20px;transform:translateX(-50%);-webkit-text-stroke-width:0.1px">16:00</div>
<div class="t" id="t248" style="top:2176.00px;font-size:10px;color:#16191f;left:878.10px;transform:translateX(-50%);-webkit-text-stroke-width:0.1px">16:30</div>
<div class="t" id="t249" style="top:2224.00px;font-size:10px;color:#16191f;left:529.60px;transform:translateX(-50%);-webkit-text-stroke-width:0.1px">14:03</div>
<div class="t" id="t250" style="top:2224.00px;font-size:10px;color:#16191f;left:663.30px;transform:translateX(-50%);-webkit-text-stroke-width:0.1px">15:02</div>
<div class="t" id="t251" style="top:2224.00px;font-size:10px;color:#16191f;left:797.00px;transform:translateX(-50%);-webkit-text-stroke-width:0.1px">16:02</div>
<div class="t" id="t252" style="top:2224.00px;font-size:10px;color:#16191f;left:930.70px;transform:translateX(-50%);-webkit-text-stroke-width:0.1px">17:02</div>
<div class="c" style="left:517.50px;top:2252.00px;width:413.00px;height:66.60px"><div class="t" id="t253" style="top:5.00px;font-size:10px;color:#4a4a4a;letter-spacing:0.055px;left:12.70px;-webkit-text-stroke-width:0.1px">Threads Count [last: 16, min: 16, max: 16, avg: 16] - </div></div>
<div class="c" style="left:517.50px;top:2252.00px;width:413.00px;height:66.60px"><div class="t" id="t254" style="top:5.00px;font-size:10px;color:#4a4a4a;letter-spacing:0.416px;left:249.10px;-webkit-text-stroke-width:0.1px">"http-nio-8080" - </div></div>
<div class="c" style="left:517.50px;top:2252.00px;width:413.00px;height:66.60px"><div class="t" id="t255" style="top:5.00px;font-size:10px;color:#4a4a4a;letter-spacing:0.103px;left:331.52px;-webkit-text-stroke-width:0.1px">i-03a76e0ab9fc0d6dd (OrderServer7)</div></div>
<div class="c" style="left:517.50px;top:2252.00px;width:413.00px;height:66.60px"><div class="t" id="t256" style="top:20.00px;font-size:10px;color:#4a4a4a;letter-spacing:0.055px;left:12.70px;-webkit-text-stroke-width:0.1px">Threads Count [last: 16, min: 16, max: 16, avg: 16] - </div></div>
<div class="c" style="left:517.50px;top:2252.00px;width:413.00px;height:66.60px"><div class="t" id="t257" style="top:20.00px;font-size:10px;color:#4a4a4a;letter-spacing:0.416px;left:249.10px;-webkit-text-stroke-width:0.1px">"http-nio-8080" - </div></div>
<div class="c" style="left:517.50px;top:2252.00px;width:413.00px;height:66.60px"><div class="t" id="t258" style="top:20.00px;font-size:10px;color:#4a4a4a;letter-spacing:0.102px;left:331.52px;-webkit-text-stroke-width:0.1px">i-0bcf8dae93ec8052b (OrderServer9)</div></div>
<div class="c" style="left:517.50px;top:2252.00px;width:413.00px;height:66.60px"><div class="t" id="t259" style="top:35.00px;font-size:10px;color:#4a4a4a;letter-spacing:0.055px;left:12.70px;-webkit-text-stroke-width:0.1px">Threads Count [last: 10, min: 10, max: 10, avg: 10] - </div></div>
<div class="c" style="left:517.50px;top:2252.00px;width:413.00px;height:66.60px"><div class="t" id="t260" style="top:35.00px;font-size:10px;color:#4a4a4a;letter-spacing:0.416px;left:249.10px;-webkit-text-stroke-width:0.1px">"http-nio-8080" - </div></div>
<div class="c" style="left:517.50px;top:2252.00px;width:413.00px;height:66.60px"><div class="t" id="t261" style="top:35.00px;font-size:10px;color:#4a4a4a;letter-spacing:0.102px;left:331.52px;-webkit-text-stroke-width:0.1px">i-00483062a59f2fee2 (OrderServer6)</div></div>
<div class="c" style="left:517.50px;top:2252.00px;width:413.00px;height:66.60px"><div class="t" id="t262" style="top:50.00px;font-size:10px;color:#4a4a4a;letter-spacing:0.055px;left:12.70px;-webkit-text-stroke-width:0.1px">Threads Count [last: 10, min: 10, max: 10, avg: 10] - </div></div>
<div class="c" style="left:517.50px;top:2252.00px;width:413.00px;height:66.60px"><div class="t" id="t263" style="top:50.00px;font-size:10px;color:#4a4a4a;letter-spacing:0.416px;left:249.10px;-webkit-text-stroke-width:0.1px">"http-nio-8080" - </div></div>
<div class="c" style="left:517.50px;top:2252.00px;width:413.00px;height:66.60px"><div class="t" id="t264" style="top:50.00px;font-size:10px;color:#4a4a4a;letter-spacing:0.103px;left:331.52px;-webkit-text-stroke-width:0.1px">i-0084098d7773f2a7a (OrderServer2)</div></div>
<div class="c" style="left:517.50px;top:2252.00px;width:413.00px;height:66.60px"><div class="t" id="t265" style="top:65.00px;font-size:10px;color:#4a4a4a;letter-spacing:0.055px;left:12.70px;-webkit-text-stroke-width:0.1px">Threads Count [last: 10, min: 10, max: 10, avg: 10] - </div></div>
<div class="c" style="left:517.50px;top:2252.00px;width:413.00px;height:66.60px"><div class="t" id="t266" style="top:65.00px;font-size:10px;color:#4a4a4a;letter-spacing:0.416px;left:249.10px;-webkit-text-stroke-width:0.1px">"http-nio-8080" - </div></div>
<div class="c" style="left:517.50px;top:2252.00px;width:413.00px;height:66.60px"><div class="t" id="t267" style="top:65.00px;font-size:10px;color:#4a4a4a;letter-spacing:0.105px;left:331.52px;-webkit-text-stroke-width:0.1px">i-07e2150b0de20e650 (OrderServer4)</div></div>
<div class="t" id="t268" style="top:2023.00px;font-size:12px;color:#16191f;letter-spacing:-0.191px;left:973.00px">Top 10 active sessions by server</div>
<div class="t" id="t269" style="top:2059.00px;font-size:10px;color:#555555;left:975.40px;-webkit-text-stroke-width:0.1px">Count</div>
<div class="t" id="t270" style="top:2081.00px;font-size:10px;color:#16191f;right:440.80px;-webkit-text-stroke-width:0.1px">1.00</div>
<div class="t" id="t271" style="top:2121.00px;font-size:10px;color:#16191f;right:440.80px;-webkit-text-stroke-width:0.1px">0.50</div>
<div class="t" id="t272" style="top:2161.00px;font-size:10px;color:#16191f;right:440.80px;-webkit-text-stroke-width:0.1px">0</div>
<div class="t" id="t273" style="top:2176.00px;font-size:10px;color:#16191f;left:1034.90px;transform:translateX(-50%);-webkit-text-stroke-width:0.1px">15:00</div>
<div class="t" id="t274" style="top:2176.00px;font-size:10px;color:#16191f;left:1141.80px;transform:translateX(-50%);-webkit-text-stroke-width:0.1px">15:30</div>
<div class="t" id="t275" style="top:2176.00px;font-size:10px;color:#16191f;left:1248.70px;transform:translateX(-50%);-webkit-text-stroke-width:0.1px">16:00</div>
<div class="t" id="t276" style="top:2176.00px;font-size:10px;color:#16191f;left:1355.60px;transform:translateX(-50%);-webkit-text-stroke-width:0.1px">16:30</div>
<div class="t" id="t277" style="top:2224.00px;font-size:10px;color:#16191f;left:1007.10px;transform:translateX(-50%);-webkit-text-stroke-width:0.1px">14:03</div>
<div class="t" id="t278" style="top:2224.00px;font-size:10px;color:#16191f;left:1140.80px;transform:translateX(-50%);-webkit-text-stroke-width:0.1px">15:02</div>
<div class="t" id="t279" style="top:2224.00px;font-size:10px;color:#16191f;left:1274.50px;transform:translateX(-50%);-webkit-text-stroke-width:0.1px">16:02</div>
<div class="t" id="t280" style="top:2224.00px;font-size:10px;color:#16191f;left:1408.20px;transform:translateX(-50%);-webkit-text-stroke-width:0.1px">17:02</div>
<div class="c" style="left:995.00px;top:2240.00px;width:413.00px;height:78.70px"><div class="t" id="t281" style="top:-5.00px;font-size:10px;color:#4a4a4a;letter-spacing:-0.023px;left:12.70px;-webkit-text-stroke-width:0.1px">Sessions [last: 0, min: 0, max: 0, avg: 0] - </div></div>
<div class="c" style="left:995.00px;top:2240.00px;width:413.00px;height:78.70px"><div class="t" id="t282" style="top:-5.00px;font-size:10px;color:#4a4a4a;letter-spacing:0.105px;left:197.30px;-webkit-text-stroke-width:0.1px">i-095769e0880be1873 (OrderServer10)</div></div>
<div class="c" style="left:995.00px;top:2240.00px;width:413.00px;height:78.70px"><div class="t" id="t283" style="top:10.00px;font-size:10px;color:#4a4a4a;letter-spacing:-0.023px;left:12.70px;-webkit-text-stroke-width:0.1px">Sessions [last: 0, min: 0, max: 0, avg: 0] - </div></div>
<div class="c" style="left:995.00px;top:2240.00px;width:413.00px;height:78.70px"><div class="t" id="t284" style="top:10.00px;font-size:10px;color:#4a4a4a;letter-spacing:0.102px;left:197.30px;-webkit-text-stroke-width:0.1px">i-0bcf8dae93ec8052b (OrderServer9)</div></div>
<div class="c" style="left:995.00px;top:2240.00px;width:413.00px;height:78.70px"><div class="t" id="t285" style="top:25.00px;font-size:10px;color:#4a4a4a;letter-spacing:-0.023px;left:12.70px;-webkit-text-stroke-width:0.1px">Sessions [last: 0, min: 0, max: 0, avg: 0] - </div></div>
<div class="c" style="left:995.00px;top:2240.00px;width:413.00px;height:78.70px"><div class="t" id="t286" style="top:25.00px;font-size:10px;color:#4a4a4a;letter-spacing:0.100px;left:197.30px;-webkit-text-stroke-width:0.1px">i-0ce5c2fbcfda86217 (OrderServer1)</div></div>
<div class="c" style="left:995.00px;top:2240.00px;width:413.00px;height:78.70px"><div class="t" id="t287" style="top:40.00px;font-size:10px;color:#4a4a4a;letter-spacing:-0.023px;left:12.70px;-webkit-text-stroke-width:0.1px">Sessions [last: 0, min: 0, max: 0, avg: 0] - </div></div>
<div class="c" style="left:995.00px;top:2240.00px;width:413.00px;height:78.70px"><div class="t" id="t288" style="top:40.00px;font-size:10px;color:#4a4a4a;letter-spacing:0.105px;left:197.30px;-webkit-text-stroke-width:0.1px">i-0d450d6aca065aeb0 (OrderServer3)</div></div>
<div class="c" style="left:995.00px;top:2240.00px;width:413.00px;height:78.70px"><div class="t" id="t289" style="top:55.00px;font-size:10px;color:#4a4a4a;letter-spacing:-0.023px;left:12.70px;-webkit-text-stroke-width:0.1px">Sessions [last: 0, min: 0, max: 0, avg: 0] - </div></div>
<div class="c" style="left:995.00px;top:2240.00px;width:413.00px;height:78.70px"><div class="t" id="t290" style="top:55.00px;font-size:10px;color:#4a4a4a;letter-spacing:0.103px;left:197.30px;-webkit-text-stroke-width:0.1px">i-0d52e3f9d70dde33b (OrderServer5)</div></div>
<div class="c" style="left:995.00px;top:2240.00px;width:413.00px;height:78.70px"><div class="t" id="t291" style="top:70.00px;font-size:10px;color:#4a4a4a;letter-spacing:-0.021px;left:12.70px;-webkit-text-stroke-width:0.1px">Average Sessions Of All Servers [0]</div></div>
<div class="t" id="t292" style="top:2438.00px;font-size:14px;color:#16191f;letter-spacing:0.197px;left:20.00px">Top 10 sent traffic by server and proto_handler</div>
<div class="t" id="t293" style="top:2482.00px;font-size:12px;color:#555555;left:23.30px">Bytes</div>
<div class="t" id="t294" style="top:2508.00px;font-size:12px;color:#16191f;right:1377.40px">26,978</div>
<div class="t" id="t295" style="top:2584.00px;font-size:12px;color:#16191f;right:1377.40px">13,489</div>
<div class="t" id="t296" style="top:2660.00px;font-size:12px;color:#16191f;right:1377.40px">0</div>
<div class="t" id="t297" style="top:2678.00px;font-size:12px;color:#16191f;left:163.00px;transform:translateX(-50%)">14:30</div>
<div class="t" id="t298" style="top:2678.00px;font-size:12px;color:#16191f;left:266.30px;transform:translateX(-50%)">15:00</div>
<div class="t" id="t299" style="top:2678.00px;font-size:12px;color:#16191f;left:369.30px;transform:translateX(-50%)">15:30</div>
<div class="t" id="t300" style="top:2678.00px;font-size:12px;color:#16191f;left:472.70px;transform:translateX(-50%)">16:00</div>
<div class="t" id="t301" style="top:2678.00px;font-size:12px;color:#16191f;left:576.40px;transform:translateX(-50%)">16:30</div>
<div class="t" id="t302" style="top:2678.00px;font-size:12px;color:#16191f;left:679.20px;transform:translateX(-50%)">17:00</div>
<div class="c" style="left:48.00px;top:2697.00px;width:635.00px;height:96.60px"><div class="t" id="t303" style="top:4.00px;font-size:12px;color:#4a4a4a;letter-spacing:0.128px;left:14.00px">Sent Traffic [last:0, max: 26,978] - </div></div>
<div class="c" style="left:48.00px;top:2697.00px;width:635.00px;height:96.60px"><div class="t" id="t304" style="top:4.00px;font-size:12px;color:#4a4a4a;letter-spacing:0.500px;left:201.27px">"http-nio-8080" - </div></div>
<div class="c" style="left:48.00px;top:2697.00px;width:635.00px;height:96.60px"><div class="t" id="t305" style="top:4.00px;font-size:12px;color:#4a4a4a;letter-spacing:0.124px;left:300.17px">i-03a76e0ab9fc0d6dd (OrderServer7)</div></div>
<div class="c" style="left:48.00px;top:2697.00px;width:635.00px;height:96.60px"><div class="t" id="t306" style="top:22.00px;font-size:12px;color:#4a4a4a;letter-spacing:0.106px;left:14.00px">Sent Traffic [last:0, max: 26,978] - </div></div>
<div class="c" style="left:48.00px;top:2697.00px;width:635.00px;height:96.60px"><div class="t" id="t307" style="top:22.00px;font-size:12px;color:#4a4a4a;letter-spacing:0.500px;left:200.46px">"http-nio-8080" - </div></div>
<div class="c" style="left:48.00px;top:2697.00px;width:635.00px;height:96.60px"><div class="t" id="t308" style="top:22.00px;font-size:12px;color:#4a4a4a;letter-spacing:0.123px;left:299.36px">i-0bcf8dae93ec8052b (OrderServer9)</div></div>
<div class="c" style="left:48.00px;top:2697.00px;width:635.00px;height:96.60px"><div class="t" id="t309" style="top:40.00px;font-size:12px;color:#4a4a4a;letter-spacing:0.161px;left:14.00px">Sent Traffic [last:0, max: 24,699] - </div></div>
<div class="c" style="left:48.00px;top:2697.00px;width:635.00px;height:96.60px"><div class="t" id="t310" style="top:40.00px;font-size:12px;color:#4a4a4a;letter-spacing:0.500px;left:202.48px">"http-nio-8080" - </div></div>
<div class="c" style="left:48.00px;top:2697.00px;width:635.00px;height:96.60px"><div class="t" id="t311" style="top:40.00px;font-size:12px;color:#4a4a4a;letter-spacing:0.122px;left:301.38px">i-00483062a59f2fee2 (OrderServer6)</div></div>
<div class="c" style="left:48.00px;top:2697.00px;width:635.00px;height:96.60px"><div class="t" id="t312" style="top:59.00px;font-size:12px;color:#4a4a4a;letter-spacing:0.164px;left:14.00px">Sent Traffic [last:0, max: 23,934] - </div></div>
<div class="c" style="left:48.00px;top:2697.00px;width:635.00px;height:96.60px"><div class="t" id="t313" style="top:59.00px;font-size:12px;color:#4a4a4a;letter-spacing:0.500px;left:202.59px">"http-nio-8080" - </div></div>
<div class="c" style="left:48.00px;top:2697.00px;width:635.00px;height:96.60px"><div class="t" id="t314" style="top:59.00px;font-size:12px;color:#4a4a4a;letter-spacing:0.124px;left:301.49px">i-0d52e3f9d70dde33b (OrderServer5)</div></div>
<div class="c" style="left:48.00px;top:2697.00px;width:635.00px;height:96.60px"><div class="t" id="t315" style="top:77.00px;font-size:12px;color:#4a4a4a;letter-spacing:0.155px;left:14.00px">Sent Traffic [last:0, max: 23,177] - </div></div>
<div class="c" style="left:48.00px;top:2697.00px;width:635.00px;height:96.60px"><div class="t" id="t316" style="top:77.00px;font-size:12px;color:#4a4a4a;letter-spacing:0.500px;left:202.27px">"http-nio-8080" - </div></div>
<div class="c" style="left:48.00px;top:2697.00px;width:635.00px;height:96.60px"><div class="t" id="t317" style="top:77.00px;font-size:12px;color:#4a4a4a;letter-spacing:0.119px;left:301.17px">i-0f0e662f13ca6fb9c (OrderServer8)</div></div>
<div class="c" style="left:48.00px;top:2697.00px;width:635.00px;height:96.60px"><div class="t" id="t318" style="top:95.00px;font-size:12px;color:#4a4a4a;letter-spacing:0.085px;left:14.00px">Sent Traffic [last:0, max: 21,656] - </div></div>
<div class="c" style="left:48.00px;top:2697.00px;width:635.00px;height:96.60px"><div class="t" id="t319" style="top:95.00px;font-size:12px;color:#4a4a4a;letter-spacing:0.500px;left:199.67px">"http-nio-8080" - </div></div>
<div class="c" style="left:48.00px;top:2697.00px;width:635.00px;height:96.60px"><div class="t" id="t320" style="top:95.00px;font-size:12px;color:#4a4a4a;letter-spacing:0.126px;left:298.57px">i-07e2150b0de20e650 (OrderServer4)</div></div>
<div class="t" id="t321" style="top:2438.00px;font-size:14px;color:#16191f;letter-spacing:0.172px;left:736.50px">Top 10 received traffic by server and proto_handler</div>
<div class="t" id="t322" style="top:2482.00px;font-size:12px;color:#555555;left:739.80px">Bytes</div>
<div class="t" id="t323" style="top:2508.00px;font-size:12px;color:#16191f;right:669.90px">1.00</div>
<div class="t" id="t324" style="top:2584.00px;font-size:12px;color:#16191f;right:669.90px">0.50</div>
<div class="t" id="t325" style="top:2660.00px;font-size:12px;color:#16191f;right:669.90px">0</div>
<div class="t" id="t326" style="top:2678.00px;font-size:12px;color:#16191f;left:871.40px;transform:translateX(-50%)">14:30</div>
<div class="t" id="t327" style="top:2678.00px;font-size:12px;color:#16191f;left:976.30px;transform:translateX(-50%)">15:00</div>
<div class="t" id="t328" style="top:2678.00px;font-size:12px;color:#16191f;left:1081.10px;transform:translateX(-50%)">15:30</div>
<div class="t" id="t329" style="top:2678.00px;font-size:12px;color:#16191f;left:1186.00px;transform:translateX(-50%)">16:00</div>
<div class="t" id="t330" style="top:2678.00px;font-size:12px;color:#16191f;left:1290.90px;transform:translateX(-50%)">16:30</div>
<div class="t" id="t331" style="top:2678.00px;font-size:12px;color:#16191f;left:1395.80px;transform:translateX(-50%)">17:00</div>
<div class="c" style="left:764.50px;top:2697.00px;width:635.00px;height:96.60px"><div class="t" id="t332" style="top:4.00px;font-size:12px;color:#4a4a4a;letter-spacing:0.073px;left:14.00px">Received Traffic [last:0, max: 0] - </div></div>
<div class="c" style="left:764.50px;top:2697.00px;width:635.00px;height:96.60px"><div class="t" id="t333" style="top:4.00px;font-size:12px;color:#4a4a4a;letter-spacing:0.500px;left:194.48px">"http-nio-8080" - </div></div>
<div class="c" style="left:764.50px;top:2697.00px;width:635.00px;height:96.60px"><div class="t" id="t334" style="top:4.00px;font-size:12px;color:#4a4a4a;letter-spacing:0.122px;left:293.38px">i-00483062a59f2fee2 (OrderServer6)</div></div>
<div class="c" style="left:764.50px;top:2697.00px;width:635.00px;height:96.60px"><div class="t" id="t335" style="top:22.00px;font-size:12px;color:#4a4a4a;letter-spacing:0.090px;left:14.00px">Received Traffic [last:0, max: 0] - </div></div>
<div class="c" style="left:764.50px;top:2697.00px;width:635.00px;height:96.60px"><div class="t" id="t336" style="top:22.00px;font-size:12px;color:#4a4a4a;letter-spacing:0.500px;left:195.09px">"http-nio-8080" - </div></div>
<div class="c" style="left:764.50px;top:2697.00px;width:635.00px;height:96.60px"><div class="t" id="t337" style="top:22.00px;font-size:12px;color:#4a4a4a;letter-spacing:0.124px;left:293.99px">i-0084098d7773f2a7a (OrderServer2)</div></div>
<div class="c" style="left:764.50px;top:2697.00px;width:635.00px;height:96.60px"><div class="t" id="t338" style="top:40.00px;font-size:12px;color:#4a4a4a;letter-spacing:0.040px;left:14.00px">Received Traffic [last:0, max: 0] - </div></div>
<div class="c" style="left:764.50px;top:2697.00px;width:635.00px;height:96.60px"><div class="t" id="t339" style="top:40.00px;font-size:12px;color:#4a4a4a;letter-spacing:0.500px;left:193.27px">"http-nio-8080" - </div></div>
<div class="c" style="left:764.50px;top:2697.00px;width:635.00px;height:96.60px"><div class="t" id="t340" style="top:40.00px;font-size:12px;color:#4a4a4a;letter-spacing:0.124px;left:292.17px">i-03a76e0ab9fc0d6dd (OrderServer7)</div></div>
<div class="c" style="left:764.50px;top:2697.00px;width:635.00px;height:96.60px"><div class="t" id="t341" style="top:59.00px;font-size:12px;color:#4a4a4a;letter-spacing:0.051px;left:14.00px">Received Traffic [last:0, max: 0] - </div></div>
<div class="c" style="left:764.50px;top:2697.00px;width:635.00px;height:96.60px"><div class="t" id="t342" style="top:59.00px;font-size:12px;color:#4a4a4a;letter-spacing:0.500px;left:193.67px">"http-nio-8080" - </div></div>
<div class="c" style="left:764.50px;top:2697.00px;width:635.00px;height:96.60px"><div class="t" id="t343" style="top:59.00px;font-size:12px;color:#4a4a4a;letter-spacing:0.126px;left:292.57px">i-07e2150b0de20e650 (OrderServer4)</div></div>
<div class="c" style="left:764.50px;top:2697.00px;width:635.00px;height:96.60px"><div class="t" id="t344" style="top:77.00px;font-size:12px;color:#4a4a4a;letter-spacing:0.112px;left:14.00px">Received Traffic [last:0, max: 0] - </div></div>
<div class="c" style="left:764.50px;top:2697.00px;width:635.00px;height:96.60px"><div class="t" id="t345" style="top:77.00px;font-size:12px;color:#4a4a4a;letter-spacing:0.500px;left:195.87px">"http-nio-8080" - </div></div>
<div class="c" style="left:764.50px;top:2697.00px;width:635.00px;height:96.60px"><div class="t" id="t346" style="top:77.00px;font-size:12px;color:#4a4a4a;letter-spacing:0.124px;left:294.77px">i-089d00bf337e76c26 (OrderServer11)</div></div>
<div class="c" style="left:764.50px;top:2697.00px;width:635.00px;height:96.60px"><div class="t" id="t347" style="top:95.00px;font-size:12px;color:#4a4a4a;letter-spacing:0.000px;left:14.00px">Received Traffic [last:0, max: 0] - </div></div>
<div class="c" style="left:764.50px;top:2697.00px;width:635.00px;height:96.60px"><div class="t" id="t348" style="top:95.00px;font-size:12px;color:#4a4a4a;letter-spacing:0.500px;left:191.86px">"http-nio-8080" - </div></div>
<div class="c" style="left:764.50px;top:2697.00px;width:635.00px;height:96.60px"><div class="t" id="t349" style="top:95.00px;font-size:12px;color:#4a4a4a;letter-spacing:0.126px;left:290.76px">i-095769e0880be1873 (OrderServer10)</div></div>
<div style="position:absolute;left:0;top:2900.6px;width:1440px;height:169.40px;overflow:hidden;background:#f2f3f3"><div style="position:absolute;left:0;top:0;width:1440px;height:169.40px;filter:blur(1.6px)"><div class="t" style="left:18px;top:19.45px;font-size:21px;color:#3a3a3a;letter-spacing:0.6px">Memory usage by host</div><div style="position:absolute;left:18px;top:44.80px;width:1410px;height:1px;background:#c8c8c8"></div><div class="t" style="left:18px;top:58.80px;font-size:14px;color:#3a3a3a;letter-spacing:0.19px">This section provides visibility into the memory usage of hosts in the selected JVM process group. Heap usage metrics help you identify memory leaks and manage memory allocation issues. The non-heap metrics are</div><div class="t" style="left:18px;top:79.00px;font-size:14px;color:#3a3a3a;letter-spacing:0.19px">crucial for monitoring the performance of the JVM. When maximum heap memory or non-heap memory is reported as -1, it means that the maximum is not configured and the metric emits -1 for that metric.</div><div style="position:absolute;left:8px;top:102.40px;width:469.7px;height:35px;background:#fff"></div><div class="t" style="left:20px;top:113.10px;font-size:14px;color:#3a3a3a;letter-spacing:0.35px">Top 10 heap memory used</div><div style="position:absolute;left:460.6px;top:112.65px;width:3.2px;height:3.2px;border-radius:50%;background:#545b64"></div><div style="position:absolute;left:460.6px;top:118.20px;width:3.2px;height:3.2px;border-radius:50%;background:#545b64"></div><div style="position:absolute;left:460.6px;top:123.75px;width:3.2px;height:3.2px;border-radius:50%;background:#545b64"></div><div style="position:absolute;left:485.5px;top:102.40px;width:469.7px;height:35px;background:#fff"></div><div class="t" style="left:497.5px;top:113.10px;font-size:14px;color:#3a3a3a;letter-spacing:0.35px">Top 10 heap memory committed</div><div style="position:absolute;left:938.1px;top:112.65px;width:3.2px;height:3.2px;border-radius:50%;background:#545b64"></div><div style="position:absolute;left:938.1px;top:118.20px;width:3.2px;height:3.2px;border-radius:50%;background:#545b64"></div><div style="position:absolute;left:938.1px;top:123.75px;width:3.2px;height:3.2px;border-radius:50%;background:#545b64"></div><div style="position:absolute;left:963px;top:102.40px;width:470px;height:35px;background:#fff"></div><div class="t" style="left:975px;top:113.10px;font-size:14px;color:#3a3a3a;letter-spacing:0.35px">Top 10 heap memory max</div><div style="position:absolute;left:1415.9px;top:112.65px;width:3.2px;height:3.2px;border-radius:50%;background:#545b64"></div><div style="position:absolute;left:1415.9px;top:118.20px;width:3.2px;height:3.2px;border-radius:50%;background:#545b64"></div><div style="position:absolute;left:1415.9px;top:123.75px;width:3.2px;height:3.2px;border-radius:50%;background:#545b64"></div></div><div style="position:absolute;left:0;top:0;width:1440px;height:169.40px;background:rgba(255,255,255,0.84)"></div></div>
<div class="t" style="left:721px;top:2934.55px;font-size:23px;color:#000000;transform:translateX(-50%);letter-spacing:0.71px">End of preview</div>
<div class="t" style="left:721.2px;top:2973.93px;font-size:17.5px;color:#333a44;transform:translateX(-50%);letter-spacing:0.44px">Create dashboard to view in full</div>
<div style="position:absolute;left:580px;top:2945.4px;width:49.5px;height:0;border-top:1px dotted #adadad"></div>
<div style="position:absolute;left:813px;top:2945.4px;width:49px;height:0;border-top:1px dotted #adadad"></div>
</div></body></html>
